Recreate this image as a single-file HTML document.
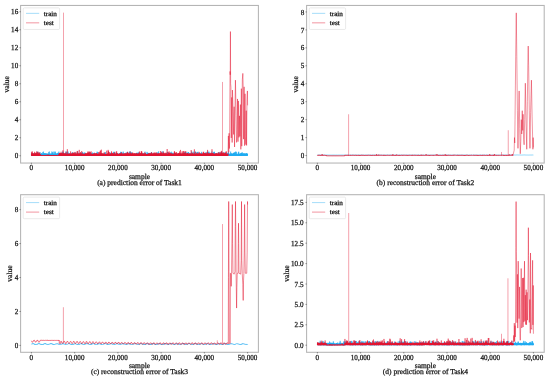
<!DOCTYPE html>
<html lang="en"><head><meta charset="utf-8"><title>Figure</title>
<style>
html,body{margin:0;padding:0;background:#fff;}
svg{display:block;}
text{font-family:"Liberation Serif","DejaVu Serif",serif;fill:#151515;stroke:#151515;stroke-width:0.25px;text-rendering:geometricPrecision;}
.t{font-size:7.7px;}
.l{font-size:7.5px;}
.c{font-size:7.5px;}
.g{font-size:6.7px;}
</style></head><body>
<svg width="550" height="379" viewBox="0 0 550 379">
<rect width="550" height="379" fill="#fff"/>
<rect x="20.6" y="5.45" width="237.8" height="157.6" fill="#fff" stroke="#b4b4b4" stroke-width="1.05"/>
<line x1="31.41" y1="162.75" x2="31.41" y2="164.25" stroke="#444" stroke-width="0.5"/>
<text transform="translate(31.41 170.45) scale(0.93 1)" text-anchor="middle" class="t">0</text>
<line x1="74.65" y1="162.75" x2="74.65" y2="164.25" stroke="#444" stroke-width="0.5"/>
<text transform="translate(74.65 170.45) scale(0.93 1)" text-anchor="middle" class="t">10,000</text>
<line x1="117.88" y1="162.75" x2="117.88" y2="164.25" stroke="#444" stroke-width="0.5"/>
<text transform="translate(117.88 170.45) scale(0.93 1)" text-anchor="middle" class="t">20,000</text>
<line x1="161.12" y1="162.75" x2="161.12" y2="164.25" stroke="#444" stroke-width="0.5"/>
<text transform="translate(161.12 170.45) scale(0.93 1)" text-anchor="middle" class="t">30,000</text>
<line x1="204.35" y1="162.75" x2="204.35" y2="164.25" stroke="#444" stroke-width="0.5"/>
<text transform="translate(204.35 170.45) scale(0.93 1)" text-anchor="middle" class="t">40,000</text>
<line x1="247.59" y1="162.75" x2="247.59" y2="164.25" stroke="#444" stroke-width="0.5"/>
<text transform="translate(247.59 170.45) scale(0.93 1)" text-anchor="middle" class="t">50,000</text>
<line x1="19.4" y1="155.75" x2="20.9" y2="155.75" stroke="#444" stroke-width="0.5"/>
<text transform="translate(18.2 158.35) scale(0.93 1)" text-anchor="end" class="t">0</text>
<line x1="19.4" y1="137.75" x2="20.9" y2="137.75" stroke="#444" stroke-width="0.5"/>
<text transform="translate(18.2 140.35) scale(0.93 1)" text-anchor="end" class="t">2</text>
<line x1="19.4" y1="119.75" x2="20.9" y2="119.75" stroke="#444" stroke-width="0.5"/>
<text transform="translate(18.2 122.35) scale(0.93 1)" text-anchor="end" class="t">4</text>
<line x1="19.4" y1="101.75" x2="20.9" y2="101.75" stroke="#444" stroke-width="0.5"/>
<text transform="translate(18.2 104.35) scale(0.93 1)" text-anchor="end" class="t">6</text>
<line x1="19.4" y1="83.75" x2="20.9" y2="83.75" stroke="#444" stroke-width="0.5"/>
<text transform="translate(18.2 86.35) scale(0.93 1)" text-anchor="end" class="t">8</text>
<line x1="19.4" y1="65.75" x2="20.9" y2="65.75" stroke="#444" stroke-width="0.5"/>
<text transform="translate(18.2 68.35) scale(0.93 1)" text-anchor="end" class="t">10</text>
<line x1="19.4" y1="47.75" x2="20.9" y2="47.75" stroke="#444" stroke-width="0.5"/>
<text transform="translate(18.2 50.35) scale(0.93 1)" text-anchor="end" class="t">12</text>
<line x1="19.4" y1="29.75" x2="20.9" y2="29.75" stroke="#444" stroke-width="0.5"/>
<text transform="translate(18.2 32.35) scale(0.93 1)" text-anchor="end" class="t">14</text>
<line x1="19.4" y1="11.75" x2="20.9" y2="11.75" stroke="#444" stroke-width="0.5"/>
<text transform="translate(18.2 14.35) scale(0.93 1)" text-anchor="end" class="t">16</text>
<text x="139.5" y="178.85" text-anchor="middle" class="l">sample</text>
<text x="139.5" y="185.05" text-anchor="middle" class="c">(a) prediction error of Task1</text>
<text transform="translate(9 84.25) rotate(-90)" text-anchor="middle" class="l">value</text>
<polyline points="31.41,155.62 31.5,153.49 31.59,155.72 31.68,154.64 31.77,155.53 31.86,153.54 31.95,155.59 32.04,153.62 32.13,155.69 32.22,154.23 32.31,155.47 32.4,154.55 32.49,155.6 32.58,154.26 32.67,155.74 32.76,154.08 32.85,155.43 32.94,153.67 33.03,155.6 33.12,153.34 33.21,155.72 33.3,154.75 33.39,155.65 33.48,154.95 33.57,155.66 33.66,154.15 33.75,155.73 33.84,153.46 33.93,155.63 34.02,154.15 34.11,155.69 34.2,154.6 34.29,155.67 34.38,154.69 34.47,155.51 34.56,154.68 34.65,155.69 34.74,155.01 34.83,155.74 34.92,154.76 35.01,155.69 35.1,153.29 35.19,155.64 35.28,153.58 35.37,155.69 35.46,153.76 35.55,155.53 35.64,154.1 35.73,155.43 35.82,153.54 35.91,155.45 36,154 36.09,155.58 36.19,154.36 36.28,155.47 36.37,154.77 36.46,155.47 36.55,154.38 36.64,155.52 36.73,154.02 36.82,155.46 36.91,153.94 37,155.61 37.09,154.76 37.18,155.48 37.27,154.61 37.36,155.56 37.45,151.63 37.54,155.48 37.63,154.66 37.72,155.48 37.81,151.87 37.9,155.73 37.99,153.89 38.08,155.45 38.17,153.58 38.26,155.74 38.35,153.48 38.44,155.6 38.53,154.77 38.62,155.54 38.71,153.44 38.8,155.45 38.89,154.71 38.98,155.73 39.07,153.93 39.16,155.51 39.25,154.38 39.34,155.63 39.43,154.61 39.52,155.74 39.61,153.53 39.7,155.63 39.79,154.09 39.88,155.52 39.97,152.03 40.06,155.72 40.15,154.39 40.24,155.44 40.33,154.81 40.42,155.73 40.51,153.9 40.6,155.66 40.69,154.13 40.78,155.63 40.87,154.44 40.96,155.73 41.05,153.86 41.14,155.42 41.23,154.14 41.32,155.4 41.41,153.47 41.5,155.42 41.59,153.43 41.68,155.68 41.77,153.74 41.86,155.45 41.95,154.79 42.04,155.63 42.13,153.63 42.22,155.65 42.31,153.95 42.4,155.5 42.49,154.15 42.58,155.72 42.67,154.64 42.76,155.75 42.85,152.12 42.94,155.41 43.03,154.43 43.12,155.62 43.21,154.05 43.3,155.46 43.39,151.59 43.48,155.6 43.57,154.26 43.66,155.72 43.75,154.14 43.84,155.58 43.93,153.5 44.02,155.69 44.12,154.03 44.21,155.72 44.3,153.53 44.39,155.74 44.48,153.45 44.57,155.61 44.66,154.29 44.75,155.66 44.84,153.4 44.93,155.63 45.02,153.65 45.11,155.4 45.2,153.8 45.29,155.45 45.38,153.37 45.47,155.5 45.56,154.34 45.65,155.66 45.74,154.93 45.83,155.48 45.92,153.46 46.01,155.5 46.1,154.83 46.19,155.56 46.28,154.21 46.37,155.66 46.46,153.9 46.55,155.68 46.64,153.39 46.73,155.6 46.82,153.95 46.91,155.65 47,154.71 47.09,155.43 47.18,154.32 47.27,155.58 47.36,153.63 47.45,155.51 47.54,154.83 47.63,155.43 47.72,153.66 47.81,155.53 47.9,154.13 47.99,155.69 48.08,154.94 48.17,155.64 48.26,154.99 48.35,155.42 48.44,154.6 48.53,155.73 48.62,152.23 48.71,155.67 48.8,154.02 48.89,155.53 48.98,153.87 49.07,155.44 49.16,154.49 49.25,155.45 49.34,151.49 49.43,155.49 49.52,153.9 49.61,155.5 49.7,154.7 49.79,155.62 49.88,154.95 49.97,155.73 50.06,153.39 50.15,155.52 50.24,154.93 50.33,155.72 50.42,154.48 50.51,155.46 50.6,153.96 50.69,155.7 50.78,154.49 50.87,155.74 50.96,153.67 51.05,155.39 51.14,153.72 51.23,155.69 51.32,154.69 51.41,155.54 51.5,153.93 51.59,155.73 51.68,154.86 51.77,155.4 51.86,151.47 51.95,155.74 52.05,153.65 52.14,155.5 52.23,153.79 52.32,155.45 52.41,153.5 52.5,155.64 52.59,152.17 52.68,155.75 52.77,154.66 52.86,155.74 52.95,153.41 53.04,155.73 53.13,154.59 53.22,155.48 53.31,153.9 53.4,155.56 53.49,154.37 53.58,155.43 53.67,153.89 53.76,155.52 53.85,151.57 53.94,155.54 54.03,154.1 54.12,155.68 54.21,154.6 54.3,155.67 54.39,154.24 54.48,155.4 54.57,153.74 54.66,155.41 54.75,154.51 54.84,155.59 54.93,151.76 55.02,155.46 55.11,154.79 55.2,155.49 55.29,151.7 55.38,155.65 55.47,154.56 55.56,155.68 55.65,153.6 55.74,155.48 55.83,154.7 55.92,155.4 56.01,153.52 56.1,155.4 56.19,153.81 56.28,155.62 56.37,153.78 56.46,155.73 56.55,153.62 56.64,155.64 56.73,154.39 56.82,155.72 56.91,154.14 57,155.39 57.09,154.7 57.18,155.64 57.27,154.11 57.36,155.44 57.45,153.5 57.54,155.66 57.63,153.18 57.72,155.4 57.81,153.92 57.9,155.57 57.99,153.33 58.08,155.45 58.17,152.65 58.26,155.53 58.35,154.35 58.44,155.47 58.53,154.71 58.62,155.72 58.71,153.73 58.8,155.72 58.89,151.6 58.98,155.62 59.07,154.31 59.16,155.43 59.25,153.58 59.34,155.42 59.43,154.36 59.52,155.49 59.61,153.79 59.7,155.53 59.79,153.61 59.88,155.73 59.98,154.36 60.07,155.42 60.16,153.73 60.25,155.51 60.34,154.77 60.43,155.53 60.52,153.62 60.61,155.45 60.7,154.81 60.79,155.66 60.88,153.17 60.97,155.53 61.06,154.72 61.15,155.5 61.24,154.26 61.33,155.48 61.42,154.7 61.51,155.72 61.6,154.65 61.69,155.49 61.78,154.91 61.87,155.43 61.96,154.97 62.05,155.52 62.14,154.49 62.23,155.69 62.32,154.25 62.41,155.42 62.5,153.33 62.59,155.71 62.68,151.74 62.77,155.67 62.86,152.9 62.95,155.44 63.04,151.84 63.13,155.54 63.22,154.16 63.31,155.63 63.4,154.72 63.49,155.46 63.58,152.88 63.67,155.52 63.76,153.88 63.85,155.71 63.94,154.12 64.03,155.67 64.12,154.14 64.21,155.46 64.3,154.11 64.39,155.46 64.48,153.68 64.57,155.72 64.66,154.72 64.75,155.56 64.84,154.83 64.93,155.49 65.02,153.42 65.11,155.63 65.2,153.37 65.29,155.73 65.38,154.16 65.47,155.6 65.56,153.46 65.65,155.41 65.74,154.48 65.83,155.49 65.92,151.48 66.01,155.67 66.1,154.23 66.19,155.45 66.28,153.73 66.37,155.51 66.46,152.8 66.55,155.65 66.64,153.58 66.73,155.65 66.82,153.77 66.91,155.69 67,151.55 67.09,155.6 67.18,154.74 67.27,155.62 67.36,154.01 67.45,155.65 67.54,153.43 67.63,155.44 67.72,152.76 67.81,155.48 67.9,153.38 68,155.57 68.09,151.57 68.18,155.4 68.27,153.66 68.36,155.51 68.45,153.93 68.54,155.41 68.63,154.28 68.72,155.45 68.81,153.84 68.9,155.52 68.99,154.45 69.08,155.5 69.17,154.67 69.26,155.47 69.35,153.71 69.44,155.48 69.53,153.78 69.62,155.44 69.71,153.39 69.8,155.63 69.89,154.33 69.98,155.62 70.07,154.13 70.16,155.66 70.25,154.88 70.34,155.42 70.43,154.07 70.52,155.42 70.61,154.95 70.7,155.59 70.79,153.95 70.88,155.61 70.97,154.89 71.06,155.7 71.15,154.64 71.24,155.4 71.33,153.53 71.42,155.51 71.51,154.25 71.6,155.4 71.69,153.82 71.78,155.52 71.87,153.65 71.96,155.56 72.05,153.97 72.14,155.48 72.23,153.87 72.32,155.43 72.41,152.05 72.5,155.45 72.59,154.35 72.68,155.63 72.77,154.37 72.86,155.57 72.95,153.74 73.04,155.41 73.13,154.45 73.22,155.57 73.31,154.37 73.4,155.46 73.49,153.69 73.58,155.56 73.67,153.81 73.76,155.45 73.85,154.36 73.94,155.73 74.03,154.04 74.12,155.75 74.21,153.89 74.3,155.72 74.39,154.03 74.48,155.59 74.57,154.71 74.66,155.62 74.75,154.52 74.84,155.4 74.93,153.32 75.02,155.39 75.11,152.19 75.2,155.7 75.29,154.03 75.38,155.45 75.47,153.51 75.56,155.57 75.65,154.57 75.74,155.45 75.83,154.18 75.93,155.62 76.02,154.9 76.11,155.47 76.2,154.49 76.29,155.75 76.38,154.68 76.47,155.58 76.56,153.61 76.65,155.63 76.74,154.22 76.83,155.66 76.92,154.24 77.01,155.64 77.1,154.09 77.19,155.6 77.28,154.48 77.37,155.57 77.46,153.71 77.55,155.56 77.64,153.77 77.73,155.49 77.82,151.6 77.91,155.45 78,153.86 78.09,155.4 78.18,153.93 78.27,155.51 78.36,153.94 78.45,155.66 78.54,154.21 78.63,155.54 78.72,153.95 78.81,155.59 78.9,153.38 78.99,155.67 79.08,154.5 79.17,155.63 79.26,154.91 79.35,155.67 79.44,153.71 79.53,155.56 79.62,154.69 79.71,155.73 79.8,154.47 79.89,155.55 79.98,154.19 80.07,155.6 80.16,153.9 80.25,155.75 80.34,153.03 80.43,155.65 80.52,154.44 80.61,155.4 80.7,154.28 80.79,155.54 80.88,154.78 80.97,155.73 81.06,152.8 81.15,155.54 81.24,154.79 81.33,155.5 81.42,154.54 81.51,155.7 81.6,153.21 81.69,155.61 81.78,154.74 81.87,155.67 81.96,155 82.05,155.55 82.14,154.74 82.23,155.45 82.32,152.51 82.41,155.66 82.5,153.97 82.59,155.7 82.68,152 82.77,155.7 82.86,154.75 82.95,155.53 83.04,153.5 83.13,155.73 83.22,154.94 83.31,155.56 83.4,154 83.49,155.46 83.58,154.66 83.67,155.47 83.76,153.51 83.86,155.51 83.95,154.48 84.04,155.75 84.13,153.61 84.22,155.59 84.31,153.34 84.4,155.66 84.49,152.67 84.58,155.56 84.67,154.05 84.76,155.7 84.85,153.99 84.94,155.7 85.03,152.62 85.12,155.41 85.21,153.79 85.3,155.43 85.39,154.3 85.48,155.71 85.57,153.74 85.66,155.45 85.75,154.89 85.84,155.73 85.93,154.71 86.02,155.63 86.11,154.26 86.2,155.39 86.29,154.55 86.38,155.41 86.47,153.86 86.56,155.58 86.65,154.34 86.74,155.5 86.83,153.68 86.92,155.61 87.01,154.78 87.1,155.44 87.19,153.85 87.28,155.64 87.37,154.57 87.46,155.68 87.55,153.28 87.64,155.7 87.73,154.8 87.82,155.52 87.91,154.82 88,155.55 88.09,154.96 88.18,155.43 88.27,153.58 88.36,155.7 88.45,154.55 88.54,155.46 88.63,152.92 88.72,155.41 88.81,153.95 88.9,155.48 88.99,152.83 89.08,155.71 89.17,153.73 89.26,155.69 89.35,153.76 89.44,155.72 89.53,152.05 89.62,155.63 89.71,154.36 89.8,155.48 89.89,153.38 89.98,155.7 90.07,154.67 90.16,155.59 90.25,154.55 90.34,155.73 90.43,152.61 90.52,155.51 90.61,154.53 90.7,155.71 90.79,154.89 90.88,155.46 90.97,154.56 91.06,155.53 91.15,154.91 91.24,155.68 91.33,154.66 91.42,155.5 91.51,153.45 91.6,155.62 91.69,154.05 91.79,155.56 91.88,154.89 91.97,155.55 92.06,153.52 92.15,155.65 92.24,153.65 92.33,155.6 92.42,152.48 92.51,155.47 92.6,153.55 92.69,155.44 92.78,154.13 92.87,155.44 92.96,153.73 93.05,155.55 93.14,154.57 93.23,155.44 93.32,154.22 93.41,155.7 93.5,153.37 93.59,155.4 93.68,154.95 93.77,155.73 93.86,154.76 93.95,155.43 94.04,154.06 94.13,155.46 94.22,152.68 94.31,155.61 94.4,154.47 94.49,155.47 94.58,152.89 94.67,155.41 94.76,153.66 94.85,155.69 94.94,154.68 95.03,155.52 95.12,154.19 95.21,155.75 95.3,153.97 95.39,155.51 95.48,154.79 95.57,155.73 95.66,153.77 95.75,155.51 95.84,154.56 95.93,155.74 96.02,154.1 96.11,155.6 96.2,154.07 96.29,155.44 96.38,152.91 96.47,155.64 96.56,154.85 96.65,155.4 96.74,154.73 96.83,155.58 96.92,153.47 97.01,155.68 97.1,151.66 97.19,155.41 97.28,154.22 97.37,155.69 97.46,154.9 97.55,155.54 97.64,154.19 97.73,155.41 97.82,151.99 97.91,155.41 98,154.78 98.09,155.55 98.18,152.86 98.27,155.67 98.36,154.82 98.45,155.57 98.54,154.49 98.63,155.64 98.72,155 98.81,155.64 98.9,154.74 98.99,155.64 99.08,153.9 99.17,155.68 99.26,154.74 99.35,155.74 99.44,154.54 99.53,155.48 99.62,154.65 99.71,155.75 99.81,154.23 99.9,155.54 99.99,154.02 100.08,155.62 100.17,154.96 100.26,155.52 100.35,153.74 100.44,155.54 100.53,154.33 100.62,155.58 100.71,154.33 100.8,155.47 100.89,153.46 100.98,155.54 101.07,153.77 101.16,155.43 101.25,154.78 101.34,155.54 101.43,154 101.52,155.43 101.61,154.77 101.7,155.44 101.79,154.21 101.88,155.5 101.97,153.37 102.06,155.63 102.15,154.8 102.24,155.57 102.33,154.85 102.42,155.72 102.51,154.46 102.6,155.49 102.69,154.96 102.78,155.52 102.87,153.98 102.96,155.46 103.05,154.05 103.14,155.72 103.23,154.06 103.32,155.7 103.41,153.87 103.5,155.52 103.59,154.75 103.68,155.49 103.77,154.32 103.86,155.72 103.95,153.5 104.04,155.74 104.13,154.57 104.22,155.63 104.31,153.42 104.4,155.63 104.49,154.39 104.58,155.73 104.67,154.33 104.76,155.71 104.85,152.71 104.94,155.68 105.03,154.26 105.12,155.74 105.21,154.28 105.3,155.7 105.39,152.07 105.48,155.74 105.57,154.06 105.66,155.62 105.75,153.66 105.84,155.48 105.93,154.62 106.02,155.51 106.11,154.5 106.2,155.53 106.29,154.38 106.38,155.58 106.47,153.94 106.56,155.68 106.65,154.84 106.74,155.73 106.83,153.73 106.92,155.68 107.01,153.94 107.1,155.41 107.19,154.33 107.28,155.46 107.37,154.59 107.46,155.54 107.55,153.98 107.64,155.53 107.74,154.76 107.83,155.48 107.92,154.88 108.01,155.45 108.1,154.68 108.19,155.66 108.28,154.68 108.37,155.46 108.46,151.54 108.55,155.52 108.64,153.34 108.73,155.65 108.82,154.95 108.91,155.65 109,154 109.09,155.69 109.18,154.45 109.27,155.55 109.36,155.01 109.45,155.4 109.54,154.09 109.63,155.47 109.72,154.68 109.81,155.69 109.9,154.9 109.99,155.71 110.08,153.44 110.17,155.65 110.26,152.68 110.35,155.69 110.44,155 110.53,155.7 110.62,153.39 110.71,155.49 110.8,153.94 110.89,155.64 110.98,154.48 111.07,155.55 111.16,154.65 111.25,155.64 111.34,154.81 111.43,155.4 111.52,154.85 111.61,155.54 111.7,153.49 111.79,155.7 111.88,154.45 111.97,155.47 112.06,153.67 112.15,155.65 112.24,154.09 112.33,155.59 112.42,154.85 112.51,155.65 112.6,154.03 112.69,155.57 112.78,153.63 112.87,155.64 112.96,154.14 113.05,155.63 113.14,153.51 113.23,155.69 113.32,154.8 113.41,155.4 113.5,152.05 113.59,155.68 113.68,154.25 113.77,155.65 113.86,154.96 113.95,155.6 114.04,151.63 114.13,155.71 114.22,153.29 114.31,155.67 114.4,154.49 114.49,155.6 114.58,155.01 114.67,155.54 114.76,154.68 114.85,155.56 114.94,152.67 115.03,155.62 115.12,153.5 115.21,155.51 115.3,154.54 115.39,155.48 115.48,154.16 115.57,155.65 115.67,154.94 115.76,155.66 115.85,154.04 115.94,155.52 116.03,154.15 116.12,155.6 116.21,154.28 116.3,155.45 116.39,153.41 116.48,155.75 116.57,154.76 116.66,155.56 116.75,153.6 116.84,155.62 116.93,153.78 117.02,155.67 117.11,154.66 117.2,155.44 117.29,155 117.38,155.67 117.47,154.69 117.56,155.47 117.65,153.36 117.74,155.44 117.83,154.92 117.92,155.4 118.01,153.9 118.1,155.71 118.19,154.59 118.28,155.69 118.37,154.1 118.46,155.72 118.55,154.16 118.64,155.63 118.73,153.9 118.82,155.42 118.91,153.48 119,155.52 119.09,154.18 119.18,155.69 119.27,153.56 119.36,155.71 119.45,153.65 119.54,155.48 119.63,153.8 119.72,155.53 119.81,154 119.9,155.75 119.99,154.93 120.08,155.54 120.17,154.1 120.26,155.68 120.35,154.43 120.44,155.64 120.53,151.87 120.62,155.71 120.71,154.85 120.8,155.39 120.89,153.38 120.98,155.59 121.07,153.51 121.16,155.53 121.25,151.86 121.34,155.68 121.43,154.68 121.52,155.61 121.61,153.53 121.7,155.52 121.79,154.13 121.88,155.48 121.97,154.14 122.06,155.42 122.15,154.81 122.24,155.66 122.33,153.66 122.42,155.66 122.51,154.78 122.6,155.6 122.69,154.57 122.78,155.64 122.87,152.55 122.96,155.45 123.05,154.3 123.14,155.62 123.23,151.62 123.32,155.62 123.41,154.53 123.5,155.57 123.6,154.23 123.69,155.55 123.78,154.6 123.87,155.62 123.96,154.49 124.05,155.75 124.14,154.35 124.23,155.49 124.32,153.53 124.41,155.71 124.5,154.86 124.59,155.44 124.68,153.34 124.77,155.66 124.86,154.51 124.95,155.66 125.04,155 125.13,155.56 125.22,154.66 125.31,155.42 125.4,154.22 125.49,155.61 125.58,154.48 125.67,155.58 125.76,153.64 125.85,155.6 125.94,154.06 126.03,155.71 126.12,152.46 126.21,155.65 126.3,154.29 126.39,155.42 126.48,154.36 126.57,155.41 126.66,154.83 126.75,155.66 126.84,153.72 126.93,155.42 127.02,154.58 127.11,155.74 127.2,153.8 127.29,155.49 127.38,151.85 127.47,155.74 127.56,154.72 127.65,155.6 127.74,153.8 127.83,155.6 127.92,153.54 128.01,155.59 128.1,154.23 128.19,155.41 128.28,153.46 128.37,155.62 128.46,153.84 128.55,155.74 128.64,153.43 128.73,155.71 128.82,154.97 128.91,155.48 129,153.99 129.09,155.7 129.18,152.06 129.27,155.73 129.36,154.09 129.45,155.68 129.54,154.4 129.63,155.4 129.72,154 129.81,155.59 129.9,151.47 129.99,155.7 130.08,154.05 130.17,155.51 130.26,151.74 130.35,155.61 130.44,154.82 130.53,155.55 130.62,153.91 130.71,155.39 130.8,153.7 130.89,155.5 130.98,153.5 131.07,155.56 131.16,154.82 131.25,155.39 131.34,152.24 131.43,155.57 131.52,154.15 131.62,155.59 131.71,154.09 131.8,155.44 131.89,152.74 131.98,155.41 132.07,154.01 132.16,155.49 132.25,154.24 132.34,155.62 132.43,153.02 132.52,155.61 132.61,154.03 132.7,155.75 132.79,153.68 132.88,155.66 132.97,154.92 133.06,155.47 133.15,154.69 133.24,155.57 133.33,154.47 133.42,155.44 133.51,153.95 133.6,155.51 133.69,155 133.78,155.55 133.87,154.41 133.96,155.46 134.05,154.09 134.14,155.57 134.23,153.73 134.32,155.51 134.41,154.53 134.5,155.57 134.59,154.23 134.68,155.62 134.77,154 134.86,155.47 134.95,154.27 135.04,155.72 135.13,154.03 135.22,155.4 135.31,153.4 135.4,155.4 135.49,154.33 135.58,155.45 135.67,153.51 135.76,155.58 135.85,154.22 135.94,155.59 136.03,154.2 136.12,155.61 136.21,154.54 136.3,155.58 136.39,153.61 136.48,155.67 136.57,152.78 136.66,155.46 136.75,154.16 136.84,155.43 136.93,153.68 137.02,155.57 137.11,153.38 137.2,155.44 137.29,154.51 137.38,155.65 137.47,153.51 137.56,155.44 137.65,152.69 137.74,155.4 137.83,152.95 137.92,155.51 138.01,153.93 138.1,155.4 138.19,153.66 138.28,155.49 138.37,154.21 138.46,155.5 138.55,153.34 138.64,155.58 138.73,154.15 138.82,155.73 138.91,151.89 139,155.7 139.09,154.08 139.18,155.45 139.27,153.44 139.36,155.68 139.45,154.67 139.55,155.5 139.64,153.81 139.73,155.69 139.82,153.49 139.91,155.48 140,153.43 140.09,155.41 140.18,155.02 140.27,155.53 140.36,153.38 140.45,155.74 140.54,154.92 140.63,155.48 140.72,153.46 140.81,155.58 140.9,153.8 140.99,155.44 141.08,153.59 141.17,155.7 141.26,154.85 141.35,155.65 141.44,154.79 141.53,155.42 141.62,153.33 141.71,155.45 141.8,154.13 141.89,155.42 141.98,154.54 142.07,155.56 142.16,153.47 142.25,155.51 142.34,154.46 142.43,155.41 142.52,153.46 142.61,155.51 142.7,155.01 142.79,155.72 142.88,154 142.97,155.69 143.06,153.77 143.15,155.75 143.24,154.86 143.33,155.71 143.42,153.02 143.51,155.74 143.6,153.77 143.69,155.61 143.78,153.97 143.87,155.53 143.96,154.62 144.05,155.44 144.14,154.81 144.23,155.6 144.32,154.94 144.41,155.69 144.5,154.73 144.59,155.42 144.68,154.09 144.77,155.42 144.86,153.43 144.95,155.4 145.04,151.63 145.13,155.74 145.22,153.82 145.31,155.54 145.4,154.99 145.49,155.52 145.58,154.72 145.67,155.56 145.76,154.13 145.85,155.68 145.94,153.34 146.03,155.42 146.12,154.35 146.21,155.56 146.3,154.23 146.39,155.74 146.48,154.4 146.57,155.63 146.66,154.54 146.75,155.49 146.84,154.77 146.93,155.68 147.02,151.87 147.11,155.47 147.2,153.58 147.29,155.67 147.38,153.97 147.48,155.59 147.57,154.41 147.66,155.64 147.75,152.77 147.84,155.7 147.93,153.39 148.02,155.43 148.11,153.38 148.2,155.63 148.29,153.67 148.38,155.48 148.47,153.54 148.56,155.43 148.65,153.82 148.74,155.65 148.83,154.16 148.92,155.75 149.01,154.68 149.1,155.56 149.19,152.86 149.28,155.67 149.37,153.89 149.46,155.44 149.55,153.9 149.64,155.69 149.73,153.89 149.82,155.49 149.91,153.21 150,155.74 150.09,153.31 150.18,155.65 150.27,154.23 150.36,155.68 150.45,154.4 150.54,155.44 150.63,154.1 150.72,155.53 150.81,153.45 150.9,155.51 150.99,154.92 151.08,155.72 151.17,154.58 151.26,155.64 151.35,152.04 151.44,155.43 151.53,154.19 151.62,155.53 151.71,153.84 151.8,155.48 151.89,152.55 151.98,155.57 152.07,153.87 152.16,155.68 152.25,153.99 152.34,155.42 152.43,154.06 152.52,155.66 152.61,154.17 152.7,155.69 152.79,154.36 152.88,155.52 152.97,153.9 153.06,155.72 153.15,154.42 153.24,155.47 153.33,153.97 153.42,155.49 153.51,153.5 153.6,155.61 153.69,154.41 153.78,155.56 153.87,154.82 153.96,155.57 154.05,154.55 154.14,155.72 154.23,153.34 154.32,155.72 154.41,153.68 154.5,155.62 154.59,154.03 154.68,155.75 154.77,154.53 154.86,155.68 154.95,153.75 155.04,155.62 155.13,154.52 155.22,155.52 155.31,153.33 155.4,155.56 155.5,153.54 155.59,155.69 155.68,153.76 155.77,155.48 155.86,154.64 155.95,155.46 156.04,153.96 156.13,155.51 156.22,154.51 156.31,155.5 156.4,154.98 156.49,155.66 156.58,154.27 156.67,155.45 156.76,153.19 156.85,155.54 156.94,153.88 157.03,155.69 157.12,152.13 157.21,155.5 157.3,153.75 157.39,155.52 157.48,154.87 157.57,155.55 157.66,154.62 157.75,155.58 157.84,153.63 157.93,155.47 158.02,153.59 158.11,155.49 158.2,154.7 158.29,155.54 158.38,153.78 158.47,155.73 158.56,151.44 158.65,155.67 158.74,154.51 158.83,155.4 158.92,154.14 159.01,155.61 159.1,154.47 159.19,155.52 159.28,154.18 159.37,155.7 159.46,154.3 159.55,155.54 159.64,153.86 159.73,155.53 159.82,153.35 159.91,155.48 160,154.16 160.09,155.4 160.18,154.35 160.27,155.59 160.36,154.87 160.45,155.64 160.54,153.55 160.63,155.69 160.72,153.66 160.81,155.63 160.9,154.42 160.99,155.59 161.08,154.69 161.17,155.4 161.26,154.5 161.35,155.57 161.44,154.45 161.53,155.51 161.62,153.42 161.71,155.49 161.8,153.38 161.89,155.75 161.98,153.92 162.07,155.67 162.16,151.44 162.25,155.56 162.34,154.84 162.43,155.73 162.52,154.33 162.61,155.7 162.7,154.11 162.79,155.48 162.88,153.79 162.97,155.51 163.06,154.08 163.15,155.7 163.24,151.48 163.33,155.71 163.43,154.45 163.52,155.45 163.61,154.85 163.7,155.58 163.79,154.24 163.88,155.64 163.97,153.8 164.06,155.49 164.15,153.69 164.24,155.51 164.33,154.11 164.42,155.39 164.51,153.87 164.6,155.71 164.69,153.66 164.78,155.47 164.87,154.18 164.96,155.58 165.05,154.85 165.14,155.66 165.23,154.6 165.32,155.57 165.41,153.75 165.5,155.74 165.59,153.83 165.68,155.71 165.77,154.36 165.86,155.71 165.95,154.52 166.04,155.5 166.13,153.71 166.22,155.49 166.31,154.55 166.4,155.66 166.49,153.87 166.58,155.64 166.67,153.79 166.76,155.47 166.85,154.71 166.94,155.61 167.03,154.54 167.12,155.62 167.21,153.33 167.3,155.41 167.39,154.96 167.48,155.55 167.57,151.98 167.66,155.56 167.75,154.01 167.84,155.53 167.93,152.29 168.02,155.74 168.11,153.55 168.2,155.61 168.29,154.7 168.38,155.47 168.47,153.07 168.56,155.52 168.65,153.96 168.74,155.43 168.83,154.9 168.92,155.64 169.01,153.67 169.1,155.58 169.19,154.91 169.28,155.67 169.37,153.94 169.46,155.68 169.55,154.25 169.64,155.72 169.73,153.38 169.82,155.68 169.91,153.8 170,155.69 170.09,153.26 170.18,155.59 170.27,154.91 170.36,155.6 170.45,152.5 170.54,155.47 170.63,154.47 170.72,155.47 170.81,153.63 170.9,155.56 170.99,154.85 171.08,155.51 171.17,154.11 171.26,155.58 171.36,151.74 171.45,155.64 171.54,154.64 171.63,155.57 171.72,153.62 171.81,155.52 171.9,154.98 171.99,155.41 172.08,154.51 172.17,155.46 172.26,153.56 172.35,155.73 172.44,153.55 172.53,155.52 172.62,153.59 172.71,155.72 172.8,154.57 172.89,155.53 172.98,152.6 173.07,155.44 173.16,153.61 173.25,155.5 173.34,154.74 173.43,155.71 173.52,154.23 173.61,155.6 173.7,153.42 173.79,155.68 173.88,153.78 173.97,155.51 174.06,154.56 174.15,155.49 174.24,155.02 174.33,155.48 174.42,154.55 174.51,155.62 174.6,154.48 174.69,155.53 174.78,153.79 174.87,155.68 174.96,154.63 175.05,155.42 175.14,153.57 175.23,155.41 175.32,154.07 175.41,155.74 175.5,153.53 175.59,155.55 175.68,154.15 175.77,155.49 175.86,154.65 175.95,155.67 176.04,154.46 176.13,155.74 176.22,154.33 176.31,155.75 176.4,154.53 176.49,155.5 176.58,154.46 176.67,155.75 176.76,153.97 176.85,155.61 176.94,154.68 177.03,155.46 177.12,154.15 177.21,155.73 177.3,153.81 177.39,155.5 177.48,153.58 177.57,155.59 177.66,153.88 177.75,155.61 177.84,154.75 177.93,155.58 178.02,154.59 178.11,155.62 178.2,154.82 178.29,155.44 178.38,154.99 178.47,155.51 178.56,153.75 178.65,155.61 178.74,154.8 178.83,155.71 178.92,153.6 179.01,155.57 179.1,154.69 179.19,155.39 179.29,154.24 179.38,155.43 179.47,154.1 179.56,155.73 179.65,153.91 179.74,155.62 179.83,153.85 179.92,155.58 180.01,153.82 180.1,155.6 180.19,153.79 180.28,155.71 180.37,153.41 180.46,155.68 180.55,154.56 180.64,155.56 180.73,154.14 180.82,155.49 180.91,154.6 181,155.49 181.09,154.4 181.18,155.51 181.27,154.28 181.36,155.51 181.45,154.25 181.54,155.75 181.63,155 181.72,155.67 181.81,154.52 181.9,155.63 181.99,154.41 182.08,155.66 182.17,153.49 182.26,155.61 182.35,154.7 182.44,155.61 182.53,154.39 182.62,155.63 182.71,153.9 182.8,155.75 182.89,153.73 182.98,155.44 183.07,154.99 183.16,155.41 183.25,154.15 183.34,155.53 183.43,154.36 183.52,155.65 183.61,153.59 183.7,155.59 183.79,154.56 183.88,155.42 183.97,152.25 184.06,155.53 184.15,152.42 184.24,155.5 184.33,153.92 184.42,155.5 184.51,153.59 184.6,155.4 184.69,153.82 184.78,155.51 184.87,153.52 184.96,155.71 185.05,153.78 185.14,155.57 185.23,152.24 185.32,155.42 185.41,151.93 185.5,155.7 185.59,154.21 185.68,155.73 185.77,154.23 185.86,155.73 185.95,154.19 186.04,155.72 186.13,153.07 186.22,155.69 186.31,154.52 186.4,155.47 186.49,154.6 186.58,155.53 186.67,154.83 186.76,155.49 186.85,154.13 186.94,155.55 187.03,151.9 187.12,155.62 187.21,154.17 187.31,155.47 187.4,153.37 187.49,155.69 187.58,154.29 187.67,155.62 187.76,154.31 187.85,155.6 187.94,153.4 188.03,155.51 188.12,154.67 188.21,155.48 188.3,154.02 188.39,155.55 188.48,152.02 188.57,155.53 188.66,152.56 188.75,155.65 188.84,153.51 188.93,155.54 189.02,154.35 189.11,155.45 189.2,153.41 189.29,155.59 189.38,153.16 189.47,155.48 189.56,154.97 189.65,155.57 189.74,154.91 189.83,155.57 189.92,155.01 190.01,155.53 190.1,154.68 190.19,155.7 190.28,154.17 190.37,155.67 190.46,153.49 190.55,155.69 190.64,154.39 190.73,155.56 190.82,153.67 190.91,155.51 191,153.58 191.09,155.5 191.18,153.97 191.27,155.67 191.36,153.49 191.45,155.63 191.54,151.48 191.63,155.7 191.72,153.54 191.81,155.51 191.9,154.63 191.99,155.6 192.08,154.5 192.17,155.65 192.26,154.44 192.35,155.67 192.44,154.95 192.53,155.41 192.62,153.34 192.71,155.58 192.8,154.24 192.89,155.39 192.98,155.01 193.07,155.63 193.16,151.67 193.25,155.67 193.34,153.44 193.43,155.49 193.52,154.78 193.61,155.42 193.7,154.08 193.79,155.69 193.88,154.5 193.97,155.44 194.06,152.28 194.15,155.54 194.24,154.72 194.33,155.42 194.42,153.51 194.51,155.41 194.6,153.84 194.69,155.6 194.78,154.54 194.87,155.41 194.96,153.38 195.05,155.69 195.14,154.04 195.24,155.59 195.33,151.62 195.42,155.59 195.51,151.78 195.6,155.66 195.69,153.65 195.78,155.58 195.87,153.36 195.96,155.48 196.05,153.36 196.14,155.71 196.23,153.07 196.32,155.58 196.41,154.88 196.5,155.56 196.59,153.8 196.68,155.68 196.77,154.99 196.86,155.52 196.95,154.6 197.04,155.66 197.13,152.09 197.22,155.54 197.31,153.77 197.4,155.54 197.49,152.25 197.58,155.48 197.67,154.41 197.76,155.41 197.85,153.69 197.94,155.42 198.03,151.81 198.12,155.57 198.21,153.75 198.3,155.66 198.39,154.46 198.48,155.66 198.57,153.99 198.66,155.47 198.75,154.83 198.84,155.48 198.93,153.38 199.02,155.46 199.11,152.68 199.2,155.45 199.29,154.81 199.38,155.55 199.47,154.28 199.56,155.43 199.65,153.61 199.74,155.51 199.83,154.94 199.92,155.52 200.01,153.84 200.1,155.45 200.19,154.56 200.28,155.52 200.37,153.54 200.46,155.47 200.55,154.32 200.64,155.42 200.73,155.01 200.82,155.61 200.91,154.46 201,155.48 201.09,153.72 201.18,155.64 201.27,154.05 201.36,155.57 201.45,151.89 201.54,155.44 201.63,154.22 201.72,155.4 201.81,153.29 201.9,155.41 201.99,153.49 202.08,155.48 202.17,154.14 202.26,155.44 202.35,154.87 202.44,155.43 202.53,154.17 202.62,155.53 202.71,153.73 202.8,155.66 202.89,153.95 202.98,155.74 203.07,154.87 203.17,155.48 203.26,153.76 203.35,155.48 203.44,153.93 203.53,155.49 203.62,154.36 203.71,155.54 203.8,154.08 203.89,155.51 203.98,153.61 204.07,155.49 204.16,153.45 204.25,155.56 204.34,153.71 204.43,155.51 204.52,153.74 204.61,155.67 204.7,154.23 204.79,155.56 204.88,154.96 204.97,155.52 205.06,154.19 205.15,155.55 205.24,153.08 205.33,155.66 205.42,152.37 205.51,155.7 205.6,154.08 205.69,155.51 205.78,153.52 205.87,155.71 205.96,154.6 206.05,155.46 206.14,153.94 206.23,155.68 206.32,153.7 206.41,155.47 206.5,154.21 206.59,155.62 206.68,153.18 206.77,155.43 206.86,153.72 206.95,155.67 207.04,154.03 207.13,155.69 207.22,151.76 207.31,155.51 207.4,153.76 207.49,155.47 207.58,154.58 207.67,155.62 207.76,153.47 207.85,155.58 207.94,151.7 208.03,155.51 208.12,154.26 208.21,155.64 208.3,152.1 208.39,155.61 208.48,154.75 208.57,155.55 208.66,154.91 208.75,155.64 208.84,153.84 208.93,155.7 209.02,151.69 209.11,155.42 209.2,153.94 209.29,155.71 209.38,152.79 209.47,155.39 209.56,154.54 209.65,155.45 209.74,153.35 209.83,155.59 209.92,154.16 210.01,155.44 210.1,154.49 210.19,155.73 210.28,154.99 210.37,155.55 210.46,154.72 210.55,155.62 210.64,153.41 210.73,155.64 210.82,154.51 210.91,155.43 211,153.83 211.1,155.74 211.19,154.37 211.28,155.44 211.37,153.57 211.46,155.72 211.55,154.91 211.64,155.51 211.73,154.18 211.82,155.65 211.91,151.5 212,155.56 212.09,154.13 212.18,155.42 212.27,153.96 212.36,155.46 212.45,154.86 212.54,155.71 212.63,153.69 212.72,155.64 212.81,153.67 212.9,155.57 212.99,153.49 213.08,155.49 213.17,153.45 213.26,155.75 213.35,154.09 213.44,155.44 213.53,153.96 213.62,155.45 213.71,154.75 213.8,155.41 213.89,152.01 213.98,155.68 214.07,152.16 214.16,155.67 214.25,151.69 214.34,155.45 214.43,154.81 214.52,155.56 214.61,153.33 214.7,155.66 214.79,153.07 214.88,155.74 214.97,154.67 215.06,155.67 215.15,153.68 215.24,155.51 215.33,153.6 215.42,155.49 215.51,154.07 215.6,155.62 215.69,154.62 215.78,155.42 215.87,154.47 215.96,155.57 216.05,155.02 216.14,155.56 216.23,153.89 216.32,155.61 216.41,154.9 216.5,155.6 216.59,152.99 216.68,155.62 216.77,153.56 216.86,155.45 216.95,154.29 217.04,155.59 217.13,153.92 217.22,155.67 217.31,154.72 217.4,155.59 217.49,154.17 217.58,155.42 217.67,153.77 217.76,155.52 217.85,154.68 217.94,155.71 218.03,154.82 218.12,155.6 218.21,152.19 218.3,155.58 218.39,154.84 218.48,155.74 218.57,153.76 218.66,155.4 218.75,154.36 218.84,155.42 218.93,154.13 219.02,155.71 219.12,153.43 219.21,155.55 219.3,153.48 219.39,155.64 219.48,152.33 219.57,155.67 219.66,153.62 219.75,155.65 219.84,154.53 219.93,155.73 220.02,153.53 220.11,155.5 220.2,152.4 220.29,155.62 220.38,153.58 220.47,155.5 220.56,154.94 220.65,155.46 220.74,153.84 220.83,155.54 220.92,154.13 221.01,155.63 221.1,154.45 221.19,155.7 221.28,153.36 221.37,155.52 221.46,154.17 221.55,155.51 221.64,152.35 221.73,155.47 221.82,153.76 221.91,155.7 222,151.69 222.09,155.73 222.18,154.12 222.27,155.43 222.36,154.46 222.45,155.53 222.54,154.22 222.63,155.72 222.72,154.65 222.81,155.49 222.9,154.87 222.99,155.73 223.08,153.56 223.17,155.52 223.26,153.75 223.35,155.55 223.44,154.85 223.53,155.49 223.62,153.55 223.71,155.72 223.8,153.95 223.89,155.42 223.98,154.77 224.07,155.41 224.16,154.2 224.25,155.4 224.34,154.58 224.43,155.47 224.52,154.48 224.61,155.64 224.7,154.58 224.79,155.4 224.88,152.04 224.97,155.53 225.06,153.44 225.15,155.49 225.24,153.77 225.33,155.51 225.42,153.59 225.51,155.68 225.6,153.34 225.69,155.44 225.78,153.9 225.87,155.52 225.96,154.1 226.05,155.67 226.14,154.81 226.23,155.61 226.32,153.66 226.41,155.7 226.5,154.61 226.59,155.59 226.68,153.72 226.77,155.39 226.86,153.39 226.95,155.61 227.05,153.33 227.14,155.61 227.23,154.2 227.32,155.46 227.41,154.86 227.5,155.72 227.59,153.95 227.68,155.71 227.77,153.48 227.86,155.48 227.95,153.43 228.04,155.7 228.13,153.42 228.22,155.53 228.31,154.76 228.4,155.46 228.49,151.76 228.58,155.55 228.67,153.59 228.76,155.72 228.85,154.16 228.94,155.68 229.03,153.55 229.12,155.56 229.21,154.75 229.3,155.41 229.39,154.55 229.48,155.51 229.57,154.69 229.66,155.5 229.75,154.55 229.84,155.54 229.93,154.85 230.02,155.63 230.11,153.7 230.2,155.53 230.29,154.2 230.38,155.75 230.47,154.94 230.56,155.6 230.65,151.58 230.74,155.46 230.83,153.57 230.92,155.68 231.01,153.72 231.1,155.52 231.19,154.73 231.28,155.49 231.37,153.45 231.46,155.69 231.55,154.35 231.64,155.44 231.73,153.49 231.82,155.66 231.91,154.15 232,155.4 232.09,154.1 232.18,155.63 232.27,154.2 232.36,155.53 232.45,154.6 232.54,155.41 232.63,154.94 232.72,155.45 232.81,153.4 232.9,155.58 232.99,153.78 233.08,155.68 233.17,154.33 233.26,155.53 233.35,153.3 233.44,155.54 233.53,153.82 233.62,155.73 233.71,152.75 233.8,155.61 233.89,153.55 233.98,155.42 234.07,153.86 234.16,155.56 234.25,153.42 234.34,155.68 234.43,152.26 234.52,155.52 234.61,153.35 234.7,155.59 234.79,154.12 234.88,155.42 234.98,152.59 235.07,155.57 235.16,154.91 235.25,155.74 235.34,154.69 235.43,155.69 235.52,154.88 235.61,155.69 235.7,151.83 235.79,155.41 235.88,151.55 235.97,155.62 236.06,154.98 236.15,155.62 236.24,152.11 236.33,155.4 236.42,153.81 236.51,155.68 236.6,154.88 236.69,155.53 236.78,153.98 236.87,155.41 236.96,155.01 237.05,155.42 237.14,154.87 237.23,155.69 237.32,154.44 237.41,155.58 237.5,154.86 237.59,155.66 237.68,154.85 237.77,155.5 237.86,154.07 237.95,155.66 238.04,153.38 238.13,155.69 238.22,154.45 238.31,155.65 238.4,152.09 238.49,155.7 238.58,154.52 238.67,155.49 238.76,151.69 238.85,155.65 238.94,154.53 239.03,155.61 239.12,153.94 239.21,155.65 239.3,154.64 239.39,155.61 239.48,153.76 239.57,155.64 239.66,154.17 239.75,155.62 239.84,154.62 239.93,155.49 240.02,154.16 240.11,155.69 240.2,153.82 240.29,155.5 240.38,152.99 240.47,155.62 240.56,154.23 240.65,155.72 240.74,154.99 240.83,155.71 240.92,153.96 241.01,155.43 241.1,154.79 241.19,155.73 241.28,153.23 241.37,155.65 241.46,152.99 241.55,155.44 241.64,153.44 241.73,155.72 241.82,154.12 241.91,155.67 242,152.69 242.09,155.65 242.18,152.35 242.27,155.45 242.36,155 242.45,155.71 242.54,154.44 242.63,155.41 242.72,153.69 242.81,155.71 242.91,153.97 243,155.55 243.09,153.9 243.18,155.47 243.27,153.5 243.36,155.55 243.45,154.57 243.54,155.57 243.63,154.59 243.72,155.59 243.81,153.11 243.9,155.66 243.99,154.71 244.08,155.39 244.17,154.64 244.26,155.6 244.35,153.38 244.44,155.52 244.53,154.26 244.62,155.54 244.71,154.56 244.8,155.4 244.89,153.68 244.98,155.66 245.07,153.82 245.16,155.69 245.25,153.8 245.34,155.43 245.43,154.8 245.52,155.57 245.61,154.52 245.7,155.52 245.79,153.51 245.88,155.52 245.97,153.75 246.06,155.47 246.15,154.42 246.24,155.45 246.33,153.34 246.42,155.5 246.51,153.7 246.6,155.75 246.69,153.33 246.78,155.45 246.87,153.91 246.96,155.73 247.05,154.23 247.14,155.44 247.23,154.55 247.32,155.75 247.41,153.72 247.5,155.47 247.59,153.59" fill="none" stroke="#1eaaf0" stroke-width="0.55" stroke-opacity="1" stroke-linejoin="round"/>
<polyline points="31.41,155.47 31.49,151.74 31.58,155.58 31.66,153.97 31.74,155.46 31.82,153.45 31.91,155.72 31.99,154.18 32.07,155.48 32.16,154.64 32.24,155.7 32.32,153.42 32.41,155.63 32.49,151.49 32.57,155.41 32.66,153.56 32.74,155.49 32.82,153.9 32.91,155.49 32.99,154.3 33.07,155.52 33.16,153.85 33.24,155.62 33.32,153.38 33.41,155.52 33.49,154.63 33.57,155.6 33.65,154.3 33.74,155.47 33.82,154.08 33.9,155.51 33.99,153.64 34.07,155.43 34.15,153.74 34.24,155.45 34.32,154.81 34.4,155.45 34.49,151.84 34.57,155.72 34.65,154.47 34.74,155.74 34.82,153.34 34.9,155.61 34.99,153.41 35.07,155.41 35.15,154.39 35.24,155.53 35.32,154.31 35.4,155.54 35.48,154.63 35.57,155.45 35.65,153.87 35.73,155.52 35.82,152.62 35.9,155.71 35.98,153.52 36.07,155.58 36.15,153.91 36.23,155.44 36.32,154.57 36.4,155.46 36.48,152.85 36.57,155.73 36.65,151.4 36.73,155.39 36.82,153.72 36.9,155.56 36.98,153.47 37.07,155.65 37.15,154.97 37.23,155.59 37.31,153.99 37.4,155.41 37.48,153.94 37.56,155.43 37.65,152.15 37.73,155.62 37.81,153.85 37.9,155.52 37.98,153.83 38.06,155.72 38.15,151.74 38.23,155.46 38.31,154.27 38.4,155.72 38.48,154.46 38.56,155.49 38.65,154.68 38.73,155.64 38.81,153.94 38.9,155.7 38.98,153.26 39.06,155.7 39.14,153.34 39.23,155.4 39.31,154 39.39,155.67 39.48,154.09 39.56,155.58 39.64,152.47 39.73,155.69 39.81,153.77 39.89,155.57 39.98,153.79 40.06,155.45 40.14,154.56 40.23,155.66 40.31,155.33 40.39,155.69 40.48,155.5 40.56,155.72 40.64,154.86 40.73,155.74 40.81,155.49 40.89,155.69 40.97,155.57 41.06,155.72 41.14,154.96 41.22,155.7 41.31,155.36 41.39,155.67 41.47,155.21 41.56,155.69 41.64,155.51 41.72,155.72 41.81,155.37 41.89,155.7 41.97,155.57 42.06,155.69 42.14,155.2 42.22,155.73 42.31,155.44 42.39,155.67 42.47,155.26 42.56,155.73 42.64,155.45 42.72,155.75 42.8,155.31 42.89,155.71 42.97,155.41 43.05,155.71 43.14,155.43 43.22,155.74 43.3,155.27 43.39,155.71 43.47,155.33 43.55,155.73 43.64,155.38 43.72,155.69 43.8,155.41 43.89,155.71 43.97,155.4 44.05,155.71 44.14,155.54 44.22,155.74 44.3,155.29 44.38,155.68 44.47,155.3 44.55,155.73 44.63,155.39 44.72,155.7 44.8,155.3 44.88,155.69 44.97,155.34 45.05,155.71 45.13,155.56 45.22,155.72 45.3,155.2 45.38,155.7 45.47,155.23 45.55,155.69 45.63,155.33 45.72,155.74 45.8,155.32 45.88,155.73 45.97,155.28 46.05,155.74 46.13,155.45 46.21,155.75 46.3,155.54 46.38,155.7 46.46,155.35 46.55,155.67 46.63,155.51 46.71,155.73 46.8,154.84 46.88,155.68 46.96,155.41 47.05,155.72 47.13,155.37 47.21,155.68 47.3,155.51 47.38,155.74 47.46,155.48 47.55,155.72 47.63,155.28 47.71,155.68 47.8,154.7 47.88,155.68 47.96,155.25 48.04,155.69 48.13,154.88 48.21,155.7 48.29,155.37 48.38,155.73 48.46,155.43 48.54,155.67 48.63,155.57 48.71,155.7 48.79,154.83 48.88,155.69 48.96,154.95 49.04,155.72 49.13,155.55 49.21,155.68 49.29,155.45 49.38,155.7 49.46,155.31 49.54,155.69 49.63,155.3 49.71,155.74 49.79,155.27 49.87,155.72 49.96,155.23 50.04,155.74 50.12,155.43 50.21,155.72 50.29,155.37 50.37,155.71 50.46,155.37 50.54,155.73 50.62,155.32 50.71,155.75 50.79,155.57 50.87,155.72 50.96,155.23 51.04,155.69 51.12,155.23 51.21,155.72 51.29,155.44 51.37,155.69 51.46,155.32 51.54,155.72 51.62,155.22 51.7,155.71 51.79,155.29 51.87,155.73 51.95,155.5 52.04,155.74 52.12,155.38 52.2,155.69 52.29,155.44 52.37,155.71 52.45,155.25 52.54,155.69 52.62,155.35 52.7,155.69 52.79,155.23 52.87,155.69 52.95,155.21 53.04,155.72 53.12,155.29 53.2,155.73 53.29,155.39 53.37,155.73 53.45,155.5 53.53,155.71 53.62,154.98 53.7,155.7 53.78,155.33 53.87,155.68 53.95,155.36 54.03,155.67 54.12,155.22 54.2,155.69 54.28,155.48 54.37,155.71 54.45,155.21 54.53,155.73 54.62,155.31 54.7,155.7 54.78,155.32 54.87,155.73 54.95,155.3 55.03,155.68 55.12,155.22 55.2,155.73 55.28,155.45 55.36,155.72 55.45,155.32 55.53,155.73 55.61,155.34 55.7,155.73 55.78,155.45 55.86,155.69 55.95,155.47 56.03,155.73 56.11,155.25 56.2,155.72 56.28,155.5 56.36,155.75 56.45,155.24 56.53,155.68 56.61,155.32 56.7,155.68 56.78,155.22 56.86,155.72 56.94,155.23 57.03,155.68 57.11,155.22 57.19,155.73 57.28,155.55 57.36,155.73 57.44,155.52 57.53,155.71 57.61,155.56 57.69,155.73 57.78,155.52 57.86,155.68 57.94,155.44 58.03,155.67 58.11,155.15 58.19,155.74 58.28,155.22 58.36,155.71 58.44,155.31 58.53,155.72 58.61,155.28 58.69,155.67 58.77,155.53 58.86,155.4 58.94,154.22 59.02,155.73 59.11,153.29 59.19,155.41 59.27,154.62 59.36,155.52 59.44,153.4 59.52,155.58 59.61,154.19 59.69,155.59 59.77,153.94 59.86,155.44 59.94,152.86 60.02,155.7 60.11,153.28 60.19,155.61 60.27,154.22 60.36,155.71 60.44,154.28 60.52,155.61 60.6,153.48 60.69,155.46 60.77,153.85 60.85,155.45 60.94,153.79 61.02,155.7 61.1,151.74 61.19,155.66 61.27,153.37 61.35,155.5 61.44,153.48 61.52,155.69 61.6,153.81 61.69,155.73 61.77,152.95 61.85,155.44 61.94,154.66 62.02,155.74 62.1,153.37 62.19,155.43 62.27,154.13 62.35,155.53 62.43,154.24 62.52,155.61 62.6,154.07 62.68,155.64 62.77,153.36 62.85,155.61 62.93,150.3 63.02,155.43 63.1,153.41 63.18,155.54 63.27,154.83 63.35,155.7 63.43,153.4 63.52,155.55 63.6,153.28 63.68,155.64 63.77,153.96 63.85,155.43 63.93,154.47 64.02,155.69 64.1,154.23 64.18,155.57 64.26,153.61 64.35,155.74 64.43,154.82 64.51,155.66 64.6,153.55 64.68,155.49 64.76,154.73 64.85,155.53 64.93,154.12 65.01,155.42 65.1,153.35 65.18,155.69 65.26,153.33 65.35,155.58 65.43,154.01 65.51,155.71 65.6,153.77 65.68,155.5 65.76,154.13 65.85,155.71 65.93,154.91 66.01,155.42 66.09,151.83 66.18,155.57 66.26,154.81 66.34,155.56 66.43,153.73 66.51,155.62 66.59,154.33 66.68,155.61 66.76,154.98 66.84,155.44 66.93,154.54 67.01,155.48 67.09,154.02 67.18,155.61 67.26,153.45 67.34,149.28 67.43,153.65 67.51,155.61 67.59,154.11 67.68,155.72 67.76,153.56 67.84,155.67 67.92,153.95 68.01,155.6 68.09,154.8 68.17,155.59 68.26,153.81 68.34,155.69 68.42,154.3 68.51,155.5 68.59,153.74 68.67,155.66 68.76,154.18 68.84,155.52 68.92,153.74 69.01,155.56 69.09,154 69.17,155.52 69.26,154.65 69.34,155.43 69.42,153.57 69.51,155.49 69.59,154.22 69.67,155.53 69.75,154.74 69.84,155.5 69.92,154.56 70,155.56 70.09,153.55 70.17,155.39 70.25,153.62 70.34,155.46 70.42,154.04 70.5,155.69 70.59,151.44 70.67,155.69 70.75,154.9 70.84,155.59 70.92,154.67 71,155.42 71.09,154.2 71.17,155.7 71.25,153.66 71.33,155.66 71.42,153.54 71.5,155.39 71.58,153.97 71.67,155.48 71.75,154.32 71.83,155.55 71.92,154.31 72,155.69 72.08,154.01 72.17,155.74 72.25,152.67 72.33,155.63 72.42,154.3 72.5,155.68 72.58,154.01 72.67,155.43 72.75,153.52 72.83,155.56 72.92,153.28 73,155.57 73.08,153.27 73.16,155.53 73.25,154.61 73.33,155.57 73.41,153.64 73.5,155.66 73.58,154.7 73.66,155.49 73.75,153.62 73.83,155.48 73.91,152.21 74,155.42 74.08,153.28 74.16,155.57 74.25,153.58 74.33,155.7 74.41,154.02 74.5,155.4 74.58,153.68 74.66,155.74 74.75,154.63 74.83,155.69 74.91,153.93 74.99,155.5 75.08,151.9 75.16,155.44 75.24,154.78 75.33,155.41 75.41,154.75 75.49,155.54 75.58,153.29 75.66,155.65 75.74,154.71 75.83,155.74 75.91,154.46 75.99,155.49 76.08,153.43 76.16,155.52 76.24,154.22 76.33,155.71 76.41,153.62 76.49,155.48 76.58,153.95 76.66,155.41 76.74,154.85 76.82,155.68 76.91,151.47 76.99,155.53 77.07,154.7 77.16,155.6 77.24,154.49 77.32,155.53 77.41,154.37 77.49,155.71 77.57,150.96 77.66,155.43 77.74,154.11 77.82,155.64 77.91,153.36 77.99,155.52 78.07,153.51 78.16,155.67 78.24,153.28 78.32,155.69 78.41,154.33 78.49,155.4 78.57,154.82 78.65,155.66 78.74,154.65 78.82,155.41 78.9,154.06 78.99,155.44 79.07,154.91 79.15,155.55 79.24,149.86 79.32,155.55 79.4,154.47 79.49,155.74 79.57,154.72 79.65,155.47 79.74,153.25 79.82,155.5 79.9,154.91 79.99,155.54 80.07,154.09 80.15,155.46 80.24,153.26 80.32,155.58 80.4,153.42 80.48,155.61 80.57,152.03 80.65,155.48 80.73,154.61 80.82,155.57 80.9,154 80.98,155.53 81.07,154.88 81.15,155.7 81.23,154.69 81.32,155.68 81.4,154.43 81.48,155.68 81.57,153.31 81.65,155.46 81.73,151.02 81.82,155.39 81.9,154.6 81.98,155.4 82.07,153.99 82.15,155.55 82.23,154.5 82.31,155.47 82.4,154.97 82.48,155.71 82.56,154.9 82.65,155.63 82.73,153.25 82.81,155.41 82.9,154.91 82.98,155.64 83.06,153.88 83.15,155.69 83.23,154.61 83.31,155.59 83.4,153.95 83.48,155.47 83.56,153.91 83.65,155.39 83.73,154.09 83.81,155.74 83.89,153.91 83.98,155.52 84.06,154.82 84.14,155.45 84.23,154.77 84.31,155.46 84.39,154.23 84.48,155.42 84.56,154.07 84.64,155.52 84.73,154.17 84.81,155.44 84.89,153.64 84.98,155.61 85.06,154.11 85.14,155.54 85.23,153.75 85.31,155.55 85.39,154.65 85.48,155.59 85.56,153.64 85.64,155.59 85.72,154.38 85.81,155.5 85.89,153.42 85.97,155.7 86.06,153 86.14,155.45 86.22,153.32 86.31,155.49 86.39,154.9 86.47,155.68 86.56,154.01 86.64,155.62 86.72,154.17 86.81,155.45 86.89,154.85 86.97,155.6 87.06,153.44 87.14,155.44 87.22,154.8 87.31,155.61 87.39,153.8 87.47,155.39 87.55,153.48 87.64,155.61 87.72,154.98 87.8,155.4 87.89,152.33 87.97,155.61 88.05,151.24 88.14,155.6 88.22,152.4 88.3,155.69 88.39,153.5 88.47,155.47 88.55,154.89 88.64,155.72 88.72,154.45 88.8,155.47 88.89,153.75 88.97,155.57 89.05,152.57 89.14,155.44 89.22,153.81 89.3,155.53 89.38,153.82 89.47,155.41 89.55,151.54 89.63,155.56 89.72,153.86 89.8,155.67 89.88,154.63 89.97,155.42 90.05,154.28 90.13,155.43 90.22,154.62 90.3,155.45 90.38,154.95 90.47,155.53 90.55,152.26 90.63,155.66 90.72,153.82 90.8,155.74 90.88,154.43 90.97,155.46 91.05,151.32 91.13,155.51 91.21,154.03 91.3,155.59 91.38,153.7 91.46,155.57 91.55,154.77 91.63,155.47 91.71,154.25 91.8,155.67 91.88,154 91.96,155.74 92.05,154.94 92.13,155.72 92.21,154.5 92.3,155.39 92.38,153.79 92.46,155.67 92.55,154.83 92.63,155.4 92.71,154.88 92.8,155.74 92.88,154.41 92.96,155.51 93.04,153.94 93.13,155.56 93.21,154.49 93.29,155.57 93.38,154.34 93.46,155.75 93.54,153.35 93.63,155.55 93.71,154.94 93.79,155.53 93.88,154.43 93.96,155.45 94.04,153.79 94.13,155.45 94.21,154.3 94.29,155.46 94.38,153.33 94.46,155.73 94.54,154.96 94.63,155.43 94.71,153.55 94.79,155.56 94.87,153.77 94.96,155.44 95.04,153.56 95.12,155.42 95.21,154.41 95.29,155.72 95.37,154.27 95.46,155.6 95.54,153.36 95.62,155.57 95.71,154.49 95.79,155.53 95.87,154.17 95.96,155.41 96.04,153.32 96.12,155.74 96.21,153.91 96.29,155.53 96.37,153.31 96.45,155.57 96.54,153.85 96.62,155.7 96.7,154.03 96.79,155.5 96.87,153.72 96.95,155.49 97.04,153.26 97.12,155.71 97.2,153.97 97.29,155.71 97.37,153.96 97.45,155.57 97.54,154.24 97.62,155.41 97.7,154.29 97.79,155.45 97.87,154.31 97.95,155.51 98.04,154.82 98.12,155.61 98.2,154.1 98.28,155.41 98.37,154.68 98.45,155.58 98.53,153.92 98.62,155.7 98.7,152.18 98.78,155.53 98.87,154.53 98.95,155.72 99.03,154.21 99.12,155.44 99.2,153.99 99.28,155.57 99.37,153.89 99.45,155.48 99.53,152.19 99.62,155.44 99.7,153.63 99.78,155.47 99.87,154.54 99.95,155.47 100.03,154.79 100.11,155.47 100.2,150.81 100.28,155.61 100.36,153.88 100.45,155.74 100.53,153.97 100.61,150.58 100.7,153.23 100.78,155.52 100.86,154.46 100.95,155.64 101.03,153.57 101.11,155.39 101.2,153.32 101.28,155.64 101.36,149.68 101.45,155.49 101.53,153.61 101.61,155.71 101.7,154 101.78,155.59 101.86,153.82 101.94,155.46 102.03,153.99 102.11,155.42 102.19,154.82 102.28,155.72 102.36,154.52 102.44,155.46 102.53,153.29 102.61,155.4 102.69,154.31 102.78,155.74 102.86,154.81 102.94,155.46 103.03,153.43 103.11,155.73 103.19,153.6 103.28,155.51 103.36,153.99 103.44,155.39 103.53,154.88 103.61,155.72 103.69,154.99 103.77,155.48 103.86,154.81 103.94,155.71 104.02,153.89 104.11,155.54 104.19,152.26 104.27,155.63 104.36,154.62 104.44,155.55 104.52,153.85 104.61,155.48 104.69,154.01 104.77,155.68 104.86,154.94 104.94,155.64 105.02,153.67 105.11,155.71 105.19,154.71 105.27,155.6 105.36,154.56 105.44,155.72 105.52,154.35 105.6,155.74 105.69,154.56 105.77,155.49 105.85,154.85 105.94,155.5 106.02,154.05 106.1,155.74 106.19,154.73 106.27,155.51 106.35,154.01 106.44,155.51 106.52,154.48 106.6,155.63 106.69,153.69 106.77,150.66 106.85,153.36 106.94,155.67 107.02,154.41 107.1,155.53 107.19,154.22 107.27,155.7 107.35,153.57 107.43,155.55 107.52,153.43 107.6,155.6 107.68,154.21 107.77,155.57 107.85,154.6 107.93,155.48 108.02,154.63 108.1,155.67 108.18,149.89 108.27,155.64 108.35,154.52 108.43,155.58 108.52,151.25 108.6,155.63 108.68,152.38 108.77,155.5 108.85,154.48 108.93,155.7 109.01,154.36 109.1,155.42 109.18,154.19 109.26,155.41 109.35,152.16 109.43,155.7 109.51,153.98 109.6,155.57 109.68,154.69 109.76,155.63 109.85,154.88 109.93,155.63 110.01,153.86 110.1,155.68 110.18,153.5 110.26,155.56 110.35,154.07 110.43,155.46 110.51,154.76 110.6,155.66 110.68,154.1 110.76,155.47 110.84,154.86 110.93,155.48 111.01,153.37 111.09,155.52 111.18,153.75 111.26,155.43 111.34,154.36 111.43,155.53 111.51,151.34 111.59,155.46 111.68,154.19 111.76,155.41 111.84,152.37 111.93,155.44 112.01,154.9 112.09,155.54 112.18,153.28 112.26,155.65 112.34,153.41 112.43,155.53 112.51,154.45 112.59,155.49 112.67,153.8 112.76,155.49 112.84,153.63 112.92,155.61 113.01,154.09 113.09,155.48 113.17,154.5 113.26,155.63 113.34,153.64 113.42,155.7 113.51,153.63 113.59,155.41 113.67,153.75 113.76,155.42 113.84,154.53 113.92,155.6 114.01,154.33 114.09,155.55 114.17,153.75 114.26,155.74 114.34,153.44 114.42,155.41 114.5,152.13 114.59,155.62 114.67,154.97 114.75,155.53 114.84,154.84 114.92,155.7 115,153.7 115.09,155.7 115.17,154.49 115.25,155.54 115.34,154.91 115.42,155.51 115.5,154.75 115.59,155.4 115.67,154.95 115.75,155.5 115.84,154.67 115.92,155.53 116,153.67 116.09,155.53 116.17,151.71 116.25,155.65 116.33,153.69 116.42,155.62 116.5,153.88 116.58,155.52 116.67,151.27 116.75,155.7 116.83,154.8 116.92,155.64 117,153.62 117.08,155.69 117.17,154.58 117.25,155.74 117.33,153.26 117.42,155.59 117.5,153.67 117.58,155.62 117.67,154.19 117.75,155.55 117.83,153.78 117.92,155.61 118,153.79 118.08,155.72 118.16,154.3 118.25,155.44 118.33,154.15 118.41,155.74 118.5,154 118.58,155.74 118.66,154.64 118.75,155.74 118.83,154.2 118.91,155.47 119,154.91 119.08,155.62 119.16,154.67 119.25,155.41 119.33,154.24 119.41,155.64 119.5,153.43 119.58,155.6 119.66,154 119.75,155.5 119.83,154.73 119.91,155.41 119.99,153.46 120.08,155.42 120.16,153.8 120.24,155.61 120.33,154.08 120.41,155.5 120.49,153.09 120.58,155.73 120.66,154.33 120.74,155.54 120.83,154.63 120.91,155.52 120.99,153.33 121.08,155.65 121.16,154.52 121.24,155.51 121.33,154.9 121.41,155.64 121.49,152.18 121.57,155.47 121.66,154.4 121.74,155.72 121.82,154.98 121.91,155.56 121.99,153.26 122.07,155.41 122.16,154.89 122.24,155.52 122.32,154.17 122.41,155.41 122.49,154.43 122.57,155.41 122.66,153.8 122.74,155.48 122.82,154.51 122.91,155.46 122.99,153.87 123.07,155.49 123.16,153.54 123.24,155.57 123.32,153.67 123.4,155.47 123.49,154.59 123.57,155.47 123.65,154.69 123.74,155.44 123.82,154.11 123.9,155.75 123.99,154.77 124.07,155.74 124.15,153.27 124.24,155.58 124.32,154.21 124.4,155.49 124.49,154.04 124.57,155.6 124.65,154.13 124.74,155.61 124.82,153.76 124.9,155.74 124.99,153.98 125.07,155.53 125.15,153.4 125.23,155.41 125.32,153.38 125.4,155.53 125.48,154.19 125.57,155.66 125.65,154.34 125.73,155.52 125.82,153.27 125.9,155.62 125.98,154.51 126.07,155.62 126.15,153.4 126.23,155.73 126.32,154.64 126.4,155.49 126.48,154.09 126.57,155.75 126.65,153.4 126.73,155.45 126.82,154.97 126.9,155.75 126.98,154.19 127.06,155.47 127.15,152.41 127.23,155.62 127.31,153.79 127.4,155.62 127.48,152.67 127.56,155.57 127.65,151.85 127.73,155.68 127.81,154.05 127.9,155.68 127.98,153.27 128.06,155.49 128.15,154.32 128.23,155.42 128.31,153.59 128.4,155.7 128.48,154.58 128.56,155.65 128.65,153.48 128.73,155.4 128.81,154.38 128.89,155.5 128.98,154.28 129.06,155.42 129.14,153.34 129.23,155.61 129.31,153.74 129.39,155.47 129.48,154.84 129.56,155.49 129.64,154.73 129.73,155.48 129.81,153.89 129.89,155.58 129.98,153.41 130.06,155.64 130.14,151.49 130.23,155.62 130.31,153.76 130.39,155.7 130.48,153.64 130.56,155.72 130.64,154.78 130.72,155.61 130.81,154.83 130.89,155.44 130.97,153.27 131.06,155.63 131.14,153.48 131.22,155.55 131.31,154.53 131.39,155.45 131.47,154.34 131.56,155.71 131.64,154.81 131.72,155.62 131.81,153.88 131.89,155.62 131.97,153.5 132.06,155.49 132.14,153.65 132.22,155.42 132.31,152.65 132.39,155.75 132.47,154.3 132.55,155.55 132.64,154.44 132.72,155.75 132.8,152.67 132.89,155.64 132.97,154.71 133.05,155.61 133.14,154.09 133.22,155.65 133.3,154.34 133.39,155.6 133.47,153.64 133.55,155.62 133.64,154.46 133.72,155.57 133.8,153.79 133.89,155.66 133.97,153.25 134.05,155.61 134.13,154.06 134.22,155.67 134.3,153.32 134.38,155.6 134.47,153.48 134.55,155.5 134.63,154.6 134.72,155.74 134.8,153.92 134.88,155.39 134.97,153.61 135.05,155.7 135.13,154.32 135.22,155.46 135.3,154.08 135.38,155.65 135.47,154.42 135.55,155.72 135.63,153.74 135.72,155.47 135.8,153.68 135.88,155.55 135.96,154.34 136.05,155.66 136.13,153.59 136.21,155.61 136.3,153.71 136.38,155.44 136.46,153.75 136.55,155.5 136.63,153.36 136.71,155.65 136.8,153.63 136.88,155.66 136.96,153.48 137.05,155.55 137.13,154.98 137.21,155.71 137.3,154.05 137.38,155.67 137.46,154.78 137.55,155.46 137.63,154 137.71,155.49 137.79,154.96 137.88,155.74 137.96,153.79 138.04,155.59 138.13,153.68 138.21,155.61 138.29,154.54 138.38,155.48 138.46,152.91 138.54,155.6 138.63,154.34 138.71,155.67 138.79,154.63 138.88,155.45 138.96,154.59 139.04,155.68 139.13,153.83 139.21,155.52 139.29,154.5 139.38,155.65 139.46,151.56 139.54,155.53 139.62,154.75 139.71,155.69 139.79,154.79 139.87,155.43 139.96,152.78 140.04,155.62 140.12,153.32 140.21,155.51 140.29,154.71 140.37,155.48 140.46,153.62 140.54,155.58 140.62,153.82 140.71,155.56 140.79,153.38 140.87,155.71 140.96,154.43 141.04,155.56 141.12,154.04 141.21,155.56 141.29,151.18 141.37,155.43 141.45,154.08 141.54,155.62 141.62,151.48 141.7,155.69 141.79,151.67 141.87,155.6 141.95,154.52 142.04,155.47 142.12,154.94 142.2,155.75 142.29,154.49 142.37,155.74 142.45,153.39 142.54,155.39 142.62,154.08 142.7,155.55 142.79,154.21 142.87,155.49 142.95,153.78 143.04,155.58 143.12,153.84 143.2,155.68 143.28,153.62 143.37,155.51 143.45,154.91 143.53,155.66 143.62,153.96 143.7,155.59 143.78,153.91 143.87,155.67 143.95,154.46 144.03,155.42 144.12,153.94 144.2,155.61 144.28,154.63 144.37,155.5 144.45,153.94 144.53,155.68 144.62,153.89 144.7,155.53 144.78,152.38 144.87,155.64 144.95,153.95 145.03,155.71 145.11,153.42 145.2,155.64 145.28,153.26 145.36,155.73 145.45,153.76 145.53,155.53 145.61,154.04 145.7,155.55 145.78,154 145.86,155.44 145.95,154.05 146.03,155.74 146.11,154.89 146.2,155.6 146.28,154.93 146.36,155.4 146.45,154.61 146.53,155.63 146.61,154.15 146.69,155.73 146.78,154.85 146.86,155.46 146.94,154.56 147.03,155.72 147.11,153.92 147.19,155.49 147.28,154.89 147.36,155.56 147.44,154.8 147.53,155.43 147.61,154.06 147.69,155.57 147.78,154.85 147.86,155.51 147.94,154.96 148.03,155.66 148.11,153.75 148.19,155.4 148.28,154.1 148.36,155.67 148.44,153.74 148.52,155.45 148.61,154.69 148.69,155.5 148.77,153.28 148.86,155.58 148.94,154.28 149.02,155.62 149.11,154.36 149.19,155.72 149.27,153.41 149.36,155.46 149.44,153.59 149.52,155.67 149.61,154.85 149.69,155.44 149.77,153.62 149.86,155.43 149.94,154.21 150.02,155.67 150.11,153.17 150.19,155.65 150.27,154.3 150.35,155.49 150.44,154.52 150.52,155.47 150.6,153.85 150.69,155.73 150.77,153.67 150.85,155.45 150.94,153.42 151.02,155.46 151.1,154.44 151.19,155.53 151.27,153.71 151.35,155.43 151.44,152 151.52,155.4 151.6,153.33 151.69,155.68 151.77,154.45 151.85,155.41 151.94,154.3 152.02,155.44 152.1,154.85 152.18,155.54 152.27,154.83 152.35,155.71 152.43,154.94 152.52,155.4 152.6,154.5 152.68,155.48 152.77,153.06 152.85,155.62 152.93,153.65 153.02,155.63 153.1,154.76 153.18,155.41 153.27,153.46 153.35,155.67 153.43,154.36 153.52,155.45 153.6,154.87 153.68,155.59 153.77,154.79 153.85,155.5 153.93,152.54 154.01,155.45 154.1,153.96 154.18,155.71 154.26,153.38 154.35,155.66 154.43,153.76 154.51,155.71 154.6,154.16 154.68,155.61 154.76,152.73 154.85,155.7 154.93,154.17 155.01,155.42 155.1,154.18 155.18,155.47 155.26,152.52 155.35,155.54 155.43,154.94 155.51,155.68 155.6,154.09 155.68,155.67 155.76,153.4 155.84,155.54 155.93,154.14 156.01,155.42 156.09,153.3 156.18,155.41 156.26,154.64 156.34,155.42 156.43,154.95 156.51,155.63 156.59,152.57 156.68,155.5 156.76,153.58 156.84,155.56 156.93,154.14 157.01,155.55 157.09,153.56 157.18,155.51 157.26,154.67 157.34,155.64 157.43,154.74 157.51,155.65 157.59,154.92 157.67,155.6 157.76,154.62 157.84,155.67 157.92,154.25 158.01,155.44 158.09,153.27 158.17,155.62 158.26,153.41 158.34,155.74 158.42,153.26 158.51,155.52 158.59,154.16 158.67,155.4 158.76,154.32 158.84,155.55 158.92,154.77 159.01,155.65 159.09,154.5 159.17,155.43 159.25,154.79 159.34,155.52 159.42,153.66 159.5,155.53 159.59,154.07 159.67,155.58 159.75,153.29 159.84,155.47 159.92,154.16 160,155.51 160.09,153.36 160.17,155.55 160.25,153.44 160.34,155.63 160.42,151.01 160.5,155.47 160.59,154.41 160.67,155.42 160.75,153.31 160.84,155.72 160.92,153.69 161,155.74 161.08,153.44 161.17,155.71 161.25,154.86 161.33,155.44 161.42,151.85 161.5,155.53 161.58,154.88 161.67,155.61 161.75,153.36 161.83,155.4 161.92,154.93 162,155.41 162.08,152.66 162.17,155.6 162.25,154.94 162.33,155.62 162.42,154.42 162.5,155.56 162.58,153.83 162.67,155.54 162.75,153.72 162.83,155.45 162.91,154.16 163,155.43 163.08,153.24 163.16,155.65 163.25,151.55 163.33,155.44 163.41,154.98 163.5,155.72 163.58,153.72 163.66,155.68 163.75,153.48 163.83,155.6 163.91,153.65 164,155.72 164.08,152.76 164.16,155.63 164.25,154.17 164.33,155.74 164.41,153.75 164.5,155.46 164.58,154.45 164.66,155.51 164.74,154.22 164.83,155.66 164.91,153.66 164.99,155.56 165.08,153.59 165.16,155.61 165.24,154.35 165.33,155.45 165.41,153.52 165.49,155.64 165.58,153.76 165.66,155.66 165.74,153.82 165.83,155.47 165.91,153.81 165.99,155.48 166.08,152.43 166.16,155.5 166.24,153.41 166.33,155.73 166.41,153.83 166.49,155.74 166.57,154.19 166.66,155.42 166.74,153.76 166.82,155.4 166.91,154.83 166.99,155.68 167.07,153.5 167.16,149.06 167.24,153.54 167.32,155.58 167.41,154.67 167.49,155.65 167.57,154.32 167.66,155.72 167.74,154.71 167.82,155.66 167.91,153.91 167.99,155.4 168.07,154.82 168.16,155.59 168.24,152.23 168.32,155.68 168.4,153.86 168.49,155.72 168.57,153.39 168.65,155.52 168.74,153.6 168.82,155.45 168.9,154.24 168.99,155.66 169.07,151.33 169.15,155.48 169.24,153.61 169.32,155.74 169.4,153.52 169.49,155.7 169.57,154.48 169.65,155.52 169.74,153.38 169.82,155.72 169.9,152.53 169.99,155.58 170.07,154.63 170.15,155.58 170.23,153.26 170.32,155.74 170.4,154.75 170.48,155.45 170.57,154.09 170.65,155.48 170.73,153.9 170.82,155.47 170.9,153.64 170.98,155.52 171.07,153.68 171.15,155.65 171.23,153.27 171.32,155.5 171.4,154.97 171.48,155.54 171.57,154.51 171.65,155.53 171.73,153.92 171.81,155.48 171.9,153.69 171.98,155.65 172.06,153.52 172.15,155.42 172.23,154.42 172.31,155.58 172.4,154.5 172.48,155.64 172.56,154.18 172.65,155.56 172.73,154.48 172.81,155.4 172.9,154.44 172.98,155.5 173.06,153.97 173.15,155.72 173.23,154.56 173.31,155.65 173.4,153.75 173.48,155.51 173.56,154.82 173.64,155.41 173.73,154.22 173.81,155.56 173.89,154.43 173.98,155.56 174.06,154.01 174.14,155.75 174.23,153.27 174.31,155.69 174.39,151.57 174.48,155.46 174.56,151.34 174.64,155.66 174.73,153.42 174.81,155.56 174.89,154.26 174.98,155.5 175.06,154.69 175.14,155.54 175.23,153.28 175.31,155.47 175.39,152.49 175.47,155.52 175.56,154.12 175.64,155.64 175.72,154.02 175.81,155.54 175.89,153.68 175.97,155.5 176.06,154.1 176.14,155.73 176.22,153.27 176.31,155.4 176.39,153.73 176.47,155.53 176.56,152 176.64,155.4 176.72,154.93 176.81,155.44 176.89,154.4 176.97,155.74 177.06,153.95 177.14,155.72 177.22,153.48 177.3,155.44 177.39,154.01 177.47,155.66 177.55,153.78 177.64,155.42 177.72,154.38 177.8,155.4 177.89,154.45 177.97,155.47 178.05,154.4 178.14,155.53 178.22,153.85 178.3,155.59 178.39,153.49 178.47,155.42 178.55,154.23 178.64,155.52 178.72,153.18 178.8,155.72 178.89,153.29 178.97,155.49 179.05,153.31 179.13,155.63 179.22,153.41 179.3,155.7 179.38,153.48 179.47,155.62 179.55,151.43 179.63,155.44 179.72,154.31 179.8,155.48 179.88,154.75 179.97,155.61 180.05,154.39 180.13,155.45 180.22,154.7 180.3,155.55 180.38,151.42 180.47,149.91 180.55,153.39 180.63,155.71 180.72,153.69 180.8,155.5 180.88,153.77 180.96,155.66 181.05,153.24 181.13,155.57 181.21,153.92 181.3,155.66 181.38,154.77 181.46,155.52 181.55,153.72 181.63,155.73 181.71,154.37 181.8,155.65 181.88,154.74 181.96,155.52 182.05,151.46 182.13,155.45 182.21,154.78 182.3,155.49 182.38,154.15 182.46,155.65 182.55,152.81 182.63,155.61 182.71,154.34 182.79,155.57 182.88,154.61 182.96,155.41 183.04,154.25 183.13,155.69 183.21,150.97 183.29,155.47 183.38,153.34 183.46,155.71 183.54,154.66 183.63,155.45 183.71,154.53 183.79,155.71 183.88,153.89 183.96,155.61 184.04,151.03 184.13,155.62 184.21,153.71 184.29,155.51 184.37,153.33 184.46,155.64 184.54,154.68 184.62,155.46 184.71,153.31 184.79,155.4 184.87,154.11 184.96,155.49 185.04,152.63 185.12,155.74 185.21,153.57 185.29,155.72 185.37,153.86 185.46,155.46 185.54,153.65 185.62,155.6 185.71,151 185.79,155.57 185.87,154.77 185.96,155.45 186.04,154.73 186.12,155.49 186.2,154.01 186.29,155.56 186.37,154.14 186.45,155.64 186.54,154.61 186.62,155.72 186.7,153.77 186.79,155.71 186.87,153.26 186.95,155.73 187.04,153.52 187.12,155.61 187.2,153.66 187.29,155.41 187.37,153.47 187.45,155.71 187.54,153.25 187.62,155.56 187.7,153.59 187.79,155.53 187.87,153.55 187.95,155.41 188.03,153.52 188.12,155.39 188.2,153.87 188.28,155.51 188.37,154.79 188.45,155.54 188.53,154.07 188.62,155.5 188.7,153.82 188.78,155.59 188.87,154.06 188.95,155.47 189.03,154.13 189.12,155.45 189.2,154.98 189.28,155.67 189.37,153.78 189.45,155.56 189.53,154.85 189.62,155.64 189.7,153.67 189.78,155.7 189.86,154.82 189.95,155.6 190.03,153.63 190.11,155.53 190.2,153.55 190.28,155.56 190.36,153.89 190.45,155.61 190.53,154.31 190.61,155.55 190.7,153.81 190.78,155.57 190.86,154.16 190.95,155.74 191.03,153.89 191.11,155.5 191.2,150.03 191.28,155.47 191.36,153.84 191.45,155.58 191.53,154.7 191.61,155.52 191.69,154.26 191.78,155.66 191.86,153.9 191.94,155.49 192.03,153.56 192.11,155.59 192.19,154.86 192.28,155.52 192.36,152.63 192.44,155.51 192.53,153.78 192.61,155.59 192.69,153.81 192.78,155.68 192.86,153.87 192.94,155.41 193.03,154.99 193.11,155.45 193.19,154.45 193.28,155.61 193.36,153.34 193.44,155.61 193.52,154.32 193.61,155.44 193.69,154.94 193.77,155.48 193.86,154.1 193.94,155.65 194.02,154.96 194.11,155.45 194.19,154.15 194.27,155.63 194.36,149.38 194.44,155.45 194.52,153.4 194.61,155.71 194.69,154.1 194.77,155.41 194.86,154.87 194.94,155.62 195.02,154.49 195.11,155.42 195.19,153.92 195.27,155.66 195.35,154.9 195.44,155.62 195.52,154.25 195.6,155.66 195.69,154.27 195.77,155.54 195.85,151.94 195.94,155.66 196.02,154.5 196.1,155.51 196.19,154.21 196.27,155.51 196.35,153.45 196.44,155.47 196.52,154.11 196.6,155.59 196.69,153.99 196.77,155.6 196.85,153.29 196.93,155.66 197.02,154.98 197.1,155.57 197.18,153.32 197.27,155.56 197.35,154.31 197.43,155.65 197.52,153.61 197.6,155.55 197.68,154.7 197.77,155.69 197.85,154.34 197.93,155.6 198.02,154.04 198.1,155.63 198.18,153.25 198.27,155.56 198.35,154.28 198.43,155.47 198.52,154.03 198.6,155.74 198.68,153.5 198.76,155.59 198.85,154.44 198.93,155.71 199.01,154.33 199.1,155.62 199.18,151.9 199.26,155.49 199.35,153.76 199.43,155.52 199.51,154.55 199.6,155.49 199.68,154.09 199.76,155.46 199.85,153.28 199.93,155.63 200.01,154.8 200.1,155.62 200.18,153.3 200.26,155.68 200.35,153.82 200.43,155.63 200.51,153.83 200.59,155.53 200.68,154.98 200.76,155.51 200.84,154.4 200.93,155.49 201.01,154.83 201.09,155.56 201.18,154.68 201.26,155.73 201.34,154.16 201.43,155.52 201.51,154.14 201.59,155.45 201.68,153.6 201.76,155.44 201.84,153.63 201.93,155.74 202.01,154.71 202.09,155.61 202.18,154.32 202.26,155.57 202.34,153.8 202.42,155.53 202.51,154.7 202.59,155.46 202.67,154.83 202.76,155.74 202.84,154.34 202.92,155.43 203.01,153.64 203.09,155.59 203.17,151.92 203.26,155.4 203.34,153.43 203.42,155.47 203.51,154.86 203.59,155.61 203.67,151.82 203.76,155.41 203.84,154.27 203.92,155.58 204.01,153.61 204.09,155.71 204.17,153.35 204.25,155.68 204.34,153.45 204.42,155.56 204.5,154.95 204.59,155.48 204.67,152.99 204.75,155.64 204.84,154.8 204.92,155.41 205,154.59 205.09,155.66 205.17,154.4 205.25,155.4 205.34,153.33 205.42,155.52 205.5,153.37 205.59,155.49 205.67,154.65 205.75,155.61 205.84,154.96 205.92,155.56 206,154.63 206.08,155.62 206.17,153.07 206.25,155.57 206.33,154.23 206.42,155.45 206.5,154.64 206.58,155.47 206.67,154.75 206.75,155.45 206.83,152.26 206.92,155.6 207,154.97 207.08,155.64 207.17,153.7 207.25,155.54 207.33,154.71 207.42,155.41 207.5,154.65 207.58,149.9 207.67,154.04 207.75,155.67 207.83,154.1 207.91,155.46 208,153.92 208.08,155.43 208.16,153.07 208.25,155.48 208.33,153.41 208.41,155.49 208.5,153.86 208.58,155.51 208.66,154.65 208.75,155.55 208.83,153.7 208.91,155.61 209,153.77 209.08,155.49 209.16,154.39 209.25,155.6 209.33,153.25 209.41,155.69 209.49,154.51 209.58,155.43 209.66,154.92 209.74,155.42 209.83,153.46 209.91,155.7 209.99,153.96 210.08,155.46 210.16,154.24 210.24,155.53 210.33,154.31 210.41,155.63 210.49,154.24 210.58,155.63 210.66,153.62 210.74,155.7 210.83,153.39 210.91,155.59 210.99,152.69 211.08,155.67 211.16,153.46 211.24,155.51 211.32,153.55 211.41,155.41 211.49,154.54 211.57,155.64 211.66,154.8 211.74,155.66 211.82,153.77 211.91,155.56 211.99,149.31 212.07,155.71 212.16,153.61 212.24,155.7 212.32,153.23 212.41,155.69 212.49,153.37 212.57,155.45 212.66,154.49 212.74,155.57 212.82,154.61 212.91,155.47 212.99,153.34 213.07,155.45 213.15,154.85 213.24,155.64 213.32,154.94 213.4,155.69 213.49,153.91 213.57,155.73 213.65,153.41 213.74,155.49 213.82,154.71 213.9,155.56 213.99,153.57 214.07,155.44 214.15,153.99 214.24,155.51 214.32,153.99 214.4,155.69 214.49,154 214.57,155.58 214.65,154.38 214.74,155.6 214.82,154.22 214.9,155.71 214.98,154.56 215.07,155.7 215.15,153.67 215.23,155.5 215.32,153.48 215.4,155.51 215.48,154.82 215.57,155.6 215.65,154.74 215.73,155.71 215.82,154.35 215.9,155.66 215.98,153.53 216.07,155.59 216.15,153.66 216.23,155.48 216.32,153.42 216.4,155.6 216.48,154.69 216.57,155.48 216.65,154.71 216.73,155.62 216.81,153.6 216.9,155.53 216.98,153.29 217.06,155.48 217.15,154.99 217.23,155.6 217.31,153.36 217.4,155.58 217.48,154.05 217.56,155.73 217.65,154.02 217.73,155.71 217.81,153.79 217.9,155.5 217.98,154.85 218.06,155.72 218.15,154.98 218.23,155.68 218.31,154.64 218.4,155.58 218.48,152.6 218.56,155.42 218.64,154.44 218.73,155.39 218.81,152.25 218.89,155.47 218.98,154.34 219.06,155.62 219.14,154.86 219.23,155.69 219.31,154.64 219.39,155.6 219.48,153.43 219.56,155.73 219.64,154.97 219.73,155.65 219.81,154.15 219.89,155.5 219.98,154.36 220.06,155.53 220.14,153.87 220.23,155.42 220.31,151.81 220.39,155.64 220.47,154.6 220.56,155.6 220.64,154.54 220.72,155.49 220.81,154.07 220.89,155.66 220.97,153.28 221.06,155.66 221.14,153.34 221.22,155.4 221.31,154.14 221.39,155.62 221.47,150.87 221.56,155.43 221.64,151.67 221.72,155.6 221.81,153.8 221.89,155.43 221.97,154.92 222.06,155.45 222.14,153.32 222.22,155.64 222.3,153.54 222.39,155.73 222.47,153.28 222.55,155.51 222.64,154.75 222.72,155.63 222.8,154.37 222.89,155.63 222.97,153.5 223.05,155.49 223.14,154.65 223.22,155.6 223.3,153.46 223.39,155.65 223.47,152.19 223.55,155.44 223.64,154.17 223.72,155.46 223.8,153.54 223.88,155.46 223.97,154.94 224.05,155.63 224.13,154.69 224.22,155.4 224.3,153.74 224.38,155.57 224.47,153.36 224.55,155.64 224.63,154.65 224.72,155.7 224.8,153.41 224.88,155.46 224.97,153.41 225.05,155.5 225.13,153.35 225.22,155.41 225.3,153.49 225.38,155.72 225.47,153.74 225.55,155.73 225.63,153.23 225.71,155.43 225.8,151.65 225.88,155.66 225.96,154.84 226.05,155.63 226.13,154.97 226.21,155.7 226.3,154.28 226.38,155.57 226.46,151.47 226.55,155.68 226.63,154.83 226.71,155.73 226.8,154.7 226.88,155.41 226.96,154.39 227.05,155.7 227.13,154.97 227.21,155.62 227.3,154.21 227.38,155.68 227.46,154.67 227.54,155.45 227.63,154.96 227.71,155.47 227.79,153.86 227.88,155.42 227.96,154.53 228.04,155.58 228.05,153.05 228.39,135.95 228.74,152.15 229.09,133.25 229.39,148.55 229.65,141.62 230.04,71.45 230.25,74.75 230.43,31.55 230.62,83.75 230.92,87.15 231.29,137.92 231.72,97.45 232.15,142.51 232.43,90.05 233.14,111.62 233.61,134.44 234.14,106.71 234.56,146.99 235.04,108.12 235.43,80.15 236.12,115.61 236.6,142.42 237.11,136.4 237.53,98.95 238.01,141.63 238.4,100.94 238.92,137.41 239.47,115.85 239.84,136.37 240.41,104.59 240.83,149.34 241.36,88.66 241.78,146.16 242.33,79.81 242.83,73.4 243.18,87.49 243.54,139.15 244.1,86.81 244.61,145.69 245.02,93.78 245.39,136.82 245.83,144.6 246.23,110.67 246.59,145.43 246.97,99.98 247.41,90.95 247.59,105.35" fill="none" stroke="#e3142f" stroke-width="0.48" stroke-opacity="1" stroke-linejoin="round"/>
<line x1="63.5" y1="155.75" x2="63.5" y2="12.65" stroke="#e3142f" stroke-width="0.4" stroke-opacity="1"/>
<line x1="222.5" y1="155.75" x2="222.5" y2="81.95" stroke="#e3142f" stroke-width="0.4" stroke-opacity="1"/>
<rect x="23.2" y="7.85" width="36.4" height="21.6" rx="1.2" fill="#fff" fill-opacity="0.8" stroke="#d4d4d4" stroke-width="0.5"/>
<line x1="26" y1="13.35" x2="39.2" y2="13.35" stroke="#1eaaf0" stroke-width="0.5" stroke-opacity="0.8"/>
<line x1="26" y1="22.85" x2="39.2" y2="22.85" stroke="#e3142f" stroke-width="0.9" stroke-opacity="0.5"/>
<text transform="translate(43.8 15.95) scale(1.07 1)" class="g">train</text>
<text transform="translate(43.8 25.05) scale(1.07 1)" class="g">test</text>
<rect x="306.6" y="5.45" width="237.6" height="157.6" fill="#fff" stroke="#b4b4b4" stroke-width="1.05"/>
<line x1="317.4" y1="162.75" x2="317.4" y2="164.25" stroke="#444" stroke-width="0.5"/>
<text transform="translate(317.4 170.45) scale(0.93 1)" text-anchor="middle" class="t">0</text>
<line x1="360.6" y1="162.75" x2="360.6" y2="164.25" stroke="#444" stroke-width="0.5"/>
<text transform="translate(360.6 170.45) scale(0.93 1)" text-anchor="middle" class="t">10,000</text>
<line x1="403.8" y1="162.75" x2="403.8" y2="164.25" stroke="#444" stroke-width="0.5"/>
<text transform="translate(403.8 170.45) scale(0.93 1)" text-anchor="middle" class="t">20,000</text>
<line x1="447" y1="162.75" x2="447" y2="164.25" stroke="#444" stroke-width="0.5"/>
<text transform="translate(447 170.45) scale(0.93 1)" text-anchor="middle" class="t">30,000</text>
<line x1="490.2" y1="162.75" x2="490.2" y2="164.25" stroke="#444" stroke-width="0.5"/>
<text transform="translate(490.2 170.45) scale(0.93 1)" text-anchor="middle" class="t">40,000</text>
<line x1="533.4" y1="162.75" x2="533.4" y2="164.25" stroke="#444" stroke-width="0.5"/>
<text transform="translate(533.4 170.45) scale(0.93 1)" text-anchor="middle" class="t">50,000</text>
<line x1="305.4" y1="155.55" x2="306.9" y2="155.55" stroke="#444" stroke-width="0.5"/>
<text transform="translate(304.2 158.15) scale(0.93 1)" text-anchor="end" class="t">0</text>
<line x1="305.4" y1="137.6" x2="306.9" y2="137.6" stroke="#444" stroke-width="0.5"/>
<text transform="translate(304.2 140.2) scale(0.93 1)" text-anchor="end" class="t">1</text>
<line x1="305.4" y1="119.65" x2="306.9" y2="119.65" stroke="#444" stroke-width="0.5"/>
<text transform="translate(304.2 122.25) scale(0.93 1)" text-anchor="end" class="t">2</text>
<line x1="305.4" y1="101.7" x2="306.9" y2="101.7" stroke="#444" stroke-width="0.5"/>
<text transform="translate(304.2 104.3) scale(0.93 1)" text-anchor="end" class="t">3</text>
<line x1="305.4" y1="83.75" x2="306.9" y2="83.75" stroke="#444" stroke-width="0.5"/>
<text transform="translate(304.2 86.35) scale(0.93 1)" text-anchor="end" class="t">4</text>
<line x1="305.4" y1="65.8" x2="306.9" y2="65.8" stroke="#444" stroke-width="0.5"/>
<text transform="translate(304.2 68.4) scale(0.93 1)" text-anchor="end" class="t">5</text>
<line x1="305.4" y1="47.85" x2="306.9" y2="47.85" stroke="#444" stroke-width="0.5"/>
<text transform="translate(304.2 50.45) scale(0.93 1)" text-anchor="end" class="t">6</text>
<line x1="305.4" y1="29.9" x2="306.9" y2="29.9" stroke="#444" stroke-width="0.5"/>
<text transform="translate(304.2 32.5) scale(0.93 1)" text-anchor="end" class="t">7</text>
<line x1="305.4" y1="11.95" x2="306.9" y2="11.95" stroke="#444" stroke-width="0.5"/>
<text transform="translate(304.2 14.55) scale(0.93 1)" text-anchor="end" class="t">8</text>
<text x="425.4" y="178.85" text-anchor="middle" class="l">sample</text>
<text x="425.4" y="185.05" text-anchor="middle" class="c">(b) reconstruction error of Task2</text>
<text transform="translate(298.1 84.25) rotate(-90)" text-anchor="middle" class="l">value</text>
<polyline points="317.4,155 317.76,154.99 318.12,155.06 318.48,154.97 318.84,155.01 319.2,154.98 319.56,155.03 319.92,155.03 320.28,155.01 320.65,154.99 321.01,154.97 321.37,155.04 321.73,154.99 322.09,155.05 322.45,154.98 322.81,155.03 323.17,154.95 323.53,154.98 323.89,155.07 324.25,154.99 324.61,155.03 324.97,155.04 325.33,155.05 325.69,154.98 326.05,154.96 326.42,155.02 326.78,155.01 327.14,155.04 327.5,154.97 327.86,154.94 328.22,155.02 328.58,155.02 328.94,155.06 329.3,155.04 329.66,155.03 330.02,155.02 330.38,155.06 330.74,155.03 331.1,155.07 331.46,155.04 331.82,154.99 332.18,154.95 332.55,155.05 332.91,154.98 333.27,155.05 333.63,154.95 333.99,155.05 334.35,155.08 334.71,154.95 335.07,155.03 335.43,155.05 335.79,155.02 336.15,154.96 336.51,155.03 336.87,155.02 337.23,154.99 337.59,155.08 337.95,154.95 338.31,154.98 338.68,155 339.04,155.03 339.4,154.94 339.76,155.07 340.12,155.08 340.48,155 340.84,154.99 341.2,155.06 341.56,154.96 341.92,155.02 342.28,155.04 342.64,154.98 343,155.02 343.36,155.06 343.72,155.02 344.08,155.08 344.45,155.04 344.81,155 345.17,155.07 345.53,155.02 345.89,155.01 346.25,155.08 346.61,155.05 346.97,155.08 347.33,155.01 347.69,154.99 348.05,155.08 348.41,155 348.77,154.96 349.13,155.08 349.49,155 349.85,155.04 350.21,155.06 350.58,154.96 350.94,155.04 351.3,154.96 351.66,154.95 352.02,155.05 352.38,154.96 352.74,154.95 353.1,155.08 353.46,154.96 353.82,154.99 354.18,155.08 354.54,155.01 354.9,154.96 355.26,154.96 355.62,154.96 355.98,155.01 356.34,155.07 356.71,155.03 357.07,155.04 357.43,154.99 357.79,155.04 358.15,155 358.51,155.04 358.87,155.02 359.23,154.99 359.59,154.97 359.95,155.08 360.31,155.02 360.67,155.04 361.03,154.99 361.39,154.98 361.75,154.98 362.11,155.06 362.48,155.06 362.84,154.96 363.2,155.04 363.56,154.98 363.92,155.08 364.28,155 364.64,155.05 365,154.99 365.36,155.07 365.72,154.96 366.08,154.98 366.44,154.99 366.8,155.02 367.16,154.97 367.52,155.02 367.88,154.99 368.24,155.03 368.61,155.08 368.97,155.02 369.33,154.97 369.69,154.99 370.05,155.07 370.41,155.08 370.77,155.06 371.13,154.99 371.49,155.04 371.85,155.05 372.21,154.96 372.57,155.08 372.93,154.97 373.29,155.03 373.65,154.97 374.01,155.04 374.37,155.01 374.74,155.06 375.1,155.04 375.46,154.99 375.82,154.99 376.18,155.06 376.54,154.99 376.9,154.94 377.26,155 377.62,155.04 377.98,154.99 378.34,155 378.7,154.99 379.06,154.96 379.42,154.95 379.78,155.06 380.14,155.05 380.51,155.06 380.87,154.94 381.23,154.94 381.59,154.98 381.95,154.99 382.31,155.06 382.67,155.04 383.03,155.06 383.39,155.03 383.75,155.07 384.11,155.08 384.47,155.07 384.83,155.02 385.19,155.06 385.55,155.07 385.91,154.98 386.27,154.97 386.64,154.95 387,154.97 387.36,154.95 387.72,154.99 388.08,155.01 388.44,155.02 388.8,155.04 389.16,155.08 389.52,154.98 389.88,155.04 390.24,154.98 390.6,154.95 390.96,154.97 391.32,155.01 391.68,155 392.04,154.96 392.41,155.05 392.77,155 393.13,155 393.49,155 393.85,155.04 394.21,155.02 394.57,155.01 394.93,154.97 395.29,154.94 395.65,155.08 396.01,154.97 396.37,155.01 396.73,154.99 397.09,155.01 397.45,154.97 397.81,155.02 398.17,155.03 398.54,155 398.9,154.94 399.26,155.02 399.62,155.02 399.98,155.01 400.34,154.94 400.7,155.06 401.06,155 401.42,155 401.78,154.96 402.14,155.03 402.5,154.99 402.86,155.05 403.22,155.03 403.58,155.07 403.94,155.04 404.3,155.03 404.67,155.04 405.03,155.02 405.39,155.04 405.75,155.05 406.11,155.03 406.47,154.99 406.83,154.99 407.19,154.94 407.55,155.06 407.91,154.97 408.27,155.07 408.63,155.05 408.99,155.08 409.35,155.01 409.71,155.08 410.07,155.07 410.44,154.99 410.8,154.99 411.16,155.07 411.52,154.99 411.88,155.02 412.24,154.96 412.6,155 412.96,155.01 413.32,154.94 413.68,155.04 414.04,155.02 414.4,154.97 414.76,154.98 415.12,155.08 415.48,155.08 415.84,155.04 416.2,154.94 416.57,155.07 416.93,155.08 417.29,154.95 417.65,155.06 418.01,155.04 418.37,154.96 418.73,155.03 419.09,155.08 419.45,155.02 419.81,154.98 420.17,155.06 420.53,155.05 420.89,155.04 421.25,155.08 421.61,154.98 421.97,155.07 422.33,155.05 422.7,155.02 423.06,154.97 423.42,155.07 423.78,154.94 424.14,155.01 424.5,155.06 424.86,155.06 425.22,155.01 425.58,155.07 425.94,155.06 426.3,154.95 426.66,154.96 427.02,154.99 427.38,154.98 427.74,155.07 428.1,155.04 428.47,155.08 428.83,155 429.19,155.08 429.55,155.07 429.91,154.94 430.27,155.07 430.63,154.94 430.99,155.01 431.35,155.01 431.71,155.06 432.07,155.03 432.43,155.03 432.79,154.98 433.15,154.94 433.51,155.04 433.87,155.08 434.23,154.94 434.6,155.01 434.96,155.02 435.32,154.97 435.68,154.99 436.04,155.01 436.4,155.06 436.76,154.97 437.12,155.05 437.48,155 437.84,155.06 438.2,155.05 438.56,154.99 438.92,154.98 439.28,154.94 439.64,154.99 440,154.99 440.36,155 440.73,155.04 441.09,154.95 441.45,155 441.81,155.08 442.17,155.01 442.53,155.03 442.89,155.06 443.25,154.98 443.61,154.97 443.97,154.95 444.33,154.96 444.69,154.94 445.05,155.06 445.41,155 445.77,155.02 446.13,154.98 446.5,154.98 446.86,155.07 447.22,155.04 447.58,155.05 447.94,155.07 448.3,155.04 448.66,155.01 449.02,155.04 449.38,155.06 449.74,154.97 450.1,155.07 450.46,155.05 450.82,154.99 451.18,155.03 451.54,154.99 451.9,155.07 452.26,154.95 452.63,155.03 452.99,154.96 453.35,155.02 453.71,154.96 454.07,155.08 454.43,155.04 454.79,154.94 455.15,155.07 455.51,154.96 455.87,155.03 456.23,155.01 456.59,155.04 456.95,155.03 457.31,154.94 457.67,155.02 458.03,155.06 458.39,154.97 458.76,155.05 459.12,155.01 459.48,154.97 459.84,155.02 460.2,155.07 460.56,154.98 460.92,154.95 461.28,154.99 461.64,154.95 462,155.02 462.36,155.05 462.72,155.04 463.08,154.97 463.44,154.95 463.8,155.04 464.16,154.97 464.53,154.97 464.89,155.05 465.25,154.97 465.61,155.02 465.97,155.06 466.33,155 466.69,155.05 467.05,155.01 467.41,154.95 467.77,155.05 468.13,155 468.49,155.01 468.85,155.06 469.21,155 469.57,155.05 469.93,154.95 470.29,154.96 470.66,155.01 471.02,155.05 471.38,155.06 471.74,155.05 472.1,155.01 472.46,155 472.82,155.06 473.18,154.98 473.54,155.01 473.9,154.94 474.26,155.03 474.62,155.02 474.98,154.97 475.34,155.02 475.7,154.97 476.06,155.01 476.43,155.07 476.79,154.95 477.15,154.95 477.51,155.07 477.87,155.04 478.23,155 478.59,155.07 478.95,155.03 479.31,155.07 479.67,155.01 480.03,155.01 480.39,154.95 480.75,154.97 481.11,155.04 481.47,154.99 481.83,154.95 482.19,155.06 482.56,155.01 482.92,155.06 483.28,155.05 483.64,155.01 484,155.08 484.36,155.01 484.72,155.04 485.08,155.07 485.44,155.01 485.8,155.05 486.16,155.05 486.52,154.95 486.88,155.02 487.24,155 487.6,155.07 487.96,154.95 488.32,155 488.69,155.04 489.05,154.99 489.41,154.99 489.77,155.01 490.13,155.02 490.49,155.07 490.85,154.97 491.21,155.08 491.57,155.07 491.93,154.99 492.29,154.96 492.65,154.95 493.01,155.05 493.37,154.97 493.73,155.06 494.09,155.06 494.46,155.02 494.82,155 495.18,155.01 495.54,154.95 495.9,155.01 496.26,155.03 496.62,155.02 496.98,155.06 497.34,154.98 497.7,155.06 498.06,155.01 498.42,155.07 498.78,154.98 499.14,155.03 499.5,154.97 499.86,155.06 500.22,155.01 500.59,154.96 500.95,154.98 501.31,155.05 501.67,155.07 502.03,155 502.39,154.94 502.75,155.03 503.11,154.98 503.47,154.99 503.83,154.94 504.19,155.02 504.55,155.07 504.91,155.07 505.27,154.95 505.63,155.05 505.99,155 506.35,154.99 506.72,154.95 507.08,155.02 507.44,155.05 507.8,154.95 508.16,155 508.52,154.94 508.88,154.97 509.24,154.99 509.6,155.02 509.96,155.08 510.32,154.97 510.68,155.03 511.04,155.08 511.4,154.98 511.76,154.94 512.12,154.98 512.49,155.06 512.85,155.03 513.21,155.03 513.57,155.04 513.93,154.99 514.29,154.98 514.65,155.04 515.01,155.03 515.37,155.04 515.73,155.05 516.09,154.99 516.45,154.97 516.81,154.98 517.17,154.95 517.53,154.95 517.89,154.94 518.25,154.97 518.62,155.03 518.98,154.98 519.34,154.94 519.7,155.04 520.06,155.03 520.42,155.08 520.78,154.95 521.14,154.97 521.5,155.07 521.86,155.02 522.22,155.04 522.58,155.03 522.94,155.02 523.3,154.95 523.66,155.04 524.02,155 524.38,154.98 524.75,154.98 525.11,155.08 525.47,155.03 525.83,154.96 526.19,155.06 526.55,155.02 526.91,154.97 527.27,155.05 527.63,155.01 527.99,154.95 528.35,155.07 528.71,155.04 529.07,155.08 529.43,155.07 529.79,154.97 530.15,155.01 530.52,154.99 530.88,155.05 531.24,154.98 531.6,155.06 531.96,155.05 532.32,155.07 532.68,154.95 533.04,155.04 533.4,155.04" fill="none" stroke="#1eaaf0" stroke-width="0.5" stroke-opacity="1" stroke-linejoin="round"/>
<polyline points="317.4,155.18 317.49,155.23 317.58,155.04 317.67,155.22 317.76,155.29 317.85,155.06 317.94,155.09 318.03,155.25 318.12,155.19 318.21,155.25 318.3,155.04 318.39,155.04 318.48,155.28 318.57,155.24 318.66,155.18 318.75,155.12 318.84,155.06 318.93,155.04 319.02,155.03 319.11,155.13 319.2,155.09 319.29,155.04 319.38,155.09 319.47,155.17 319.56,155.06 319.65,155.12 319.74,155.22 319.83,155.29 319.92,155.08 320.01,155.29 320.1,155.07 320.19,155.07 320.28,155.24 320.37,155.05 320.46,155.14 320.55,155.03 320.64,155.03 320.73,155.29 320.82,155.23 320.91,155.06 321,155.15 321.09,155.26 321.18,155.15 321.27,155.2 321.36,155.19 321.45,155.27 321.54,155.12 321.63,155.06 321.72,155.19 321.81,155.21 321.9,155.04 321.99,155.12 322.08,155.02 322.17,154.34 322.26,155.24 322.35,155.1 322.44,155.25 322.53,155.25 322.62,155.12 322.71,155.29 322.8,155.23 322.89,155.02 322.98,155.21 323.07,155.09 323.16,155.1 323.25,155.14 323.34,155.06 323.43,155.24 323.52,155.26 323.61,155.07 323.7,155.2 323.79,155.24 323.88,155.15 323.97,155.1 324.06,155.15 324.15,155.07 324.24,155.2 324.33,155.07 324.42,155.03 324.51,155.13 324.6,155.11 324.69,155.13 324.78,155.21 324.87,155.23 324.96,155.09 325.05,155.26 325.14,155.18 325.23,155.19 325.32,155.04 325.41,155.14 325.5,155.22 325.59,155.17 325.68,155.28 325.77,155.22 325.86,155.1 325.95,155.23 326.04,155.21 326.13,155.04 326.22,155.22 326.31,155.77 326.4,155.77 326.49,155.77 326.58,155.77 326.67,155.77 326.76,155.77 326.85,155.77 326.94,155.77 327.03,155.77 327.12,155.77 327.21,155.77 327.3,155.77 327.39,155.77 327.48,155.77 327.57,155.77 327.66,155.77 327.75,155.77 327.84,155.77 327.93,155.77 328.02,155.77 328.11,155.77 328.2,155.77 328.29,155.77 328.38,155.77 328.47,155.77 328.56,155.77 328.65,155.77 328.74,155.77 328.83,155.77 328.92,155.77 329.01,155.77 329.1,155.77 329.19,155.77 329.28,155.77 329.37,155.77 329.47,155.77 329.56,155.77 329.65,155.77 329.74,155.77 329.83,155.77 329.92,155.77 330.01,155.77 330.1,155.77 330.19,155.77 330.28,155.77 330.37,155.77 330.46,155.77 330.55,155.77 330.64,155.77 330.73,155.77 330.82,155.77 330.91,155.77 331,155.77 331.09,155.77 331.18,155.77 331.27,155.77 331.36,155.77 331.45,155.77 331.54,155.77 331.63,155.77 331.72,155.77 331.81,155.77 331.9,155.77 331.99,155.77 332.08,155.77 332.17,155.77 332.26,155.77 332.35,155.77 332.44,155.77 332.53,155.77 332.62,155.77 332.71,155.77 332.8,155.77 332.89,155.77 332.98,155.77 333.07,155.77 333.16,155.77 333.25,155.77 333.34,155.77 333.43,155.77 333.52,155.77 333.61,155.77 333.7,155.77 333.79,155.77 333.88,155.77 333.97,155.77 334.06,155.77 334.15,155.77 334.24,155.77 334.33,155.77 334.42,155.77 334.51,155.77 334.6,155.77 334.69,155.77 334.78,155.77 334.87,155.77 334.96,155.77 335.05,155.77 335.14,155.77 335.23,155.77 335.32,155.77 335.41,155.77 335.5,155.77 335.59,155.77 335.68,155.77 335.77,155.77 335.86,155.77 335.95,155.77 336.04,155.77 336.13,155.77 336.22,155.77 336.31,155.77 336.4,155.77 336.49,155.77 336.58,155.77 336.67,155.77 336.76,155.77 336.85,155.77 336.94,155.77 337.03,155.77 337.12,155.77 337.21,155.77 337.3,155.77 337.39,155.77 337.48,155.77 337.57,155.77 337.66,155.77 337.75,155.77 337.84,155.77 337.93,155.77 338.02,155.77 338.11,155.77 338.2,155.77 338.29,155.77 338.38,155.77 338.47,155.77 338.56,155.77 338.65,155.77 338.74,155.77 338.83,155.77 338.92,155.77 339.01,155.77 339.1,155.77 339.19,155.77 339.28,155.77 339.37,155.77 339.46,155.77 339.55,155.77 339.64,155.77 339.73,155.77 339.82,155.77 339.91,155.77 340,155.77 340.09,155.77 340.18,155.77 340.27,155.77 340.36,155.77 340.45,155.77 340.54,155.77 340.63,155.77 340.72,155.77 340.81,155.77 340.9,155.77 340.99,155.77 341.08,155.77 341.17,155.77 341.26,155.77 341.35,155.77 341.44,155.77 341.53,155.77 341.62,155.77 341.71,155.77 341.8,155.77 341.89,155.77 341.98,155.77 342.07,155.77 342.16,155.77 342.25,155.77 342.34,155.77 342.43,155.77 342.52,155.77 342.61,155.77 342.7,155.77 342.79,155.77 342.88,155.77 342.97,155.77 343.06,155.77 343.15,155.77 343.24,155.77 343.33,155.77 343.42,155.77 343.51,155.77 343.6,155.77 343.69,155.77 343.78,155.77 343.87,155.77 343.96,155.77 344.05,155.77 344.14,155.77 344.23,155.77 344.32,155.77 344.41,155.77 344.5,155.77 344.59,155.77 344.68,155.77 344.77,155.77 344.86,155.1 344.95,155.09 345.04,155.15 345.13,155.06 345.22,155.27 345.31,155.13 345.4,155.06 345.49,155.09 345.58,155.02 345.67,155.26 345.76,155.11 345.85,155.07 345.94,155.18 346.03,155.23 346.12,155.17 346.21,155.06 346.3,155.23 346.39,155.07 346.48,155.08 346.57,155.14 346.66,155.15 346.75,155.03 346.84,155.26 346.93,155.28 347.02,155.15 347.11,155.27 347.2,155.23 347.29,155.26 347.38,155.03 347.47,155.15 347.56,155.22 347.65,155.21 347.74,155.25 347.83,155.19 347.92,155.25 348.01,155.06 348.1,155.14 348.19,155.27 348.28,155.05 348.37,155.17 348.46,155.29 348.55,155.08 348.64,155.11 348.73,155.15 348.82,155.18 348.91,155.09 349,155.02 349.09,155.15 349.18,155.04 349.27,155.14 349.36,155.23 349.45,155.09 349.54,155.07 349.63,155.26 349.72,155.24 349.81,155.27 349.9,155.29 349.99,155.2 350.08,155.16 350.17,155.13 350.26,155.16 350.35,155.06 350.44,155.25 350.53,155.02 350.62,155.08 350.71,155.28 350.8,155.28 350.89,155.27 350.98,155.12 351.07,155.14 351.16,155.23 351.25,155.1 351.34,155.2 351.43,155.07 351.52,155.09 351.61,155.23 351.7,155.28 351.79,155.12 351.88,155.27 351.97,155.14 352.06,155.11 352.15,155.26 352.24,155.08 352.33,155.18 352.42,155.12 352.51,155.15 352.6,155.09 352.69,155.16 352.78,155.15 352.87,155.16 352.96,155.25 353.05,155.12 353.14,155.29 353.23,155.18 353.32,155.08 353.42,155.05 353.51,155.06 353.6,155.09 353.69,155.02 353.78,155.01 353.87,155.18 353.96,155.1 354.05,155.25 354.14,155.12 354.23,155.2 354.32,155.05 354.41,155.26 354.5,155.25 354.59,155.11 354.68,155.14 354.77,155.12 354.86,155.13 354.95,155.29 355.04,155.13 355.13,155.17 355.22,155.24 355.31,155.06 355.4,155.09 355.49,155.11 355.58,155.18 355.67,155.25 355.76,155.3 355.85,155.05 355.94,155.16 356.03,155.16 356.12,155.21 356.21,155.18 356.3,155.12 356.39,155.17 356.48,155.06 356.57,155.24 356.66,155.26 356.75,155.05 356.84,155.24 356.93,155.21 357.02,155.09 357.11,155.29 357.2,155.15 357.29,155.21 357.38,155.03 357.47,155.15 357.56,155.15 357.65,155.11 357.74,155.07 357.83,155.21 357.92,155.29 358.01,155.13 358.1,155.17 358.19,155.24 358.28,155.09 358.37,155.09 358.46,155.02 358.55,155.03 358.64,155.23 358.73,155.19 358.82,155.08 358.91,155.29 359,155.06 359.09,155.11 359.18,155.21 359.27,155.05 359.36,155.16 359.45,155.23 359.54,155.07 359.63,155.04 359.72,155.26 359.81,155.03 359.9,155.25 359.99,155.1 360.08,155.16 360.17,155.05 360.26,155.01 360.35,155.27 360.44,155.17 360.53,155.05 360.62,155.18 360.71,155.25 360.8,155.16 360.89,155.29 360.98,155.25 361.07,155.05 361.16,155.06 361.25,155.07 361.34,155.28 361.43,155.11 361.52,155.17 361.61,155.11 361.7,155.2 361.79,155.21 361.88,155.03 361.97,155.1 362.06,155.12 362.15,155.15 362.24,155.21 362.33,155.17 362.42,155.04 362.51,155.05 362.6,155.27 362.69,155.07 362.78,155.11 362.87,155.11 362.96,155.21 363.05,155.03 363.14,155.14 363.23,155.06 363.32,155.27 363.41,155.15 363.5,155.23 363.59,155.18 363.68,155.2 363.77,155.14 363.86,155.26 363.95,155.17 364.04,155.21 364.13,155.1 364.22,155.23 364.31,155.2 364.4,155.22 364.49,155.03 364.58,155.27 364.67,155.24 364.76,155.05 364.85,155.19 364.94,155.08 365.03,155.28 365.12,155.26 365.21,155.13 365.3,155.25 365.39,155.23 365.48,155.19 365.57,155.12 365.66,155.25 365.75,155.28 365.84,155.19 365.93,155.11 366.02,155.07 366.11,155.14 366.2,155.21 366.29,155.03 366.38,155.21 366.47,155.08 366.56,155.08 366.65,155.11 366.74,155.15 366.83,155.24 366.92,155.14 367.01,155.3 367.1,155.03 367.19,155.15 367.28,155.16 367.37,155.03 367.46,155.05 367.55,155.21 367.64,155.03 367.73,155.04 367.82,155.25 367.91,155.18 368,155.19 368.09,155.14 368.18,155.11 368.27,155.18 368.36,155.11 368.45,155.12 368.54,155.16 368.63,155.29 368.72,155.22 368.81,155.19 368.9,155.09 368.99,155.19 369.08,155.23 369.17,155.29 369.26,155.1 369.35,155.19 369.44,155.15 369.53,155.05 369.62,155.11 369.71,155.23 369.8,155.22 369.89,155.12 369.98,155.06 370.07,155.25 370.16,155.18 370.25,155.24 370.34,155.26 370.43,155.1 370.52,155.18 370.61,155.18 370.7,155.06 370.79,155.29 370.88,155.23 370.97,155.28 371.06,155.29 371.15,155.15 371.24,155.21 371.33,155.1 371.42,155.24 371.51,155.26 371.6,155.09 371.69,155.28 371.78,155.14 371.87,155.28 371.96,155.03 372.05,155.04 372.14,155.28 372.23,155.03 372.32,155.14 372.41,155.09 372.5,155.06 372.59,155.17 372.68,155.17 372.77,155.2 372.86,155.12 372.95,155.29 373.04,155.1 373.13,155.09 373.22,155.1 373.31,155.12 373.4,155.21 373.49,155.1 373.58,155.19 373.67,155.11 373.76,155.23 373.85,155.22 373.94,155.11 374.03,155.25 374.12,155.06 374.21,155.06 374.3,155.14 374.39,155.22 374.48,155.2 374.57,155.26 374.66,155.08 374.75,155.02 374.84,155.26 374.93,155.28 375.02,155.17 375.11,155.02 375.2,155.24 375.29,155.24 375.38,155.18 375.47,155.2 375.56,155.22 375.65,155.13 375.74,155.27 375.83,155.27 375.92,155.16 376.01,155.03 376.1,155.24 376.19,155.23 376.28,155.23 376.37,155.27 376.46,155.27 376.55,154.48 376.64,155.22 376.73,155.13 376.82,155.25 376.91,155.04 377,155.14 377.09,155.07 377.18,155.26 377.27,155.06 377.36,155.18 377.46,155.2 377.55,155.05 377.64,155.17 377.73,155.21 377.82,155.18 377.91,155.13 378,155.23 378.09,155.15 378.18,155.2 378.27,155.26 378.36,155.29 378.45,155.06 378.54,155.04 378.63,155.22 378.72,154.78 378.81,155.18 378.9,155.2 378.99,155.22 379.08,155.2 379.17,155.2 379.26,155.26 379.35,155.06 379.44,155.18 379.53,155.24 379.62,155.18 379.71,155.16 379.8,155.08 379.89,155.25 379.98,155.16 380.07,155.08 380.16,155.06 380.25,155.26 380.34,155.19 380.43,155.1 380.52,155.2 380.61,155.11 380.7,155.22 380.79,155.21 380.88,155.28 380.97,155.11 381.06,155.21 381.15,155.27 381.24,155.22 381.33,155.25 381.42,155.19 381.51,155.02 381.6,155.03 381.69,155.06 381.78,155.07 381.87,155.04 381.96,155.25 382.05,155.16 382.14,155.07 382.23,155.03 382.32,155.12 382.41,155.26 382.5,155.2 382.59,155.24 382.68,155.08 382.77,155.07 382.86,155.18 382.95,155.3 383.04,155.03 383.13,155.05 383.22,155.03 383.31,155.08 383.4,155.01 383.49,155.22 383.58,155.26 383.67,155.06 383.76,155.06 383.85,155.22 383.94,155.13 384.03,155.27 384.12,155.26 384.21,155.02 384.3,155.05 384.39,155.25 384.48,155.11 384.57,155.09 384.66,155.15 384.75,155.15 384.84,155.1 384.93,155.29 385.02,155.02 385.11,155.12 385.2,155.16 385.29,155.22 385.38,155.22 385.47,155.12 385.56,155.24 385.65,155.1 385.74,155.27 385.83,155.19 385.92,155.22 386.01,155.3 386.1,155.1 386.19,155.04 386.28,155.19 386.37,155.23 386.46,155.11 386.55,155.27 386.64,155.05 386.73,155.15 386.82,155.1 386.91,155.21 387,155.15 387.09,155.14 387.18,155.12 387.27,155.07 387.36,155.17 387.45,155.17 387.54,155.18 387.63,155.29 387.72,155.19 387.81,155.03 387.9,155.1 387.99,155.19 388.08,155.06 388.17,155.22 388.26,155.18 388.35,155.22 388.44,155.18 388.53,155.26 388.62,155.13 388.71,155.26 388.8,155.17 388.89,155.08 388.98,155.04 389.07,155.11 389.16,155.19 389.25,155.24 389.34,155.22 389.43,155.22 389.52,155.11 389.61,155.08 389.7,155.26 389.79,155.17 389.88,155.08 389.97,155.1 390.06,155.27 390.15,155.13 390.24,155.03 390.33,155.05 390.42,155.23 390.51,155.06 390.6,155.02 390.69,155.03 390.78,155.05 390.87,155.26 390.96,155.17 391.05,155.11 391.14,155.05 391.23,155.06 391.32,155.18 391.41,155.2 391.5,155.1 391.59,155.22 391.68,155.18 391.77,155.05 391.86,155.22 391.95,155.06 392.04,155.28 392.13,155.27 392.22,155.19 392.31,155.1 392.4,155.23 392.49,155.02 392.58,155.13 392.67,155.28 392.76,155.23 392.85,154.48 392.94,155.27 393.03,155.29 393.12,155.23 393.21,155.29 393.3,155.24 393.39,155.16 393.48,155.06 393.57,155.17 393.66,155.14 393.75,155.27 393.84,155.2 393.93,155.11 394.02,155.16 394.11,155.03 394.2,155.18 394.29,155.03 394.38,155.24 394.47,155.1 394.56,155.08 394.65,155.02 394.74,155.25 394.83,155.12 394.92,155.03 395.01,155.16 395.1,155.02 395.19,155.04 395.28,155.21 395.37,155.16 395.46,155.21 395.55,155.07 395.64,155.28 395.73,155.1 395.82,155.3 395.91,155.28 396,155.08 396.09,155.24 396.18,155.13 396.27,155.04 396.36,155.25 396.45,154.7 396.54,155.08 396.63,155.12 396.72,155.12 396.81,155.24 396.9,155.15 396.99,155.06 397.08,155.15 397.17,155.11 397.26,155.1 397.35,155.19 397.44,155.15 397.53,155.2 397.62,155.22 397.71,155.28 397.8,155.04 397.89,155.2 397.98,155.09 398.07,155.24 398.16,155.13 398.25,155.09 398.34,155.1 398.43,155.16 398.52,155.02 398.61,155.25 398.7,155.09 398.79,155.26 398.88,155.15 398.97,155.3 399.06,155.28 399.15,155.04 399.24,155.09 399.33,155.29 399.42,155.27 399.51,155.27 399.6,155.06 399.69,155.16 399.78,155.06 399.87,155.13 399.96,155.08 400.05,155.26 400.14,155.09 400.23,155.21 400.32,155.12 400.41,155.26 400.5,155.2 400.59,155.07 400.68,155.28 400.77,155.25 400.86,155.22 400.95,155.24 401.04,155.06 401.13,155.05 401.22,155.06 401.31,155.17 401.41,155.12 401.5,155.13 401.59,155.11 401.68,155.12 401.77,155.03 401.86,155.11 401.95,155.29 402.04,155.08 402.13,155.14 402.22,155.07 402.31,155.2 402.4,155.24 402.49,155.15 402.58,155.23 402.67,155.13 402.76,155.14 402.85,155.1 402.94,155.29 403.03,155.07 403.12,155.26 403.21,155.16 403.3,155.18 403.39,155.02 403.48,155.07 403.57,155.04 403.66,155.22 403.75,155.15 403.84,155.05 403.93,155.05 404.02,155.13 404.11,155.15 404.2,155.23 404.29,155.15 404.38,155.05 404.47,155.09 404.56,155.06 404.65,155.13 404.74,155.27 404.83,155.25 404.92,155.18 405.01,155.04 405.1,155.16 405.19,155.03 405.28,155.16 405.37,155.09 405.46,155.1 405.55,155.3 405.64,155.17 405.73,155.13 405.82,155.02 405.91,155.06 406,155.23 406.09,155.21 406.18,155.16 406.27,155.2 406.36,155.19 406.45,155.14 406.54,155.29 406.63,155.18 406.72,155.28 406.81,155.29 406.9,155.05 406.99,155.28 407.08,155.11 407.17,155.08 407.26,155.28 407.35,155.28 407.44,155.29 407.53,155.05 407.62,155.16 407.71,155.26 407.8,155.02 407.89,155.12 407.98,155.04 408.07,155.27 408.16,155.13 408.25,155.08 408.34,155.17 408.43,155.16 408.52,155.28 408.61,155.24 408.7,155.23 408.79,155.17 408.88,155.29 408.97,155.27 409.06,155.13 409.15,155.02 409.24,155.22 409.33,155.15 409.42,155.16 409.51,155.08 409.6,155.15 409.69,155.15 409.78,155.29 409.87,155.29 409.96,155.17 410.05,155.26 410.14,155.21 410.23,155.26 410.32,155.07 410.41,155.21 410.5,155.11 410.59,155.13 410.68,155.1 410.77,155.22 410.86,155.25 410.95,155.05 411.04,155.16 411.13,155.09 411.22,155.17 411.31,155.29 411.4,155.26 411.49,155.26 411.58,155.29 411.67,155.09 411.76,155.02 411.85,155.18 411.94,155.02 412.03,155.27 412.12,155.2 412.21,155.13 412.3,155.11 412.39,155.29 412.48,155.04 412.57,155.01 412.66,155.21 412.75,155.21 412.84,155.12 412.93,155.18 413.02,155.15 413.11,155.05 413.2,155.11 413.29,155.26 413.38,155.2 413.47,155.05 413.56,155.03 413.65,155.21 413.74,155.28 413.83,155.07 413.92,155.24 414.01,155.23 414.1,155.18 414.19,155.27 414.28,155.1 414.37,155.05 414.46,155.2 414.55,155.11 414.64,155.26 414.73,155.2 414.82,155.25 414.91,155.27 415,155.22 415.09,155.19 415.18,155.29 415.27,155.11 415.36,155.11 415.45,155.22 415.54,155.17 415.63,155.22 415.72,155.27 415.81,155.02 415.9,155.03 415.99,155.17 416.08,155.06 416.17,155.15 416.26,155.02 416.35,155.12 416.44,155.05 416.53,155.14 416.62,155.14 416.71,155.12 416.8,155.06 416.89,155.26 416.98,155.09 417.07,155.09 417.16,155.01 417.25,155.2 417.34,155.1 417.43,155.19 417.52,155.13 417.61,155.3 417.7,155.06 417.79,155.24 417.88,155.16 417.97,155.25 418.06,155.03 418.15,155.09 418.24,155.05 418.33,155.08 418.42,155.04 418.51,155.11 418.6,155.27 418.69,155.28 418.78,155.08 418.87,155.22 418.96,155.09 419.05,155.17 419.14,155.05 419.23,155.2 419.32,155.27 419.41,155.06 419.5,155.21 419.59,155.18 419.68,155.08 419.77,155.23 419.86,155.03 419.95,155.29 420.04,155.08 420.13,155.05 420.22,155.12 420.31,155.24 420.4,155.27 420.49,155.08 420.58,155.09 420.67,155.07 420.76,155.02 420.85,155.12 420.94,155.03 421.03,155.02 421.12,155.13 421.21,155.08 421.3,155.25 421.39,155.01 421.48,155.16 421.57,154.83 421.66,155.1 421.75,155.05 421.84,155.22 421.93,155.08 422.02,155.06 422.11,155.18 422.2,155.17 422.29,155.05 422.38,155.2 422.47,155.07 422.56,155.04 422.65,155.19 422.74,155.21 422.83,155.24 422.92,155.24 423.01,155.05 423.1,155.22 423.19,155.22 423.28,155.11 423.37,155.22 423.46,155.22 423.55,155.03 423.64,155.01 423.73,155.08 423.82,155.07 423.91,155.19 424,155.2 424.09,155.06 424.18,155.15 424.27,155.24 424.36,155.21 424.45,155.09 424.54,155.19 424.63,155.07 424.72,155.23 424.81,155.3 424.9,155.26 424.99,155.27 425.08,155.24 425.17,155.02 425.26,155.11 425.35,155.17 425.45,155.26 425.54,155.07 425.63,155.12 425.72,155.22 425.81,155.16 425.9,155.06 425.99,155.02 426.08,154.42 426.17,155.13 426.26,155.15 426.35,155.18 426.44,155.3 426.53,155.21 426.62,155.06 426.71,155.2 426.8,155.11 426.89,155.02 426.98,155.07 427.07,155.21 427.16,155.23 427.25,155.03 427.34,155.24 427.43,155.09 427.52,155.12 427.61,155.14 427.7,155.21 427.79,155.02 427.88,155.08 427.97,155.18 428.06,155.25 428.15,155.18 428.24,155.29 428.33,155.25 428.42,155.23 428.51,155.25 428.6,155.14 428.69,155.26 428.78,155.27 428.87,155.28 428.96,155.04 429.05,155.28 429.14,155.02 429.23,155.03 429.32,155.15 429.41,155.04 429.5,155.29 429.59,155.08 429.68,155.15 429.77,155.12 429.86,155.01 429.95,155.25 430.04,155.21 430.13,155.1 430.22,155.25 430.31,155.03 430.4,155.25 430.49,155.19 430.58,155.08 430.67,155.05 430.76,155.07 430.85,155.06 430.94,155.18 431.03,155.19 431.12,155.14 431.21,155.25 431.3,155.14 431.39,155.14 431.48,155.21 431.57,155.26 431.66,155.27 431.75,155.2 431.84,155.14 431.93,155.02 432.02,155.24 432.11,155.29 432.2,155.21 432.29,155.16 432.38,155.13 432.47,155.2 432.56,155.04 432.65,155.24 432.74,155.22 432.83,155.22 432.92,155.02 433.01,155.16 433.1,155.2 433.19,155.28 433.28,155.19 433.37,155.07 433.46,155.06 433.55,155.03 433.64,155.24 433.73,155.29 433.82,155.25 433.91,155.28 434,155.05 434.09,155.22 434.18,155.06 434.27,155.22 434.36,155.27 434.45,155.22 434.54,155.12 434.63,155.02 434.72,155.12 434.81,155.07 434.9,155.15 434.99,155.03 435.08,155.05 435.17,155.01 435.26,155.06 435.35,155.1 435.44,155.06 435.53,155.04 435.62,155.1 435.71,155.28 435.8,155.17 435.89,155.02 435.98,155.1 436.07,155.18 436.16,155.04 436.25,155.2 436.34,155.19 436.43,155.14 436.52,155.1 436.61,155.13 436.7,155.2 436.79,155.14 436.88,155.2 436.97,154.3 437.06,155.14 437.15,155.27 437.24,155.12 437.33,155.03 437.42,155.12 437.51,155.28 437.6,155.14 437.69,155.25 437.78,155.18 437.87,155.25 437.96,155.04 438.05,155.08 438.14,155.13 438.23,155.21 438.32,155.27 438.41,155.09 438.5,155.23 438.59,155.04 438.68,155.05 438.77,155.25 438.86,155.01 438.95,155.02 439.04,155.28 439.13,155.15 439.22,155.22 439.31,155.12 439.4,155.06 439.49,155.22 439.58,155.28 439.67,155.19 439.76,155.24 439.85,155.09 439.94,155.21 440.03,155.13 440.12,155.27 440.21,155.22 440.3,155.08 440.39,155.06 440.48,155.14 440.57,155.13 440.66,155.28 440.75,155.13 440.84,155.13 440.93,155.24 441.02,155.09 441.11,155.26 441.2,155.15 441.29,155.27 441.38,155.06 441.47,155.18 441.56,155.02 441.65,155.17 441.74,155.08 441.83,155.15 441.92,155.28 442.01,155.21 442.1,155.13 442.19,155.07 442.28,155.28 442.37,155.15 442.46,155.08 442.55,155.24 442.64,155.2 442.73,155.22 442.82,155.09 442.91,155.22 443,155.04 443.09,155.06 443.18,155.14 443.27,155.02 443.36,155.21 443.45,155.3 443.54,155.1 443.63,155.07 443.72,155.03 443.81,155.25 443.9,155.29 443.99,155.13 444.08,155.18 444.17,155.23 444.26,155.11 444.35,155.15 444.44,155.12 444.53,155.03 444.62,155.05 444.71,155.25 444.8,155.28 444.89,155.11 444.98,155.3 445.07,155.24 445.16,155.04 445.25,154.46 445.34,155.09 445.43,155.11 445.52,155.27 445.61,155.08 445.7,155.08 445.79,155.29 445.88,155.02 445.97,155.27 446.06,155.16 446.15,155.16 446.24,155.16 446.33,155.01 446.42,155.25 446.51,155.07 446.6,155.05 446.69,155.26 446.78,155.3 446.87,155.22 446.96,155.29 447.05,155.28 447.14,155.06 447.23,155.29 447.32,155.22 447.41,155.28 447.5,155.26 447.59,155.14 447.68,155.04 447.77,155.05 447.86,155.27 447.95,155.06 448.04,155.05 448.13,155.23 448.22,155.24 448.31,155.19 448.4,155.07 448.49,155.01 448.58,155.14 448.67,155.18 448.76,155.19 448.85,155.17 448.94,155.23 449.03,155.1 449.12,155.13 449.21,155.2 449.3,155.1 449.39,155.07 449.49,155.25 449.58,155.19 449.67,155.12 449.76,155.08 449.85,155.28 449.94,155.27 450.03,155.08 450.12,155.08 450.21,155.24 450.3,155.19 450.39,155.1 450.48,155.15 450.57,155.07 450.66,155.24 450.75,155.18 450.84,155.2 450.93,155.06 451.02,155.2 451.11,155.09 451.2,155.17 451.29,155.25 451.38,155.12 451.47,155.25 451.56,155.26 451.65,155.05 451.74,155.04 451.83,155.2 451.92,155.19 452.01,155.13 452.1,155.12 452.19,155.13 452.28,155.22 452.37,155.07 452.46,155.21 452.55,155.05 452.64,155.03 452.73,155.22 452.82,155.12 452.91,155.1 453,155.23 453.09,155.02 453.18,155.17 453.27,155.15 453.36,155.2 453.45,155.18 453.54,155.27 453.63,155.03 453.72,155.05 453.81,155.08 453.9,155.01 453.99,155.05 454.08,155.12 454.17,155.29 454.26,155.02 454.35,155.07 454.44,155.15 454.53,155.15 454.62,155.12 454.71,155.09 454.8,155.14 454.89,155.2 454.98,155.28 455.07,155.18 455.16,155.27 455.25,155.19 455.34,155.05 455.43,155.07 455.52,155.15 455.61,155.1 455.7,155.18 455.79,155.14 455.88,155.04 455.97,155.02 456.06,155.22 456.15,155.08 456.24,155.19 456.33,155.17 456.42,155.18 456.51,155.25 456.6,155.23 456.69,155.05 456.78,155.13 456.87,155.25 456.96,155.02 457.05,155.08 457.14,155.08 457.23,155.14 457.32,155.13 457.41,155.26 457.5,155.25 457.59,155.11 457.68,155.11 457.77,155.18 457.86,155.06 457.95,155.23 458.04,155.25 458.13,155.28 458.22,155.03 458.31,155.15 458.4,155.13 458.49,155.11 458.58,155.26 458.67,155.05 458.76,155.02 458.85,155.23 458.94,155.23 459.03,155.05 459.12,155.15 459.21,155.24 459.3,155.02 459.39,155.06 459.48,155.19 459.57,155.12 459.66,155.09 459.75,155.2 459.84,155.13 459.93,155.19 460.02,155.06 460.11,155.23 460.2,155.17 460.29,155.28 460.38,155.13 460.47,155.28 460.56,155.2 460.65,155.08 460.74,155.14 460.83,155.2 460.92,155.16 461.01,155.27 461.1,155.23 461.19,155.03 461.28,155.26 461.37,155.07 461.46,155.09 461.55,155.12 461.64,155.08 461.73,155.26 461.82,155.2 461.91,155.2 462,155.23 462.09,155.23 462.18,155.21 462.27,155.02 462.36,155.19 462.45,155.07 462.54,155.08 462.63,155.09 462.72,155.16 462.81,155.15 462.9,155.25 462.99,155.04 463.08,155.19 463.17,155.09 463.26,155.05 463.35,155.13 463.44,155.19 463.53,155.05 463.62,155.27 463.71,155.08 463.8,155.22 463.89,155.1 463.98,155.24 464.07,155.04 464.16,155.16 464.25,155.27 464.34,155.07 464.43,155.2 464.52,155.27 464.61,155.06 464.7,155.27 464.79,155.24 464.88,155.24 464.97,155.18 465.06,155.02 465.15,155.28 465.24,155.02 465.33,155.22 465.42,155.18 465.51,155.07 465.6,155.05 465.69,155.26 465.78,155.1 465.87,155.17 465.96,155.27 466.05,155.01 466.14,155.18 466.23,155.1 466.32,155.08 466.41,155.23 466.5,155.22 466.59,155.19 466.68,155.04 466.77,155.06 466.86,155.11 466.95,155.2 467.04,155.21 467.13,155.2 467.22,155.19 467.31,155.17 467.4,155.18 467.49,155.2 467.58,155.08 467.67,155.05 467.76,155.05 467.85,155.25 467.94,155.13 468.03,155.25 468.12,155.05 468.21,155.15 468.3,155.29 468.39,155.07 468.48,155.11 468.57,155.27 468.66,155.05 468.75,155.28 468.84,155.04 468.93,155.01 469.02,155.17 469.11,155.13 469.2,155.19 469.29,155.16 469.38,155.06 469.47,155.07 469.56,155.18 469.65,155.06 469.74,155.21 469.83,155.07 469.92,155.21 470.01,155.06 470.1,155.22 470.19,155.15 470.28,155.25 470.37,155.28 470.46,155.18 470.55,155.28 470.64,155.26 470.73,155.19 470.82,155.08 470.91,155.19 471,155.29 471.09,155.18 471.18,155.18 471.27,155.23 471.36,155.2 471.45,155.16 471.54,155.15 471.63,155.12 471.72,155.03 471.81,155.03 471.9,155.1 471.99,155.19 472.08,155.29 472.17,155.17 472.26,155.22 472.35,155.12 472.44,155.24 472.53,155.13 472.62,155.22 472.71,155.25 472.8,155.28 472.89,155.16 472.98,155.26 473.07,155.24 473.16,155.22 473.25,155.25 473.34,155.29 473.44,155.26 473.53,155.09 473.62,155.18 473.71,155.11 473.8,155.1 473.89,155.13 473.98,155.14 474.07,155.06 474.16,155.28 474.25,155.21 474.34,155.3 474.43,155.17 474.52,155.05 474.61,155.15 474.7,155.05 474.79,155.12 474.88,155.29 474.97,155.27 475.06,155.11 475.15,155.02 475.24,155.25 475.33,155.03 475.42,155.1 475.51,155.26 475.6,155.21 475.69,155.06 475.78,155.05 475.87,155.1 475.96,155.03 476.05,155.07 476.14,155.03 476.23,155.19 476.32,155.17 476.41,155.21 476.5,155.24 476.59,155.21 476.68,155.26 476.77,155.03 476.86,155.12 476.95,155.02 477.04,155.26 477.13,155.12 477.22,155.17 477.31,155.04 477.4,155.29 477.49,155.12 477.58,155.15 477.67,155.28 477.76,155.16 477.85,155.22 477.94,155.21 478.03,155.29 478.12,155.06 478.21,155.24 478.3,155.04 478.39,155.26 478.48,155.05 478.57,155.02 478.66,155.16 478.75,155.05 478.84,155.22 478.93,155.26 479.02,155.09 479.11,155.14 479.2,155.05 479.29,155.14 479.38,155.02 479.47,155.18 479.56,155.18 479.65,155.08 479.74,155.01 479.83,155.2 479.92,155.23 480.01,155.06 480.1,155.22 480.19,155.25 480.28,155.14 480.37,155.21 480.46,155.27 480.55,155.12 480.64,155.19 480.73,155.27 480.82,155.21 480.91,155.18 481,155.26 481.09,155.1 481.18,155.28 481.27,155.18 481.36,155.21 481.45,155.04 481.54,155.26 481.63,155.28 481.72,155.21 481.81,155.02 481.9,155.16 481.99,155.05 482.08,155.29 482.17,155.07 482.26,155.09 482.35,155.02 482.44,155.25 482.53,155.27 482.62,155.02 482.71,155.03 482.8,155.15 482.89,155.04 482.98,155.06 483.07,155.13 483.16,155.16 483.25,155.29 483.34,155.1 483.43,155.08 483.52,155.13 483.61,155.08 483.7,155.16 483.79,155.23 483.88,155.03 483.97,155.28 484.06,155.22 484.15,155.24 484.24,155.12 484.33,155.17 484.42,155.13 484.51,155.16 484.6,155.12 484.69,155.27 484.78,155.19 484.87,155.14 484.96,155.12 485.05,155.17 485.14,155.28 485.23,155.1 485.32,155.15 485.41,155.02 485.5,155.2 485.59,155.1 485.68,155.29 485.77,155.1 485.86,155.28 485.95,155.12 486.04,155.12 486.13,155.09 486.22,155.15 486.31,155.16 486.4,155.26 486.49,155.23 486.58,155.07 486.67,155.02 486.76,155.2 486.85,155.14 486.94,155.22 487.03,155.22 487.12,155.07 487.21,155.06 487.3,155.12 487.39,155.05 487.48,155.3 487.57,155.04 487.66,155.27 487.75,155.29 487.84,155.27 487.93,155.23 488.02,155.14 488.11,155.28 488.2,155.04 488.29,155.17 488.38,155.02 488.47,155.09 488.56,155.22 488.65,155.24 488.74,155.06 488.83,155.13 488.92,155.27 489.01,155.22 489.1,155.26 489.19,155.13 489.28,155.04 489.37,155.19 489.46,155.29 489.55,155.03 489.64,155.06 489.73,154.41 489.82,155.22 489.91,155.19 490,155.02 490.09,155.29 490.18,155.01 490.27,155.12 490.36,155.18 490.45,155.18 490.54,155.11 490.63,155.21 490.72,155.21 490.81,155.07 490.9,155.21 490.99,155.07 491.08,155.2 491.17,155.1 491.26,155.3 491.35,155.14 491.44,155.17 491.53,155.07 491.62,155.12 491.71,155.11 491.8,155.25 491.89,155.05 491.98,155.06 492.07,155.15 492.16,155.11 492.25,155.22 492.34,155.22 492.43,155.14 492.52,155.17 492.61,155.26 492.7,155.05 492.79,155.09 492.88,155.24 492.97,155.03 493.06,155.13 493.15,155.16 493.24,155.05 493.33,155.27 493.42,155.27 493.51,155.02 493.6,155.26 493.69,155.17 493.78,155.02 493.87,155.21 493.96,155.03 494.05,155.25 494.14,155.04 494.23,155.3 494.32,154.33 494.41,155.03 494.5,155.07 494.59,155.1 494.68,155.16 494.77,155.08 494.86,155.09 494.95,155.25 495.04,155.09 495.13,155.07 495.22,155.1 495.31,155.23 495.4,155.19 495.49,155.24 495.58,155.19 495.67,155.18 495.76,155.07 495.85,155.08 495.94,155.25 496.03,155.07 496.12,155.1 496.21,155.2 496.3,155.13 496.39,155.27 496.48,155.25 496.57,155.22 496.66,155.08 496.75,155.25 496.84,155.22 496.93,155.15 497.02,155.18 497.11,155.24 497.2,155.15 497.29,155.01 497.38,155.15 497.48,155.05 497.57,155.06 497.66,155.25 497.75,155.16 497.84,155.17 497.93,155.06 498.02,155.1 498.11,155.12 498.2,155.04 498.29,155.27 498.38,155.26 498.47,155.16 498.56,155.11 498.65,155.11 498.74,155.05 498.83,155.25 498.92,155.27 499.01,155.2 499.1,155.1 499.19,155.21 499.28,155.09 499.37,155.14 499.46,155.22 499.55,155.14 499.64,155.17 499.73,155.06 499.82,155.07 499.91,155.23 500,155.24 500.09,155.06 500.18,155.05 500.27,155.05 500.36,155.19 500.45,155.26 500.54,155.14 500.63,155.03 500.72,155.13 500.81,155.1 500.9,155.29 500.99,155.18 501.08,155.25 501.17,155.28 501.26,155.24 501.35,155.22 501.44,155.15 501.53,155.12 501.62,155.14 501.71,155.2 501.8,155.25 501.89,155.16 501.98,155.04 502.07,155.04 502.16,155.04 502.25,155.04 502.34,155.13 502.43,155.15 502.52,155.24 502.61,155.08 502.7,155.13 502.79,155.18 502.88,155.28 502.97,155.25 503.06,155.1 503.15,155.15 503.24,155.08 503.33,155.27 503.42,155.1 503.51,155.05 503.6,155.29 503.69,155.02 503.78,155.28 503.87,155.09 503.96,155.15 504.05,155.21 504.14,155.2 504.23,155.29 504.32,155.08 504.41,155.29 504.5,155.02 504.59,155.02 504.68,155.06 504.77,155.26 504.86,155.12 504.95,155.07 505.04,155.18 505.13,155.18 505.22,155.07 505.31,155.29 505.4,155.19 505.49,155.06 505.58,155.07 505.67,155.03 505.76,155.05 505.85,155.24 505.94,155.03 506.03,155.23 506.12,155.14 506.21,155.13 506.3,155.11 506.39,155.12 506.48,155.23 506.57,155.05 506.66,155.26 506.75,155.09 506.84,155.3 506.93,155.04 507.02,155.05 507.11,155.22 507.2,155.14 507.29,155.16 507.38,155.03 507.47,155.22 507.56,155.28 507.65,155.18 507.74,155.21 507.83,155.22 507.92,155.08 508.01,155.19 508.1,155.26 508.19,155.25 508.28,155.05 508.37,155.17 508.46,155.24 508.55,155.16 508.64,155.27 508.73,155.16 508.82,155.23 508.91,155.19 509,155.03 509.09,155.16 509.18,155.09 509.27,155.21 509.36,154.64 509.45,155.2 509.54,155.24 509.63,155.15 509.72,155.11 509.81,155.22 509.9,155.1 509.99,155.15 510.08,155.07 510.17,155.08 510.26,155.03 510.35,155.1 510.44,155.28 510.53,155.2 510.62,155.18 510.71,155.05 510.8,155.05 510.89,155.24 510.98,155.04 511.07,155.18 511.16,155.11 511.25,155.11 511.34,155.17 511.43,155.14 511.52,155.16 511.61,155.1 511.7,155.06 511.79,155.14 511.88,155.05 511.97,155.15 512.06,155.28 512.15,155.13 512.24,155.21 512.33,154.36 512.42,155.22 512.51,155.11 512.6,155.24 512.69,155.11 512.78,155.13 512.87,155.1 512.96,155.29 513.05,155.17 513.1,154.65" fill="none" stroke="#e3142f" stroke-width="0.85" stroke-opacity="1" stroke-linejoin="round"/>
<polyline points="513.1,154.65 514.22,150.17 514.48,137.6 514.74,142.99 515.04,119.65 515.69,56.83 516.27,12.85 516.81,56.83 517.42,110.68 517.98,148.37 518.54,116.06 519.14,90.93 519.71,128.62 520.27,153.76 520.79,141.19 521.3,119.65 521.74,134.01 522.25,110.68 522.69,130.42 523.12,114.27 523.68,139.4 524.11,144.78 524.67,119.65 525.34,83.21 526.06,123.24 526.75,149.27 527.35,101.7 527.87,62.21 528.22,46.06 528.65,65.8 529.3,110.68 529.94,148.37 530.59,112.47 531.43,80.16 532.1,116.06 532.92,149.27 533.18,137.6 533.4,147.47" fill="none" stroke="#e3142f" stroke-width="0.45" stroke-opacity="1" stroke-linejoin="round"/>
<line x1="348.6" y1="155.55" x2="348.6" y2="114.27" stroke="#e3142f" stroke-width="0.4" stroke-opacity="1"/>
<line x1="508.25" y1="155.55" x2="508.25" y2="130.24" stroke="#e3142f" stroke-width="0.4" stroke-opacity="1"/>
<line x1="501.5" y1="155.55" x2="501.5" y2="151.96" stroke="#e3142f" stroke-width="0.4" stroke-opacity="1"/>
<rect x="309.2" y="7.85" width="36.4" height="21.6" rx="1.2" fill="#fff" fill-opacity="0.8" stroke="#d4d4d4" stroke-width="0.5"/>
<line x1="312" y1="13.35" x2="325.2" y2="13.35" stroke="#1eaaf0" stroke-width="0.5" stroke-opacity="0.8"/>
<line x1="312" y1="22.85" x2="325.2" y2="22.85" stroke="#e3142f" stroke-width="0.9" stroke-opacity="0.5"/>
<text transform="translate(329.8 15.95) scale(1.07 1)" class="g">train</text>
<text transform="translate(329.8 25.05) scale(1.07 1)" class="g">test</text>
<rect x="20.6" y="194.7" width="237.8" height="157.6" fill="#fff" stroke="#b4b4b4" stroke-width="1.05"/>
<line x1="31.41" y1="352" x2="31.41" y2="353.5" stroke="#444" stroke-width="0.5"/>
<text transform="translate(31.41 359.7) scale(0.93 1)" text-anchor="middle" class="t">0</text>
<line x1="74.65" y1="352" x2="74.65" y2="353.5" stroke="#444" stroke-width="0.5"/>
<text transform="translate(74.65 359.7) scale(0.93 1)" text-anchor="middle" class="t">10,000</text>
<line x1="117.88" y1="352" x2="117.88" y2="353.5" stroke="#444" stroke-width="0.5"/>
<text transform="translate(117.88 359.7) scale(0.93 1)" text-anchor="middle" class="t">20,000</text>
<line x1="161.12" y1="352" x2="161.12" y2="353.5" stroke="#444" stroke-width="0.5"/>
<text transform="translate(161.12 359.7) scale(0.93 1)" text-anchor="middle" class="t">30,000</text>
<line x1="204.35" y1="352" x2="204.35" y2="353.5" stroke="#444" stroke-width="0.5"/>
<text transform="translate(204.35 359.7) scale(0.93 1)" text-anchor="middle" class="t">40,000</text>
<line x1="247.59" y1="352" x2="247.59" y2="353.5" stroke="#444" stroke-width="0.5"/>
<text transform="translate(247.59 359.7) scale(0.93 1)" text-anchor="middle" class="t">50,000</text>
<line x1="19.4" y1="345.4" x2="20.9" y2="345.4" stroke="#444" stroke-width="0.5"/>
<text transform="translate(18.2 348) scale(0.93 1)" text-anchor="end" class="t">0</text>
<line x1="19.4" y1="311.46" x2="20.9" y2="311.46" stroke="#444" stroke-width="0.5"/>
<text transform="translate(18.2 314.06) scale(0.93 1)" text-anchor="end" class="t">2</text>
<line x1="19.4" y1="277.52" x2="20.9" y2="277.52" stroke="#444" stroke-width="0.5"/>
<text transform="translate(18.2 280.12) scale(0.93 1)" text-anchor="end" class="t">4</text>
<line x1="19.4" y1="243.58" x2="20.9" y2="243.58" stroke="#444" stroke-width="0.5"/>
<text transform="translate(18.2 246.18) scale(0.93 1)" text-anchor="end" class="t">6</text>
<line x1="19.4" y1="209.64" x2="20.9" y2="209.64" stroke="#444" stroke-width="0.5"/>
<text transform="translate(18.2 212.24) scale(0.93 1)" text-anchor="end" class="t">8</text>
<text x="139.5" y="368.1" text-anchor="middle" class="l">sample</text>
<text x="139.5" y="374.3" text-anchor="middle" class="c">(c) reconstruction error of Task3</text>
<text transform="translate(12.1 273.5) rotate(-90)" text-anchor="middle" class="l">value</text>
<polyline points="31.41,344.08 31.5,344.05 31.59,344.21 31.68,344.1 31.77,344.03 31.86,343.95 31.95,344.06 32.04,343.74 32.13,343.76 32.22,344.04 32.31,344.04 32.4,344.06 32.49,343.99 32.58,343.74 32.67,343.95 32.76,343.8 32.85,343.81 32.94,343.65 33.03,343.87 33.12,343.96 33.21,343.84 33.3,343.91 33.39,344.02 33.48,343.72 33.57,343.95 33.66,344.11 33.75,343.78 33.84,343.8 33.93,344.01 34.02,343.86 34.11,344 34.2,343.98 34.29,344.06 34.38,344.22 34.47,343.91 34.56,344.31 34.65,344.33 34.74,344.18 34.83,344.3 34.92,344.06 35.01,344.06 35.1,344.31 35.19,344.42 35.28,344.24 35.37,344.33 35.46,344.09 35.55,344.35 35.64,344.26 35.73,344.12 35.82,344.15 35.91,344.46 36,344.34 36.09,344.3 36.19,344.2 36.28,344.15 36.37,344.13 36.46,344.24 36.55,344.14 36.64,344.1 36.73,344.39 36.82,344.02 36.91,344.27 37,344.37 37.09,344.25 37.18,344.08 37.27,344.16 37.36,344.05 37.45,343.95 37.54,344.12 37.63,344.14 37.72,343.9 37.81,344.15 37.9,343.79 37.99,343.81 38.08,343.99 38.17,343.91 38.26,343.8 38.35,343.72 38.44,343.67 38.53,343.86 38.62,343.88 38.71,344.02 38.8,343.64 38.89,343.93 38.98,343.95 39.07,343.68 39.16,343.74 39.25,343.86 39.34,343.8 39.43,343.69 39.52,343.9 39.61,344.08 39.7,343.71 39.79,343.74 39.88,343.78 39.97,344.09 40.06,344.07 40.15,344.19 40.24,344 40.33,343.88 40.42,344.06 40.51,344.26 40.6,344.27 40.69,344.03 40.78,344.27 40.87,344.07 40.96,344.17 41.05,344.27 41.14,344.26 41.23,344.12 41.32,344.08 41.41,344.42 41.5,344.18 41.59,344.25 41.68,344.41 41.77,344.43 41.86,344.43 41.95,344.13 42.04,344.22 42.13,344.51 42.22,344.34 42.31,344.2 42.4,344.41 42.49,344.3 42.58,344.33 42.67,344.24 42.76,344.39 42.85,344.14 42.94,344.35 43.03,344.17 43.12,344.29 43.21,344.09 43.3,344.28 43.39,344.19 43.48,343.95 43.57,344.2 43.66,344.14 43.75,343.95 43.84,343.94 43.93,344.13 44.02,343.92 44.12,343.75 44.21,344.06 44.3,343.94 44.39,344.06 44.48,343.8 44.57,344.02 44.66,343.89 44.75,343.97 44.84,343.73 44.93,343.97 45.02,343.93 45.11,343.77 45.2,344.02 45.29,343.84 45.38,344 45.47,344.01 45.56,343.69 45.65,344.07 45.74,344.02 45.83,344 45.92,343.87 46.01,344.1 46.1,344.15 46.19,344.11 46.28,344 46.37,343.87 46.46,344.05 46.55,344.3 46.64,344.18 46.73,344.13 46.82,344.05 46.91,343.99 47,344.36 47.09,344.1 47.18,344.16 47.27,344.2 47.36,344.25 47.45,344.22 47.54,344.37 47.63,344.48 47.72,344.41 47.81,344.51 47.9,344.2 47.99,344.41 48.08,344.14 48.17,344.28 48.26,344.22 48.35,344.29 48.44,344.13 48.53,344.16 48.62,344.41 48.71,344.16 48.8,344.09 48.89,344.12 48.98,344.05 49.07,344.09 49.16,344.16 49.25,344.3 49.34,344.21 49.43,343.99 49.52,344.14 49.61,343.93 49.7,343.88 49.79,343.79 49.88,343.81 49.97,343.76 50.06,344.04 50.15,344.08 50.24,343.76 50.33,343.96 50.42,343.71 50.51,343.77 50.6,343.66 50.69,343.97 50.78,343.93 50.87,343.77 50.96,344.04 51.05,343.77 51.14,343.82 51.23,343.86 51.32,344.03 51.41,343.77 51.5,344.06 51.59,343.81 51.68,343.78 51.77,344.02 51.86,343.79 51.95,344.07 52.05,344.03 52.14,343.88 52.23,343.87 52.32,343.87 52.41,343.96 52.5,344.28 52.59,343.97 52.68,343.99 52.77,343.99 52.86,344.24 52.95,344.34 53.04,344.09 53.13,344.32 53.22,344.28 53.31,344.1 53.4,344.41 53.49,344.38 53.58,344.36 53.67,344.18 53.76,344.13 53.85,344.45 53.94,344.4 54.03,344.2 54.12,344.43 54.21,344.27 54.3,344.32 54.39,344.15 54.48,344.37 54.57,344.26 54.66,344.22 54.75,344.42 54.84,344.39 54.93,344.32 55.02,344.37 55.11,344.21 55.2,344.11 55.29,344.12 55.38,344.04 55.47,344.04 55.56,343.96 55.65,343.88 55.74,344.2 55.83,344.16 55.92,344.16 56.01,343.92 56.1,344.07 56.19,343.91 56.28,343.99 56.37,343.91 56.46,343.89 56.55,343.82 56.64,344.05 56.73,343.84 56.82,343.92 56.91,343.82 57,343.88 57.09,344.04 57.18,343.87 57.27,343.83 57.36,343.71 57.45,343.88 57.54,343.97 57.63,344.09 57.72,344.05 57.81,343.75 57.9,343.93 57.99,343.8 58.08,344.15 58.17,344.15 58.26,343.87 58.35,344.24 58.44,344.08 58.53,344.03 58.62,344.11 58.71,344.07 58.8,344.35 58.89,344.16 58.98,344.19 59.07,344.11 59.16,344.24 59.25,344.32 59.34,344.29 59.43,344.41 59.52,344.18 59.61,344.28 59.7,344.4 59.79,344.23 59.88,344.39 59.98,344.31 60.07,344.11 60.16,344.13 60.25,344.32 60.34,344.39 60.43,344.19 60.52,344.08 60.61,344.11 60.7,344.21 60.79,344.13 60.88,344.01 60.97,344.28 61.06,344.34 61.15,344.05 61.24,343.96 61.33,344.08 61.42,344.17 61.51,344.11 61.6,344.24 61.69,343.92 61.78,343.8 61.87,344.12 61.96,343.92 62.05,343.97 62.14,343.87 62.23,343.71 62.32,343.76 62.41,343.83 62.5,344.05 62.59,343.92 62.68,343.92 62.77,343.75 62.86,343.99 62.95,343.95 63.04,344 63.13,343.77 63.22,344.05 63.31,343.9 63.4,343.92 63.49,343.71 63.58,344.07 63.67,343.8 63.76,343.94 63.85,344.01 63.94,344.14 64.03,344.02 64.12,343.8 64.21,343.91 64.3,344.18 64.39,344.21 64.48,344.06 64.57,344.04 64.66,343.95 64.75,343.96 64.84,344.02 64.93,344.34 65.02,344.23 65.11,344.34 65.2,344.2 65.29,344.36 65.38,344.3 65.47,344.12 65.56,344.39 65.65,344.15 65.74,344.26 65.83,344.41 65.92,344.24 66.01,344.25 66.1,344.36 66.19,344.17 66.28,344.2 66.37,344.25 66.46,344.21 66.55,344.14 66.64,344.23 66.73,344.15 66.82,344.23 66.91,344.23 67,344.24 67.09,344.22 67.18,344.01 67.27,344.18 67.36,344.08 67.45,344.13 67.54,344.02 67.63,344.19 67.72,344.2 67.81,344.05 67.9,344.07 68,343.81 68.09,343.82 68.18,343.77 68.27,343.91 68.36,343.82 68.45,343.77 68.54,343.94 68.63,344.01 68.72,343.66 68.81,343.67 68.9,344.02 68.99,343.97 69.08,343.7 69.17,343.78 69.26,343.73 69.35,343.86 69.44,343.98 69.53,344.01 69.62,343.72 69.71,343.89 69.8,343.91 69.89,343.89 69.98,343.88 70.07,344.07 70.16,344.17 70.25,343.85 70.34,344.17 70.43,343.97 70.52,344.11 70.61,344.18 70.7,343.96 70.79,344.06 70.88,344.06 70.97,344.28 71.06,344.12 71.15,344.29 71.24,344.14 71.33,344.11 71.42,344.44 71.51,344.16 71.6,344.36 71.69,344.49 71.78,344.23 71.87,344.19 71.96,344.42 72.05,344.24 72.14,344.25 72.23,344.28 72.32,344.14 72.41,344.19 72.5,344.26 72.59,344.07 72.68,344.44 72.77,344.18 72.86,344.15 72.95,344.13 73.04,344.07 73.13,344.16 73.22,344.29 73.31,344.06 73.4,344.27 73.49,343.93 73.58,343.96 73.67,344.19 73.76,343.92 73.85,344.1 73.94,343.85 74.03,344.13 74.12,344.12 74.21,343.96 74.3,343.93 74.39,343.92 74.48,344.07 74.57,344.06 74.66,343.87 74.75,343.77 74.84,343.65 74.93,343.72 75.02,343.91 75.11,343.85 75.2,343.75 75.29,343.92 75.38,343.82 75.47,343.91 75.56,343.79 75.65,343.95 75.74,344.07 75.83,343.95 75.93,343.97 76.02,343.94 76.11,344.07 76.2,344.08 76.29,343.91 76.38,343.94 76.47,344.26 76.56,344.1 76.65,344.01 76.74,344.32 76.83,344.18 76.92,344.31 77.01,344.18 77.1,344.26 77.19,344.18 77.28,344.2 77.37,344.44 77.46,344.33 77.55,344.47 77.64,344.11 77.73,344.49 77.82,344.44 77.91,344.47 78,344.46 78.09,344.29 78.18,344.41 78.27,344.21 78.36,344.1 78.45,344.15 78.54,344.35 78.63,344.36 78.72,344.39 78.81,344.14 78.9,344.38 78.99,344 79.08,344.05 79.17,344.06 79.26,343.95 79.35,344.31 79.44,344.23 79.53,344.07 79.62,343.98 79.71,344.18 79.8,343.99 79.89,344.16 79.98,344.01 80.07,344.09 80.16,343.81 80.25,343.8 80.34,343.76 80.43,343.92 80.52,344.01 80.61,343.75 80.7,343.88 80.79,344 80.88,344.04 80.97,343.92 81.06,343.79 81.15,343.85 81.24,343.89 81.33,344.05 81.42,343.85 81.51,343.67 81.6,344.02 81.69,343.79 81.78,344.09 81.87,343.83 81.96,343.98 82.05,343.88 82.14,343.93 82.23,344.08 82.32,343.9 82.41,344.07 82.5,343.88 82.59,343.99 82.68,344.32 82.77,344.04 82.86,344.13 82.95,344.02 83.04,344.17 83.13,344.18 83.22,344.2 83.31,344.37 83.4,344.28 83.49,344.13 83.58,344.43 83.67,344.35 83.76,344.19 83.86,344.16 83.95,344.45 84.04,344.41 84.13,344.21 84.22,344.2 84.31,344.39 84.4,344.44 84.49,344.45 84.58,344.1 84.67,344.07 84.76,344.44 84.85,344.27 84.94,344.3 85.03,344.22 85.12,344.15 85.21,344.16 85.3,344.1 85.39,344.09 85.48,344.07 85.57,343.9 85.66,344.13 85.75,344.14 85.84,343.85 85.93,343.98 86.02,344.12 86.11,343.84 86.2,343.89 86.29,343.81 86.38,343.98 86.47,343.72 86.56,343.99 86.65,343.73 86.74,343.93 86.83,343.69 86.92,343.71 87.01,343.72 87.1,343.76 87.19,343.73 87.28,343.73 87.37,343.76 87.46,344.03 87.55,343.93 87.64,343.74 87.73,344.1 87.82,344.05 87.91,343.8 88,343.8 88.09,343.86 88.18,343.93 88.27,343.99 88.36,344.14 88.45,344.12 88.54,344.18 88.63,344.13 88.72,344.09 88.81,344.16 88.9,343.97 88.99,344.05 89.08,344.18 89.17,344.38 89.26,344.34 89.35,344.42 89.44,344.4 89.53,344.34 89.62,344.44 89.71,344.43 89.8,344.11 89.89,344.32 89.98,344.46 90.07,344.17 90.16,344.32 90.25,344.13 90.34,344.23 90.43,344.23 90.52,344.15 90.61,344.44 90.7,344.24 90.79,344.11 90.88,344.41 90.97,344.12 91.06,344.18 91.15,344.28 91.24,344.26 91.33,343.92 91.42,343.93 91.51,343.91 91.6,344.22 91.69,343.95 91.79,344 91.88,344.16 91.97,343.85 92.06,344.1 92.15,343.81 92.24,344.05 92.33,343.72 92.42,343.8 92.51,343.88 92.6,343.9 92.69,343.83 92.78,344.02 92.87,343.69 92.96,343.72 93.05,343.7 93.14,343.67 93.23,343.78 93.32,343.81 93.41,343.75 93.5,343.92 93.59,343.72 93.68,344 93.77,343.86 93.86,343.91 93.95,343.82 94.04,343.8 94.13,344.05 94.22,344.01 94.31,344.07 94.4,344.12 94.49,343.89 94.58,344.03 94.67,344.01 94.76,344.27 94.85,344.01 94.94,344.05 95.03,344.31 95.12,344.32 95.21,344.21 95.3,344.2 95.39,344.33 95.48,344.11 95.57,344.16 95.66,344.33 95.75,344.47 95.84,344.42 95.93,344.41 96.02,344.26 96.11,344.28 96.2,344.11 96.29,344.28 96.38,344.34 96.47,344.28 96.56,344.16 96.65,344.17 96.74,344.1 96.83,344.28 96.92,344.18 97.01,344.08 97.1,344.34 97.19,344.17 97.28,344.07 97.37,343.98 97.46,343.9 97.55,344.24 97.64,343.86 97.73,344.21 97.82,343.9 97.91,344.16 98,344.13 98.09,344 98.18,343.79 98.27,343.98 98.36,344.09 98.45,343.88 98.54,343.91 98.63,344.02 98.72,344.05 98.81,343.75 98.9,343.91 98.99,343.92 99.08,343.86 99.17,344 99.26,343.75 99.35,343.82 99.44,343.98 99.53,343.82 99.62,343.91 99.71,343.95 99.81,343.92 99.9,343.79 99.99,344.14 100.08,344.16 100.17,344.06 100.26,344.11 100.35,344.05 100.44,343.96 100.53,344.08 100.62,344.16 100.71,344.07 100.8,344.05 100.89,343.98 100.98,344.12 101.07,344.03 101.16,344.41 101.25,344.13 101.34,344.4 101.43,344.37 101.52,344.08 101.61,344.11 101.7,344.36 101.79,344.18 101.88,344.32 101.97,344.45 102.06,344.48 102.15,344.36 102.24,344.39 102.33,344.27 102.42,344.24 102.51,344.09 102.6,344.29 102.69,344.16 102.78,344.14 102.87,344.29 102.96,344.39 103.05,344.14 103.14,344.02 103.23,344.19 103.32,344.26 103.41,344.26 103.5,344.17 103.59,343.86 103.68,343.89 103.77,343.84 103.86,344.11 103.95,344.03 104.04,343.88 104.13,344.07 104.22,344.08 104.31,344.07 104.4,343.9 104.49,343.84 104.58,343.95 104.67,343.74 104.76,343.84 104.85,343.9 104.94,343.95 105.03,343.75 105.12,343.88 105.21,343.7 105.3,343.66 105.39,343.79 105.48,343.76 105.57,343.9 105.66,343.76 105.75,343.98 105.84,344.06 105.93,343.86 106.02,343.88 106.11,344.04 106.2,343.92 106.29,343.85 106.38,344.12 106.47,343.97 106.56,344.09 106.65,344.17 106.74,343.94 106.83,344.09 106.92,344.36 107.01,344.09 107.1,344.08 107.19,344.23 107.28,344.42 107.37,344.15 107.46,344.31 107.55,344.16 107.64,344.33 107.74,344.33 107.83,344.21 107.92,344.41 108.01,344.16 108.1,344.41 108.19,344.16 108.28,344.19 108.37,344.39 108.46,344.2 108.55,344.24 108.64,344.32 108.73,344.24 108.82,344.38 108.91,344.42 109,344.01 109.09,344.1 109.18,344.05 109.27,344.2 109.36,344.32 109.45,344.29 109.54,344.16 109.63,344.16 109.72,344.03 109.81,344.1 109.9,343.82 109.99,344.02 110.08,344.02 110.17,343.99 110.26,344.02 110.35,344.05 110.44,343.82 110.53,343.94 110.62,343.9 110.71,343.69 110.8,343.74 110.89,343.67 110.98,343.78 111.07,343.73 111.16,343.74 111.25,343.86 111.34,343.7 111.43,343.92 111.52,343.95 111.61,343.86 111.7,343.85 111.79,343.86 111.88,343.88 111.97,344.12 112.06,343.83 112.15,343.87 112.24,343.82 112.33,344.11 112.42,344.15 112.51,343.96 112.6,344.24 112.69,344.17 112.78,343.94 112.87,344.21 112.96,344.17 113.05,344.22 113.14,344.11 113.23,344.16 113.32,344.3 113.41,344.17 113.5,344.25 113.59,344.34 113.68,344.35 113.77,344.32 113.86,344.33 113.95,344.51 114.04,344.51 114.13,344.44 114.22,344.23 114.31,344.11 114.4,344.5 114.49,344.49 114.58,344.26 114.67,344.13 114.76,344.1 114.85,344.38 114.94,344.29 115.03,344.13 115.12,344.04 115.21,344.01 115.3,344.2 115.39,344.04 115.48,344.05 115.57,344.18 115.67,343.95 115.76,344.17 115.85,343.92 115.94,344.03 116.03,343.85 116.12,343.82 116.21,344.07 116.3,343.89 116.39,343.73 116.48,343.82 116.57,343.89 116.66,343.99 116.75,343.98 116.84,343.83 116.93,343.72 117.02,343.71 117.11,343.71 117.2,343.79 117.29,343.66 117.38,343.83 117.47,343.85 117.56,343.69 117.65,343.76 117.74,343.77 117.83,343.96 117.92,343.91 118.01,344.11 118.1,343.84 118.19,344.08 118.28,343.95 118.37,344.22 118.46,344.11 118.55,344.22 118.64,344.15 118.73,344.07 118.82,344.13 118.91,344.35 119,344.18 119.09,344.4 119.18,344.25 119.27,344.12 119.36,344.22 119.45,344.32 119.54,344.22 119.63,344.26 119.72,344.34 119.81,344.35 119.9,344.24 119.99,344.26 120.08,344.25 120.17,344.46 120.26,344.13 120.35,344.15 120.44,344.43 120.53,344.18 120.62,344.33 120.71,344.13 120.8,344.24 120.89,344.17 120.98,344.17 121.07,344.13 121.16,344.12 121.25,344.09 121.34,344.14 121.43,344.1 121.52,344.23 121.61,344.01 121.7,344.09 121.79,344.2 121.88,343.88 121.97,343.91 122.06,344.01 122.15,343.87 122.24,343.72 122.33,344.05 122.42,343.79 122.51,343.67 122.6,344.02 122.69,343.97 122.78,343.92 122.87,343.65 122.96,344.04 123.05,343.82 123.14,343.94 123.23,343.99 123.32,344.05 123.41,343.9 123.5,343.94 123.6,343.93 123.69,343.77 123.78,343.93 123.87,343.97 123.96,343.92 124.05,343.96 124.14,343.89 124.23,343.95 124.32,344.05 124.41,343.84 124.5,343.87 124.59,344.02 124.68,343.97 124.77,344.26 124.86,343.97 124.95,344.02 125.04,344.18 125.13,344.31 125.22,344.21 125.31,344.14 125.4,344.25 125.49,344.25 125.58,344.33 125.67,344.24 125.76,344.18 125.85,344.18 125.94,344.43 126.03,344.17 126.12,344.25 126.21,344.38 126.3,344.16 126.39,344.42 126.48,344.44 126.57,344.18 126.66,344.07 126.75,344.33 126.84,344.24 126.93,344.29 127.02,344.16 127.11,344.04 127.2,344.01 127.29,344.07 127.38,344.04 127.47,344.17 127.56,344.11 127.65,344.24 127.74,344.17 127.83,344.13 127.92,343.94 128.01,343.92 128.1,344.14 128.19,344.03 128.28,343.83 128.37,343.76 128.46,343.81 128.55,343.86 128.64,344.05 128.73,343.86 128.82,343.64 128.91,343.98 129,343.95 129.09,343.71 129.18,343.72 129.27,343.72 129.36,343.88 129.45,344.05 129.54,343.75 129.63,343.71 129.72,343.87 129.81,343.95 129.9,344.07 129.99,344.03 130.08,343.95 130.17,343.87 130.26,344.16 130.35,344.03 130.44,344.24 130.53,344.05 130.62,344.09 130.71,344.12 130.8,344.23 130.89,344.3 130.98,344.02 131.07,344.01 131.16,344.19 131.25,344.05 131.34,344.29 131.43,344.31 131.52,344.33 131.62,344.46 131.71,344.36 131.8,344.34 131.89,344.23 131.98,344.39 132.07,344.36 132.16,344.21 132.25,344.31 132.34,344.26 132.43,344.33 132.52,344.41 132.61,344.32 132.7,344.24 132.79,344.1 132.88,344.29 132.97,344.37 133.06,344.39 133.15,343.98 133.24,344.11 133.33,344 133.42,343.99 133.51,344.07 133.6,344.19 133.69,344.06 133.78,344.19 133.87,343.98 133.96,343.81 134.05,344 134.14,343.95 134.23,344.02 134.32,343.78 134.41,343.73 134.5,343.85 134.59,343.9 134.68,344 134.77,343.8 134.86,343.98 134.95,343.93 135.04,343.9 135.13,343.94 135.22,343.76 135.31,343.8 135.4,343.71 135.49,343.75 135.58,343.75 135.67,343.99 135.76,343.86 135.85,343.77 135.94,343.89 136.03,344.04 136.12,343.88 136.21,344.04 136.3,343.95 136.39,343.89 136.48,344.04 136.57,344.09 136.66,344.11 136.75,344.06 136.84,343.97 136.93,344.16 137.02,344.13 137.11,344.13 137.2,344.1 137.29,344.4 137.38,344.23 137.47,344.42 137.56,344.47 137.65,344.43 137.74,344.1 137.83,344.26 137.92,344.2 138.01,344.28 138.1,344.26 138.19,344.37 138.28,344.24 138.37,344.39 138.46,344.28 138.55,344.28 138.64,344.26 138.73,344.41 138.82,344.24 138.91,344.32 139,344.41 139.09,344.09 139.18,344.33 139.27,343.97 139.36,344.13 139.45,344.16 139.55,344.28 139.64,344.26 139.73,343.97 139.82,343.94 139.91,344.06 140,343.83 140.09,344.04 140.18,343.93 140.27,344.07 140.36,343.96 140.45,343.8 140.54,343.9 140.63,343.96 140.72,343.85 140.81,343.71 140.9,343.81 140.99,343.93 141.08,343.68 141.17,344 141.26,343.74 141.35,343.87 141.44,343.84 141.53,343.96 141.62,343.97 141.71,344.03 141.8,343.88 141.89,343.83 141.98,344.13 142.07,344.04 142.16,343.98 142.25,343.8 142.34,344.01 142.43,344.02 142.52,344.04 142.61,344.22 142.7,344.09 142.79,344.26 142.88,344.03 142.97,344.05 143.06,344.08 143.15,344.32 143.24,344.25 143.33,344.41 143.42,344.22 143.51,344.39 143.6,344.15 143.69,344.28 143.78,344.41 143.87,344.28 143.96,344.35 144.05,344.25 144.14,344.16 144.23,344.51 144.32,344.4 144.41,344.15 144.5,344.45 144.59,344.25 144.68,344.08 144.77,344.37 144.86,344.08 144.95,344.32 145.04,344.18 145.13,344.12 145.22,344.34 145.31,344 145.4,343.99 145.49,344.3 145.58,344.09 145.67,343.88 145.76,344.1 145.85,344.04 145.94,344.06 146.03,344.15 146.12,344.12 146.21,343.86 146.3,344.01 146.39,343.72 146.48,343.72 146.57,343.78 146.66,343.86 146.75,343.75 146.84,344.05 146.93,343.66 147.02,343.65 147.11,343.8 147.2,343.81 147.29,343.74 147.38,344.05 147.48,343.78 147.57,343.92 147.66,344.08 147.75,343.92 147.84,343.73 147.93,343.89 148.02,344.04 148.11,343.96 148.2,343.85 148.29,344.14 148.38,343.83 148.47,344.18 148.56,344.22 148.65,344.28 148.74,343.95 148.83,344.08 148.92,344.09 149.01,344.21 149.1,344.36 149.19,344.27 149.28,344.37 149.37,344.22 149.46,344.2 149.55,344.26 149.64,344.34 149.73,344.39 149.82,344.23 149.91,344.44 150,344.14 150.09,344.31 150.18,344.3 150.27,344.17 150.36,344.46 150.45,344.13 150.54,344.13 150.63,344.33 150.72,344.4 150.81,344.13 150.9,344.42 150.99,344.12 151.08,344.11 151.17,344.33 151.26,344.36 151.35,344.3 151.44,344.03 151.53,344.12 151.62,343.88 151.71,344.2 151.8,343.84 151.89,343.82 151.98,344.06 152.07,344.14 152.16,343.81 152.25,343.87 152.34,343.82 152.43,344.03 152.52,344.06 152.61,343.96 152.7,343.71 152.79,344.05 152.88,343.72 152.97,343.97 153.06,343.92 153.15,343.81 153.24,343.68 153.33,343.82 153.42,343.83 153.51,343.75 153.6,343.79 153.69,343.74 153.78,343.97 153.87,343.73 153.96,343.74 154.05,343.85 154.14,344.15 154.23,344.03 154.32,343.89 154.41,344.14 154.5,344.06 154.59,344.14 154.68,344.23 154.77,344.09 154.86,344.19 154.95,344.03 155.04,344.35 155.13,344.04 155.22,344.27 155.31,344.14 155.4,344.37 155.5,344.44 155.59,344.46 155.68,344.39 155.77,344.41 155.86,344.25 155.95,344.26 156.04,344.15 156.13,344.27 156.22,344.29 156.31,344.41 156.4,344.49 156.49,344.25 156.58,344.42 156.67,344.07 156.76,344.19 156.85,344.44 156.94,344.26 157.03,344.38 157.12,344.4 157.21,344.22 157.3,343.98 157.39,344.28 157.48,343.91 157.57,344.11 157.66,344.15 157.75,343.87 157.84,344.1 157.93,344.14 158.02,343.81 158.11,343.79 158.2,343.83 158.29,343.81 158.38,343.92 158.47,343.75 158.56,343.92 158.65,343.88 158.74,344 158.83,343.84 158.92,343.76 159.01,343.94 159.1,343.99 159.19,344.01 159.28,343.85 159.37,344.01 159.46,343.89 159.55,343.82 159.64,344.05 159.73,343.77 159.82,344.06 159.91,344.07 160,343.87 160.09,343.77 160.18,344.13 160.27,343.91 160.36,344.02 160.45,344.16 160.54,344.03 160.63,344.11 160.72,344.15 160.81,343.97 160.9,344.12 160.99,344.04 161.08,344.37 161.17,344.03 161.26,344.34 161.35,344.24 161.44,344.43 161.53,344.39 161.62,344.29 161.71,344.19 161.8,344.19 161.89,344.32 161.98,344.41 162.07,344.27 162.16,344.37 162.25,344.45 162.34,344.2 162.43,344.18 162.52,344.43 162.61,344.47 162.7,344.17 162.79,344.13 162.88,344.42 162.97,344.27 163.06,344.13 163.15,344.26 163.24,344.05 163.33,344.33 163.43,344.1 163.52,344.22 163.61,343.99 163.7,344.26 163.79,343.95 163.88,344.03 163.97,343.91 164.06,344.13 164.15,343.82 164.24,343.87 164.33,344.11 164.42,343.75 164.51,344.02 164.6,343.92 164.69,343.92 164.78,343.74 164.87,343.74 164.96,344.01 165.05,343.7 165.14,343.98 165.23,343.75 165.32,344 165.41,343.89 165.5,344.02 165.59,343.8 165.68,343.92 165.77,343.86 165.86,343.7 165.95,343.79 166.04,344.06 166.13,343.98 166.22,343.95 166.31,344.06 166.4,344.2 166.49,344.1 166.58,344.15 166.67,344.21 166.76,344.25 166.85,344.29 166.94,344.01 167.03,344.19 167.12,344.1 167.21,344.1 167.3,344.09 167.39,344.21 167.48,344.12 167.57,344.42 167.66,344.41 167.75,344.24 167.84,344.35 167.93,344.43 168.02,344.36 168.11,344.36 168.2,344.15 168.29,344.34 168.38,344.15 168.47,344.42 168.56,344.14 168.65,344.15 168.74,344.4 168.83,344.14 168.92,344.12 169.01,344.1 169.1,344.04 169.19,344.2 169.28,344.17 169.37,344.24 169.46,344.12 169.55,343.92 169.64,344.02 169.73,343.93 169.82,343.88 169.91,343.96 170,343.97 170.09,344.08 170.18,343.91 170.27,343.88 170.36,344.1 170.45,344.1 170.54,343.69 170.63,344.05 170.72,343.73 170.81,343.8 170.9,343.71 170.99,343.82 171.08,343.82 171.17,343.95 171.26,343.8 171.36,343.68 171.45,343.96 171.54,343.69 171.63,343.97 171.72,343.82 171.81,343.73 171.9,343.78 171.99,344 172.08,343.92 172.17,343.84 172.26,343.79 172.35,343.91 172.44,343.85 172.53,344.04 172.62,344.02 172.71,344.19 172.8,344.16 172.89,344.2 172.98,343.97 173.07,343.99 173.16,344.02 173.25,344.25 173.34,344.05 173.43,344.19 173.52,344.39 173.61,344.29 173.7,344.45 173.79,344.28 173.88,344.12 173.97,344.34 174.06,344.36 174.15,344.49 174.24,344.32 174.33,344.24 174.42,344.13 174.51,344.36 174.6,344.39 174.69,344.1 174.78,344.43 174.87,344.3 174.96,344.24 175.05,344.03 175.14,344.15 175.23,344.02 175.32,343.99 175.41,344.03 175.5,343.99 175.59,344.21 175.68,343.94 175.77,343.92 175.86,344.1 175.95,344.12 176.04,344.08 176.13,343.82 176.22,343.86 176.31,343.93 176.4,344.08 176.49,343.73 176.58,344.08 176.67,343.99 176.76,343.69 176.85,343.84 176.94,343.91 177.03,343.84 177.12,343.79 177.21,343.76 177.3,343.82 177.39,344.03 177.48,343.99 177.57,343.96 177.66,343.89 177.75,343.85 177.84,343.78 177.93,344.03 178.02,344.09 178.11,343.81 178.2,343.93 178.29,344.04 178.38,344.18 178.47,344.16 178.56,343.93 178.65,344.07 178.74,344.3 178.83,344.12 178.92,344.17 179.01,344.06 179.1,344.35 179.19,344.25 179.29,344.05 179.38,344.15 179.47,344.19 179.56,344.31 179.65,344.38 179.74,344.46 179.83,344.38 179.92,344.36 180.01,344.34 180.1,344.17 180.19,344.34 180.28,344.25 180.37,344.44 180.46,344.36 180.55,344.12 180.64,344.42 180.73,344.43 180.82,344.43 180.91,344.45 181,344.37 181.09,344.38 181.18,344.33 181.27,344.21 181.36,344.07 181.45,344 181.54,344.08 181.63,344.25 181.72,343.93 181.81,343.97 181.9,343.88 181.99,343.89 182.08,344.1 182.17,343.77 182.26,343.82 182.35,343.99 182.44,343.79 182.53,343.92 182.62,344.04 182.71,343.81 182.8,343.65 182.89,343.78 182.98,343.67 183.07,343.96 183.16,343.84 183.25,343.92 183.34,343.66 183.43,343.99 183.52,344.05 183.61,343.85 183.7,343.91 183.79,344.01 183.88,343.73 183.97,344 184.06,344.04 184.15,343.88 184.24,343.78 184.33,344.03 184.42,343.91 184.51,344.22 184.6,343.92 184.69,344.07 184.78,344.05 184.87,344.14 184.96,344.35 185.05,344.22 185.14,344.33 185.23,344.34 185.32,344.09 185.41,344.31 185.5,344.13 185.59,344.17 185.68,344.2 185.77,344.3 185.86,344.48 185.95,344.18 186.04,344.5 186.13,344.36 186.22,344.16 186.31,344.21 186.4,344.27 186.49,344.25 186.58,344.11 186.67,344.17 186.76,344.25 186.85,344.31 186.94,344.4 187.03,344.09 187.12,344.08 187.21,344.12 187.31,344 187.4,344.33 187.49,344.28 187.58,344.06 187.67,343.87 187.76,343.88 187.85,343.97 187.94,344.17 188.03,343.97 188.12,343.92 188.21,343.83 188.3,343.73 188.39,343.8 188.48,343.89 188.57,343.78 188.66,343.93 188.75,343.88 188.84,343.84 188.93,343.9 189.02,343.65 189.11,343.93 189.2,343.78 189.29,343.95 189.38,343.64 189.47,343.91 189.56,343.82 189.65,343.69 189.74,343.8 189.83,343.86 189.92,344.08 190.01,343.96 190.1,343.97 190.19,343.88 190.28,343.99 190.37,344.1 190.46,344.01 190.55,344.1 190.64,343.94 190.73,344.1 190.82,344.13 190.91,344.05 191,344.14 191.09,344.2 191.18,344.37 191.27,344.23 191.36,344.08 191.45,344.06 191.54,344.12 191.63,344.44 191.72,344.13 191.81,344.3 191.9,344.23 191.99,344.26 192.08,344.31 192.17,344.43 192.26,344.37 192.35,344.37 192.44,344.2 192.53,344.44 192.62,344.46 192.71,344.13 192.8,344.2 192.89,344.22 192.98,344.38 193.07,344.37 193.16,344.13 193.25,344.32 193.34,344.01 193.43,344.27 193.52,344.06 193.61,344.2 193.7,344.15 193.79,344.12 193.88,344.22 193.97,344.04 194.06,343.83 194.15,343.96 194.24,344.07 194.33,343.92 194.42,343.73 194.51,343.91 194.6,343.89 194.69,343.76 194.78,344.03 194.87,343.93 194.96,343.89 195.05,343.92 195.14,343.82 195.24,343.73 195.33,343.88 195.42,343.73 195.51,343.88 195.6,343.7 195.69,343.94 195.78,343.91 195.87,343.82 195.96,344.11 196.05,343.77 196.14,343.97 196.23,344.02 196.32,344.14 196.41,344.17 196.5,344.04 196.59,343.92 196.68,344.03 196.77,343.93 196.86,343.92 196.95,344.14 197.04,344.29 197.13,344 197.22,344.32 197.31,344.2 197.4,344.36 197.49,344.1 197.58,344.16 197.67,344.27 197.76,344.14 197.85,344.22 197.94,344.25 198.03,344.24 198.12,344.15 198.21,344.35 198.3,344.23 198.39,344.37 198.48,344.23 198.57,344.28 198.66,344.18 198.75,344.25 198.84,344.26 198.93,344.41 199.02,344.41 199.11,344.06 199.2,344.21 199.29,343.98 199.38,344.17 199.47,344.29 199.56,344.01 199.65,344.16 199.74,344.01 199.83,344.23 199.92,343.86 200.01,344.13 200.1,344.03 200.19,343.99 200.28,343.92 200.37,343.74 200.46,343.75 200.55,343.94 200.64,343.93 200.73,343.77 200.82,343.92 200.91,343.96 201,343.66 201.09,343.74 201.18,343.88 201.27,343.96 201.36,343.84 201.45,343.88 201.54,343.94 201.63,343.83 201.72,344.01 201.81,343.98 201.9,343.88 201.99,343.96 202.08,343.97 202.17,343.89 202.26,344.15 202.35,343.89 202.44,343.83 202.53,343.87 202.62,343.9 202.71,344.27 202.8,344.18 202.89,344.29 202.98,344.31 203.07,344.3 203.17,344.37 203.26,344.03 203.35,344.19 203.44,344.32 203.53,344.36 203.62,344.47 203.71,344.47 203.8,344.23 203.89,344.31 203.98,344.38 204.07,344.33 204.16,344.37 204.25,344.23 204.34,344.29 204.43,344.34 204.52,344.5 204.61,344.27 204.7,344.13 204.79,344.37 204.88,344.32 204.97,344.14 205.06,344.36 205.15,344.17 205.24,344.14 205.33,344.05 205.42,343.98 205.51,343.98 205.6,344.23 205.69,343.97 205.78,344.02 205.87,344.07 205.96,344.2 206.05,343.95 206.14,344 206.23,343.87 206.32,343.9 206.41,344.06 206.5,343.82 206.59,344.03 206.68,344.02 206.77,343.79 206.86,343.69 206.95,343.76 207.04,343.66 207.13,343.98 207.22,344.01 207.31,343.85 207.4,343.94 207.49,343.94 207.58,343.98 207.67,343.95 207.76,343.78 207.85,343.93 207.94,343.91 208.03,344.06 208.12,343.89 208.21,343.88 208.3,344.04 208.39,343.98 208.48,344.12 208.57,344.21 208.66,344.2 208.75,344.29 208.84,343.95 208.93,343.95 209.02,344.29 209.11,344.05 209.2,344.16 209.29,344.11 209.38,344.19 209.47,344.24 209.56,344.32 209.65,344.32 209.74,344.13 209.83,344.38 209.92,344.44 210.01,344.11 210.1,344.4 210.19,344.48 210.28,344.41 210.37,344.19 210.46,344.19 210.55,344.14 210.64,344.13 210.73,344.08 210.82,344.34 210.91,344.36 211,344.05 211.1,344.05 211.19,344.19 211.28,344.26 211.37,344.28 211.46,343.94 211.55,344.06 211.64,344.05 211.73,344.2 211.82,344.18 211.91,344.06 212,343.84 212.09,343.86 212.18,344.06 212.27,344.12 212.36,343.88 212.45,343.81 212.54,343.72 212.63,343.82 212.72,343.97 212.81,343.85 212.9,343.77 212.99,343.97 213.08,343.67 213.17,343.98 213.26,344.04 213.35,343.93 213.44,343.73 213.53,343.82 213.62,343.95 213.71,343.94 213.8,343.88 213.89,343.77 213.98,343.72 214.07,343.85 214.16,344.09 214.25,343.82 214.34,343.86 214.43,343.92 214.52,343.9 214.61,344.25 214.7,344 214.79,344.1 214.88,343.92 214.97,343.96 215.06,344.17 215.15,344.04 215.24,344.11 215.33,344.12 215.42,344.3 215.51,344.16 215.6,344.46 215.69,344.47 215.78,344.4 215.87,344.41 215.96,344.5 216.05,344.15 216.14,344.2 216.23,344.2 216.32,344.18 216.41,344.13 216.5,344.45 216.59,344.3 216.68,344.34 216.77,344.32 216.86,344.19 216.95,344.3 217.04,344.05 217.13,344.36 217.22,344.32 217.31,344.02 217.4,344.25 217.49,344.19 217.58,344.13 217.67,343.99 217.76,343.9 217.85,343.97 217.94,344.13 218.03,343.86 218.12,344.05 218.21,344.13 218.3,344.13 218.39,343.79 218.48,343.89 218.57,344 218.66,344.05 218.75,343.67 218.84,343.74 218.93,343.75 219.02,343.88 219.12,343.96 219.21,343.89 219.3,343.77 219.39,343.79 219.48,344.01 219.57,343.71 219.66,343.83 219.75,343.85 219.84,343.83 219.93,343.88 220.02,343.73 220.11,344.05 220.2,343.87 220.29,343.92 220.38,343.8 220.47,343.94 220.56,344.15 220.65,344.11 220.74,343.92 220.83,344.27 220.92,344.02 221.01,344.14 221.1,344.36 221.19,344.05 221.28,344.33 221.37,344.3 221.46,344.24 221.55,344.33 221.64,344.13 221.73,344.09 221.82,344.12 221.91,344.31 222,344.19 222.09,344.39 222.18,344.32 222.27,344.31 222.36,344.34 222.45,344.43 222.54,344.14 222.63,344.23 222.72,344.34 222.81,344.35 222.9,344.41 222.99,344.25 223.08,344.29 223.17,344.04 223.26,344.34 223.35,344.29 223.44,344.08 223.53,344.21 223.62,344.17 223.71,343.9 223.8,344.17 223.89,344.17 223.98,344.08 224.07,344.04 224.16,343.97 224.25,343.86 224.34,344.08 224.43,344.04 224.52,343.73 224.61,343.81 224.7,344.04 224.79,343.83 224.88,343.72 224.97,343.95 225.06,343.85 225.15,343.72 225.24,343.93 225.33,343.75 225.42,343.88 225.51,343.81 225.6,343.81 225.69,344.04 225.78,343.81 225.87,343.77 225.96,344.03 226.05,344.09 226.14,343.93 226.23,343.96 226.32,344 226.41,343.84 226.5,344.2 226.59,343.99 226.68,343.92 226.77,343.96 226.86,344.02 226.95,344.25 227.05,344.27 227.14,344.21 227.23,344.08 227.32,344.38 227.41,344.41 227.5,344.09 227.59,344.31 227.68,344.23 227.77,344.11 227.86,344.46 227.95,344.34 228.04,344.17 228.13,344.44 228.22,344.15 228.31,344.22 228.4,344.36 228.49,344.18 228.58,344.33 228.67,344.14 228.76,344.08 228.85,344.23 228.94,344.18 229.03,344.36 229.12,344.36 229.21,344.24 229.3,344.27 229.39,344.18 229.48,344.27 229.57,344.05 229.66,344.08 229.75,344.2 229.84,344.22 229.93,343.99 230.02,343.81 230.11,343.8 230.2,343.76 230.29,343.98 230.38,343.76 230.47,344.07 230.56,344.1 230.65,344.04 230.74,344.07 230.83,344.02 230.92,343.86 231.01,343.71 231.1,343.75 231.19,343.83 231.28,344.02 231.37,343.78 231.46,343.79 231.55,343.73 231.64,343.84 231.73,343.94 231.82,343.97 231.91,343.9 232,344 232.09,343.73 232.18,344.11 232.27,343.9 232.36,344.03 232.45,344.04 232.54,344.01 232.63,344.12 232.72,343.98 232.81,344.05 232.9,344.12 232.99,344.16 233.08,344.13 233.17,344.09 233.26,344.33 233.35,344.37 233.44,344.38 233.53,344.3 233.62,344.26 233.71,344.31 233.8,344.18 233.89,344.24 233.98,344.24 234.07,344.3 234.16,344.12 234.25,344.51 234.34,344.32 234.43,344.37 234.52,344.1 234.61,344.37 234.7,344.32 234.79,344.17 234.88,344.29 234.98,344.39 235.07,344.35 235.16,344.21 235.25,344.24 235.34,344.14 235.43,344.26 235.52,343.94 235.61,344.18 235.7,344.14 235.79,344.02 235.88,343.9 235.97,343.87 236.06,343.98 236.15,343.83 236.24,343.89 236.33,344 236.42,343.93 236.51,343.98 236.6,343.77 236.69,343.84 236.78,343.86 236.87,343.92 236.96,343.75 237.05,343.94 237.14,343.92 237.23,344.04 237.32,344 237.41,343.91 237.5,343.92 237.59,343.88 237.68,343.8 237.77,343.97 237.86,344.02 237.95,343.85 238.04,343.83 238.13,343.77 238.22,343.95 238.31,344.15 238.4,344.06 238.49,343.94 238.58,344.08 238.67,344.2 238.76,343.89 238.85,343.96 238.94,344.22 239.03,344.3 239.12,344.17 239.21,344.29 239.3,344.2 239.39,344.13 239.48,344.33 239.57,344.31 239.66,344.22 239.75,344.27 239.84,344.49 239.93,344.37 240.02,344.46 240.11,344.17 240.2,344.33 240.29,344.19 240.38,344.41 240.47,344.49 240.56,344.14 240.65,344.14 240.74,344.25 240.83,344.42 240.92,344.43 241.01,344.17 241.1,344.21 241.19,344.27 241.28,344.16 241.37,344.35 241.46,344.27 241.55,343.93 241.64,344.13 241.73,344.11 241.82,343.86 241.91,344.06 242,344.2 242.09,343.92 242.18,343.97 242.27,344.05 242.36,343.93 242.45,344 242.54,343.82 242.63,343.69 242.72,344.05 242.81,343.76 242.91,343.71 243,343.76 243.09,343.82 243.18,343.93 243.27,343.88 243.36,343.99 243.45,344.02 243.54,343.77 243.63,344.01 243.72,344.05 243.81,343.98 243.9,344.09 243.99,343.86 244.08,343.91 244.17,343.96 244.26,344.13 244.35,343.97 244.44,343.92 244.53,344.09 244.62,344.13 244.71,344.1 244.8,344.18 244.89,344.16 244.98,344.1 245.07,344.34 245.16,344.26 245.25,344.35 245.34,344.32 245.43,344.1 245.52,344.29 245.61,344.28 245.7,344.35 245.79,344.1 245.88,344.15 245.97,344.48 246.06,344.41 246.15,344.34 246.24,344.21 246.33,344.39 246.42,344.44 246.51,344.45 246.6,344.16 246.69,344.33 246.78,344.35 246.87,344.29 246.96,344.05 247.05,344.16 247.14,344.33 247.23,344.33 247.32,344.34 247.41,344 247.5,344.16 247.59,344.04" fill="none" stroke="#1eaaf0" stroke-width="0.6" stroke-opacity="1" stroke-linejoin="round"/>
<polyline points="31.41,340.81 31.48,341.04 31.55,341.1 31.63,341.31 31.7,341.43 31.77,341.53 31.84,341.72 31.91,341.81 31.99,341.9 32.06,342.06 32.13,341.96 32.2,342.01 32.27,342.11 32.35,342.11 32.42,342.24 32.49,342.16 32.56,342.22 32.63,342.13 32.71,342.1 32.78,341.86 32.85,341.75 32.92,341.78 32.99,341.67 33.07,341.54 33.14,341.24 33.21,341.23 33.28,341.06 33.36,340.83 33.43,340.87 33.5,340.63 33.57,340.53 33.64,340.49 33.72,340.31 33.79,340.19 33.86,340.27 33.93,340.23 34,340.13 34.08,340.09 34.15,340.1 34.22,340.1 34.29,340.18 34.36,340.32 34.44,340.41 34.51,340.5 34.58,340.65 34.65,340.69 34.72,340.96 34.8,340.97 34.87,341.23 34.94,341.35 35.01,341.44 35.09,341.48 35.16,341.6 35.23,341.74 35.3,341.9 35.37,341.96 35.45,342.14 35.52,342.09 35.59,342.08 35.66,342.15 35.73,342.17 35.81,342.18 35.88,342.12 35.95,342.07 36.02,341.96 36.09,341.8 36.17,341.8 36.24,341.66 36.31,341.49 36.38,341.46 36.46,341.24 36.53,341.12 36.6,340.93 36.67,340.81 36.74,340.82 36.82,340.64 36.89,340.58 36.96,340.35 37.03,340.27 37.1,340.21 37.18,340.12 37.25,340.07 37.32,340.17 37.39,340.07 37.46,340.17 37.54,340.13 37.61,340.37 37.68,340.43 37.75,340.42 37.82,340.63 37.9,340.64 37.97,340.88 38.04,340.87 38.11,341.07 38.19,341.31 38.26,341.4 38.33,341.49 38.4,341.58 38.47,341.78 38.55,341.81 38.62,341.91 38.69,341.95 38.76,342.11 38.83,342.22 38.91,342.22 38.98,342.11 39.05,342.17 39.12,342.12 39.19,342.12 39.27,341.96 39.34,342.03 39.41,341.74 39.48,341.68 39.55,341.67 39.63,341.44 39.7,341.4 39.77,341.25 39.84,341.05 39.92,340.92 39.99,340.73 40.06,340.63 40.13,340.65 40.2,340.51 40.28,340.45 40.35,340.23 40.42,340.18 40.49,340.23 40.56,340.3 40.64,340.29 40.71,340.28 40.78,340.36 40.85,340.32 40.92,340.28 41,340.32 41.07,340.3 41.14,340.39 41.21,340.33 41.28,340.33 41.36,340.27 41.43,340.26 41.5,340.25 41.57,340.27 41.65,340.31 41.72,340.28 41.79,340.31 41.86,340.32 41.93,340.33 42.01,340.25 42.08,340.35 42.15,340.38 42.22,340.39 42.29,340.35 42.37,340.39 42.44,340.27 42.51,340.37 42.58,340.35 42.65,340.28 42.73,340.25 42.8,340.26 42.87,340.29 42.94,340.27 43.01,340.34 43.09,340.23 43.16,340.32 43.23,340.28 43.3,340.31 43.38,340.32 43.45,340.36 43.52,340.23 43.59,340.28 43.66,340.26 43.74,340.3 43.81,340.34 43.88,340.3 43.95,340.29 44.02,340.33 44.1,340.39 44.17,340.25 44.24,340.34 44.31,340.23 44.38,340.25 44.46,340.24 44.53,340.38 44.6,340.29 44.67,340.26 44.74,340.37 44.82,340.29 44.89,340.25 44.96,340.26 45.03,340.22 45.11,340.25 45.18,340.37 45.25,340.3 45.32,340.32 45.39,340.28 45.47,340.26 45.54,340.27 45.61,340.22 45.68,340.3 45.75,340.25 45.83,340.29 45.9,340.28 45.97,340.37 46.04,340.27 46.11,340.26 46.19,340.34 46.26,340.29 46.33,340.29 46.4,340.38 46.47,340.33 46.55,340.27 46.62,340.37 46.69,340.31 46.76,340.28 46.84,340.28 46.91,340.35 46.98,340.32 47.05,340.27 47.12,340.29 47.2,340.26 47.27,340.29 47.34,340.27 47.41,340.34 47.48,340.28 47.56,340.26 47.63,340.32 47.7,340.37 47.77,340.26 47.84,340.28 47.92,340.3 47.99,340.35 48.06,340.28 48.13,340.36 48.2,340.25 48.28,340.38 48.35,340.24 48.42,340.39 48.49,340.25 48.57,340.36 48.64,340.38 48.71,340.36 48.78,340.26 48.85,340.27 48.93,340.38 49,340.33 49.07,340.35 49.14,340.27 49.21,340.29 49.29,340.24 49.36,340.28 49.43,340.3 49.5,340.23 49.57,340.36 49.65,340.38 49.72,340.33 49.79,340.28 49.86,340.35 49.93,340.25 50.01,340.35 50.08,340.37 50.15,340.24 50.22,340.36 50.3,340.37 50.37,340.27 50.44,340.26 50.51,340.3 50.58,340.33 50.66,340.23 50.73,340.39 50.8,340.29 50.87,340.36 50.94,340.32 51.02,340.33 51.09,340.33 51.16,340.35 51.23,340.27 51.3,340.3 51.38,340.24 51.45,340.27 51.52,340.32 51.59,340.3 51.66,340.25 51.74,340.37 51.81,340.39 51.88,340.31 51.95,340.32 52.03,340.29 52.1,340.3 52.17,340.36 52.24,340.24 52.31,340.23 52.39,340.35 52.46,340.33 52.53,340.24 52.6,340.3 52.67,340.29 52.75,340.25 52.82,340.36 52.89,340.37 52.96,340.28 53.03,340.32 53.11,340.35 53.18,340.36 53.25,340.36 53.32,340.24 53.39,340.33 53.47,340.37 53.54,340.34 53.61,340.37 53.68,340.24 53.76,340.35 53.83,340.33 53.9,340.33 53.97,340.39 54.04,340.29 54.12,340.34 54.19,340.25 54.26,340.33 54.33,340.34 54.4,340.36 54.48,340.32 54.55,340.24 54.62,340.23 54.69,340.31 54.76,340.26 54.84,340.36 54.91,340.24 54.98,340.29 55.05,340.34 55.12,340.27 55.2,340.3 55.27,340.32 55.34,340.3 55.41,340.22 55.49,340.34 55.56,340.35 55.63,340.29 55.7,340.29 55.77,340.36 55.85,340.34 55.92,340.33 55.99,340.34 56.06,340.39 56.13,340.39 56.21,340.34 56.28,340.24 56.35,340.3 56.42,340.24 56.49,340.31 56.57,340.3 56.64,340.33 56.71,340.27 56.78,340.28 56.85,340.38 56.93,340.33 57,340.3 57.07,340.31 57.14,340.39 57.22,340.34 57.29,340.27 57.36,340.32 57.43,340.26 57.5,340.35 57.58,340.28 57.65,340.39 57.72,340.26 57.79,340.3 57.86,340.23 57.94,340.3 58.01,340.3 58.08,340.37 58.15,340.24 58.22,340.36 58.3,340.32 58.37,340.23 58.44,340.38 58.51,340.25 58.58,340.28 58.66,340.37 58.73,340.28 58.8,340.29 58.87,340.23 58.95,340.24 59.02,340.37 59.09,340.23 59.16,340.37 59.23,340.26 59.31,343.36 59.38,343.36 59.45,343.36 59.52,343.36 59.59,343.36 59.67,343.36 59.74,343.36 59.81,343.36 59.88,343.36 59.95,343.36 60.03,343.36 60.1,343.36 60.17,343.36 60.24,343.36 60.32,343.36 60.39,343.36 60.46,343.36 60.53,343.36 60.6,343.36 60.68,343.36 60.75,343.36 60.82,341.36 60.89,341.26 60.96,341.3 61.04,341.2 61.11,341.24 61.18,341.4 61.25,341.35 61.32,341.5 61.4,341.47 61.47,341.54 61.54,341.74 61.61,341.87 61.68,342.13 61.76,342.26 61.83,342.44 61.9,342.41 61.97,342.54 62.05,342.69 62.12,342.88 62.19,342.99 62.26,343.11 62.33,343.13 62.41,343.22 62.48,343.34 62.55,343.37 62.62,343.31 62.69,343.43 62.77,343.29 62.84,343.29 62.91,343.15 62.98,343.13 63.05,343.05 63.13,342.79 63.2,342.73 63.27,342.55 63.34,342.43 63.41,342.21 63.49,342.09 63.56,341.89 63.63,341.82 63.7,341.67 63.78,341.53 63.85,341.48 63.92,341.32 63.99,341.45 64.06,341.4 64.14,341.28 64.21,341.22 64.28,341.25 64.35,341.22 64.42,341.34 64.5,341.48 64.57,341.6 64.64,341.53 64.71,341.73 64.78,342.02 64.86,342.08 64.93,342.19 65,342.35 65.07,342.37 65.14,342.68 65.22,342.82 65.29,343.02 65.36,342.98 65.43,343.15 65.51,343.33 65.58,343.27 65.65,343.42 65.72,343.47 65.79,343.33 65.87,343.51 65.94,343.26 66.01,343.23 66.08,343.32 66.15,343.23 66.23,343.07 66.3,343.06 66.37,342.75 66.44,342.69 66.51,342.47 66.59,342.32 66.66,342.22 66.73,342.06 66.8,341.85 66.87,341.89 66.95,341.78 67.02,341.62 67.09,341.6 67.16,341.41 67.24,341.29 67.31,341.33 67.38,341.38 67.45,341.32 67.52,341.34 67.6,341.53 67.67,341.42 67.74,341.62 67.81,341.71 67.88,341.87 67.96,341.83 68.03,341.98 68.1,342.25 68.17,342.35 68.24,342.42 68.32,342.63 68.39,342.73 68.46,342.91 68.53,342.95 68.6,343.06 68.68,343.17 68.75,343.4 68.82,343.37 68.89,343.39 68.97,343.53 69.04,343.4 69.11,343.34 69.18,343.35 69.25,343.21 69.33,343.29 69.4,343.09 69.47,342.98 69.54,342.85 69.61,342.79 69.69,342.62 69.76,342.43 69.83,342.24 69.9,342.25 69.97,342.12 70.05,342.02 70.12,341.88 70.19,341.76 70.26,341.65 70.33,341.58 70.41,341.55 70.48,341.41 70.55,341.38 70.62,341.44 70.7,341.37 70.77,341.51 70.84,341.52 70.91,341.68 70.98,341.78 71.06,341.77 71.13,341.83 71.2,341.92 71.27,342.27 71.34,342.43 71.42,342.49 71.49,342.57 71.56,342.65 71.63,342.91 71.7,343 71.78,343.24 71.85,343.29 71.92,343.22 71.99,343.43 72.06,343.34 72.14,343.53 72.21,343.53 72.28,343.49 72.35,343.45 72.43,343.39 72.5,343.31 72.57,343.19 72.64,343.17 72.71,342.99 72.79,342.86 72.86,342.68 72.93,342.49 73,342.45 73.07,342.24 73.15,342.09 73.22,342.03 73.29,341.81 73.36,341.9 73.43,341.76 73.51,341.56 73.58,341.65 73.65,341.59 73.72,341.57 73.79,341.37 73.87,341.49 73.94,341.56 74.01,341.47 74.08,341.57 74.16,341.76 74.23,341.87 74.3,341.86 74.37,341.93 74.44,342.24 74.52,342.43 74.59,342.36 74.66,342.56 74.73,342.82 74.8,342.95 74.88,343.05 74.95,343.19 75.02,343.15 75.09,343.2 75.16,343.41 75.24,343.51 75.31,343.53 75.38,343.4 75.45,343.45 75.52,343.37 75.6,343.37 75.67,343.42 75.74,343.35 75.81,343.12 75.89,342.99 75.96,343.06 76.03,342.89 76.1,342.74 76.17,342.52 76.25,342.49 76.32,342.29 76.39,342.15 76.46,341.94 76.53,342.02 76.61,341.81 76.68,341.71 76.75,341.67 76.82,341.68 76.89,341.57 76.97,341.48 77.04,341.41 77.11,341.44 77.18,341.49 77.25,341.56 77.33,341.83 77.4,341.72 77.47,341.99 77.54,341.97 77.62,342.12 77.69,342.23 77.76,342.45 77.83,342.61 77.9,342.71 77.98,342.78 78.05,342.96 78.12,343.12 78.19,343.3 78.26,343.31 78.34,343.28 78.41,343.52 78.48,343.44 78.55,343.45 78.62,343.42 78.7,343.44 78.77,343.45 78.84,343.43 78.91,343.37 78.98,343.24 79.06,343.23 79.13,343.09 79.2,342.84 79.27,342.9 79.35,342.56 79.42,342.47 79.49,342.5 79.56,342.26 79.63,342.14 79.71,341.98 79.78,341.92 79.85,341.69 79.92,341.74 79.99,341.78 80.07,341.67 80.14,341.65 80.21,341.68 80.28,341.71 80.35,341.55 80.43,341.79 80.5,341.86 80.57,341.94 80.64,341.91 80.71,342.06 80.79,342.2 80.86,342.24 80.93,342.45 81,342.6 81.08,342.67 81.15,342.9 81.22,343.05 81.29,343.02 81.36,343.33 81.44,343.29 81.51,343.51 81.58,343.56 81.65,343.58 81.72,343.61 81.8,343.54 81.87,343.53 81.94,343.42 82.01,343.41 82.08,343.53 82.16,343.36 82.23,343.18 82.3,343.02 82.37,343.03 82.45,343 82.52,342.85 82.59,342.56 82.66,342.42 82.73,342.34 82.81,342.19 82.88,342.03 82.95,341.99 83.02,341.95 83.09,341.78 83.17,341.84 83.24,341.65 83.31,341.69 83.38,341.67 83.45,341.63 83.53,341.63 83.6,341.76 83.67,341.69 83.74,341.76 83.81,341.85 83.89,341.96 83.96,342.18 84.03,342.37 84.1,342.36 84.18,342.57 84.25,342.76 84.32,342.85 84.39,343 84.46,343.11 84.54,343.11 84.61,343.32 84.68,343.44 84.75,343.42 84.82,343.45 84.9,343.52 84.97,343.69 85.04,343.63 85.11,343.47 85.18,343.51 85.26,343.58 85.33,343.36 85.4,343.27 85.47,343.27 85.54,343.05 85.62,343.05 85.69,342.75 85.76,342.69 85.83,342.67 85.91,342.44 85.98,342.24 86.05,342.29 86.12,342.01 86.19,341.9 86.27,342 86.34,341.75 86.41,341.89 86.48,341.71 86.55,341.7 86.63,341.61 86.7,341.71 86.77,341.78 86.84,341.9 86.91,341.84 86.99,341.89 87.06,342.12 87.13,342.08 87.2,342.24 87.27,342.46 87.35,342.64 87.42,342.74 87.49,342.83 87.56,343.07 87.64,342.99 87.71,343.24 87.78,343.38 87.85,343.38 87.92,343.43 88,343.63 88.07,343.62 88.14,343.64 88.21,343.54 88.28,343.67 88.36,343.62 88.43,343.61 88.5,343.47 88.57,343.41 88.64,343.25 88.72,343.22 88.79,343.15 88.86,343.03 88.93,342.77 89,342.77 89.08,342.64 89.15,342.38 89.22,342.25 89.29,342.3 89.37,342.18 89.44,342.05 89.51,341.96 89.58,341.86 89.65,341.89 89.73,341.68 89.8,341.86 89.87,341.69 89.94,341.87 90.01,341.84 90.09,341.94 90.16,342.08 90.23,342.19 90.3,342.22 90.37,342.34 90.45,342.55 90.52,342.6 90.59,342.82 90.66,342.94 90.73,342.91 90.81,342.99 90.88,343.28 90.95,343.33 91.02,343.31 91.1,343.54 91.17,343.64 91.24,343.56 91.31,343.7 91.38,343.66 91.46,343.7 91.53,343.65 91.6,343.66 91.67,343.64 91.74,343.48 91.82,343.28 91.89,343.22 91.96,343.07 92.03,343.08 92.1,343.03 92.18,342.85 92.25,342.71 92.32,342.44 92.39,342.31 92.46,342.35 92.54,342.24 92.61,342.11 92.68,342.06 92.75,341.86 92.83,341.84 92.9,341.75 92.97,341.86 93.04,341.73 93.11,341.89 93.19,341.97 93.26,341.88 93.33,341.99 93.4,342.13 93.47,342.19 93.55,342.44 93.62,342.43 93.69,342.69 93.76,342.69 93.83,342.75 93.91,343.06 93.98,343.13 94.05,343.24 94.12,343.41 94.19,343.4 94.27,343.42 94.34,343.54 94.41,343.72 94.48,343.73 94.56,343.69 94.63,343.63 94.7,343.7 94.77,343.52 94.84,343.59 94.92,343.4 94.99,343.37 95.06,343.42 95.13,343.15 95.2,343.14 95.28,342.9 95.35,342.91 95.42,342.69 95.49,342.57 95.56,342.56 95.64,342.49 95.71,342.36 95.78,342.21 95.85,342 95.92,342.02 96,341.87 96.07,341.85 96.14,341.81 96.21,341.89 96.29,341.88 96.36,341.91 96.43,341.89 96.5,341.98 96.57,342.12 96.65,342.21 96.72,342.32 96.79,342.41 96.86,342.49 96.93,342.81 97.01,342.8 97.08,342.91 97.15,343.17 97.22,343.28 97.29,343.26 97.37,343.45 97.44,343.44 97.51,343.46 97.58,343.58 97.65,343.67 97.73,343.81 97.8,343.64 97.87,343.66 97.94,343.75 98.02,343.56 98.09,343.5 98.16,343.43 98.23,343.44 98.3,343.26 98.38,343.19 98.45,343.15 98.52,343.04 98.59,342.9 98.66,342.84 98.74,342.7 98.81,342.44 98.88,342.28 98.95,342.18 99.02,342.1 99.1,342.15 99.17,342.11 99.24,342.03 99.31,341.94 99.38,341.87 99.46,341.98 99.53,341.9 99.6,341.95 99.67,342.12 99.75,342.26 99.82,342.22 99.89,342.38 99.96,342.37 100.03,342.58 100.11,342.69 100.18,342.8 100.25,343 100.32,343.14 100.39,343.18 100.47,343.4 100.54,343.39 100.61,343.49 100.68,343.48 100.75,343.76 100.83,343.76 100.9,343.79 100.97,343.65 101.04,343.75 101.11,343.62 101.19,343.68 101.26,343.71 101.33,343.68 101.4,343.46 101.48,343.3 101.55,343.3 101.62,343.08 101.69,343.09 101.76,343.06 101.84,342.72 101.91,342.71 101.98,342.62 102.05,342.35 102.12,342.38 102.2,342.36 102.27,342.23 102.34,342.12 102.41,341.98 102.48,341.97 102.56,342.05 102.63,341.93 102.7,342.02 102.77,342.14 102.84,342.21 102.92,342.3 102.99,342.35 103.06,342.45 103.13,342.55 103.21,342.66 103.28,342.73 103.35,342.94 103.42,343.01 103.49,343.05 103.57,343.19 103.64,343.28 103.71,343.37 103.78,343.45 103.85,343.67 103.93,343.61 104,343.64 104.07,343.7 104.14,343.77 104.21,343.87 104.29,343.83 104.36,343.75 104.43,343.73 104.5,343.66 104.57,343.62 104.65,343.48 104.72,343.3 104.79,343.36 104.86,343.04 104.94,343.12 105.01,342.83 105.08,342.86 105.15,342.74 105.22,342.48 105.3,342.36 105.37,342.36 105.44,342.23 105.51,342.27 105.58,342.26 105.66,342.16 105.73,342.14 105.8,342.13 105.87,342.07 105.94,342.2 106.02,342.2 106.09,342.22 106.16,342.19 106.23,342.38 106.31,342.44 106.38,342.6 106.45,342.64 106.52,342.94 106.59,342.97 106.67,343.14 106.74,343.22 106.81,343.35 106.88,343.36 106.95,343.48 107.03,343.56 107.1,343.68 107.17,343.8 107.24,343.84 107.31,343.79 107.39,343.87 107.46,343.82 107.53,343.68 107.6,343.79 107.67,343.79 107.75,343.51 107.82,343.47 107.89,343.54 107.96,343.26 108.04,343.22 108.11,343.2 108.18,342.95 108.25,342.91 108.32,342.67 108.4,342.55 108.47,342.66 108.54,342.38 108.61,342.48 108.68,342.21 108.76,342.24 108.83,342.29 108.9,342.19 108.97,342.2 109.04,342.11 109.12,342.13 109.19,342.25 109.26,342.22 109.33,342.45 109.4,342.48 109.48,342.6 109.55,342.69 109.62,342.77 109.69,342.91 109.77,342.95 109.84,342.96 109.91,343.09 109.98,343.24 110.05,343.33 110.13,343.59 110.2,343.7 110.27,343.64 110.34,343.76 110.41,343.86 110.49,343.92 110.56,343.89 110.63,343.85 110.7,343.94 110.77,343.82 110.85,343.83 110.92,343.6 110.99,343.56 111.06,343.59 111.13,343.52 111.21,343.26 111.28,343.15 111.35,342.99 111.42,343.07 111.5,342.86 111.57,342.68 111.64,342.66 111.71,342.61 111.78,342.55 111.86,342.44 111.93,342.36 112,342.24 112.07,342.34 112.14,342.16 112.22,342.31 112.29,342.29 112.36,342.27 112.43,342.42 112.5,342.41 112.58,342.34 112.65,342.42 112.72,342.55 112.79,342.78 112.86,342.83 112.94,342.88 113.01,343.19 113.08,343.21 113.15,343.29 113.23,343.38 113.3,343.57 113.37,343.64 113.44,343.56 113.51,343.85 113.59,343.73 113.66,343.82 113.73,343.75 113.8,343.86 113.87,343.89 113.95,343.73 114.02,343.78 114.09,343.72 114.16,343.6 114.23,343.63 114.31,343.48 114.38,343.34 114.45,343.37 114.52,343.25 114.59,343.01 114.67,342.88 114.74,342.8 114.81,342.71 114.88,342.73 114.96,342.47 115.03,342.36 115.1,342.32 115.17,342.35 115.24,342.4 115.32,342.3 115.39,342.18 115.46,342.25 115.53,342.39 115.6,342.24 115.68,342.37 115.75,342.41 115.82,342.64 115.89,342.62 115.96,342.67 116.04,342.93 116.11,343.01 116.18,342.99 116.25,343.18 116.32,343.23 116.4,343.34 116.47,343.5 116.54,343.62 116.61,343.63 116.69,343.79 116.76,343.78 116.83,343.96 116.9,343.83 116.97,343.84 117.05,343.82 117.12,343.88 117.19,343.78 117.26,343.87 117.33,343.85 117.41,343.57 117.48,343.67 117.55,343.55 117.62,343.44 117.69,343.39 117.77,343.23 117.84,343.08 117.91,343.02 117.98,342.74 118.05,342.84 118.13,342.7 118.2,342.63 118.27,342.48 118.34,342.53 118.42,342.38 118.49,342.44 118.56,342.28 118.63,342.37 118.7,342.39 118.78,342.31 118.85,342.52 118.92,342.5 118.99,342.52 119.06,342.67 119.14,342.64 119.21,342.74 119.28,343.07 119.35,342.97 119.42,343.1 119.5,343.39 119.57,343.35 119.64,343.55 119.71,343.66 119.78,343.69 119.86,343.87 119.93,343.76 120,343.77 120.07,343.96 120.15,343.82 120.22,343.83 120.29,343.94 120.36,343.91 120.43,343.82 120.51,343.9 120.58,343.8 120.65,343.64 120.72,343.6 120.79,343.46 120.87,343.44 120.94,343.15 121.01,343.16 121.08,343.1 121.15,343.04 121.23,342.81 121.3,342.76 121.37,342.61 121.44,342.53 121.51,342.62 121.59,342.56 121.66,342.44 121.73,342.43 121.8,342.42 121.88,342.41 121.95,342.46 122.02,342.4 122.09,342.52 122.16,342.65 122.24,342.71 122.31,342.84 122.38,342.86 122.45,342.89 122.52,343.05 122.6,343.09 122.67,343.24 122.74,343.39 122.81,343.44 122.88,343.57 122.96,343.81 123.03,343.74 123.1,343.78 123.17,343.83 123.24,343.99 123.32,344.04 123.39,344.09 123.46,344.03 123.53,344.02 123.61,343.96 123.68,343.95 123.75,343.87 123.82,343.81 123.89,343.7 123.97,343.57 124.04,343.37 124.11,343.24 124.18,343.21 124.25,343.12 124.33,343.02 124.4,342.82 124.47,342.73 124.54,342.71 124.61,342.7 124.69,342.52 124.76,342.44 124.83,342.5 124.9,342.55 124.97,342.47 125.05,342.51 125.12,342.59 125.19,342.49 125.26,342.55 125.34,342.62 125.41,342.81 125.48,342.76 125.55,342.91 125.62,343.03 125.7,343.13 125.77,343.21 125.84,343.3 125.91,343.34 125.98,343.49 126.06,343.72 126.13,343.72 126.2,343.73 126.27,343.88 126.34,344.02 126.42,343.85 126.49,343.98 126.56,344.07 126.63,343.89 126.7,344.09 126.78,344.06 126.85,344 126.92,343.93 126.99,343.76 127.07,343.6 127.14,343.65 127.21,343.42 127.28,343.48 127.35,343.36 127.43,343.21 127.5,343.03 127.57,342.97 127.64,342.94 127.71,342.88 127.79,342.79 127.86,342.59 127.93,342.67 128,342.66 128.07,342.6 128.15,342.56 128.22,342.42 128.29,342.55 128.36,342.48 128.44,342.52 128.51,342.65 128.58,342.69 128.65,342.91 128.72,342.93 128.8,343.1 128.87,343.2 128.94,343.21 129.01,343.23 129.08,343.51 129.16,343.63 129.23,343.54 129.3,343.72 129.37,343.88 129.44,343.77 129.52,343.91 129.59,343.91 129.66,343.91 129.73,344.11 129.8,344.11 129.88,343.92 129.95,344.04 130.02,343.94 130.09,343.9 130.17,343.92 130.24,343.82 130.31,343.78 130.38,343.6 130.45,343.47 130.53,343.52 130.6,343.23 130.67,343.26 130.74,343.09 130.81,343.11 130.89,342.96 130.96,342.93 131.03,342.74 131.1,342.75 131.17,342.56 131.25,342.71 131.32,342.59 131.39,342.49 131.46,342.65 131.53,342.54 131.61,342.54 131.68,342.81 131.75,342.76 131.82,342.86 131.9,342.93 131.97,342.94 132.04,343.04 132.11,343.27 132.18,343.3 132.26,343.31 132.33,343.59 132.4,343.69 132.47,343.7 132.54,343.82 132.62,343.92 132.69,343.87 132.76,343.88 132.83,344.09 132.9,344.14 132.98,344.07 133.05,344.05 133.12,343.95 133.19,343.9 133.26,343.96 133.34,343.87 133.41,343.83 133.48,343.88 133.55,343.66 133.63,343.54 133.7,343.52 133.77,343.36 133.84,343.31 133.91,343.09 133.99,343.1 134.06,342.99 134.13,343 134.2,342.79 134.27,342.79 134.35,342.82 134.42,342.69 134.49,342.74 134.56,342.69 134.63,342.71 134.71,342.67 134.78,342.69 134.85,342.68 134.92,342.8 134.99,342.78 135.07,342.87 135.14,343.15 135.21,343.17 135.28,343.32 135.36,343.24 135.43,343.54 135.5,343.59 135.57,343.6 135.64,343.81 135.72,343.7 135.79,343.93 135.86,344.04 135.93,344.09 136,344.07 136.08,344.08 136.15,344.07 136.22,344.19 136.29,344.16 136.36,344.1 136.44,344.12 136.51,344.07 136.58,343.94 136.65,343.86 136.72,343.69 136.8,343.55 136.87,343.65 136.94,343.41 137.01,343.48 137.09,343.35 137.16,343.29 137.23,343.2 137.3,343.09 137.37,342.92 137.45,342.8 137.52,342.72 137.59,342.67 137.66,342.78 137.73,342.64 137.81,342.7 137.88,342.69 137.95,342.71 138.02,342.85 138.09,342.74 138.17,342.94 138.24,343.07 138.31,343.06 138.38,343.13 138.45,343.22 138.53,343.32 138.6,343.32 138.67,343.52 138.74,343.57 138.82,343.67 138.89,343.8 138.96,343.87 139.03,343.86 139.1,344.08 139.18,344 139.25,344.12 139.32,344.08 139.39,344.01 139.46,344.14 139.54,344.02 139.61,344.09 139.68,344.08 139.75,344.05 139.82,343.81 139.9,343.71 139.97,343.68 140.04,343.68 140.11,343.45 140.18,343.46 140.26,343.36 140.33,343.18 140.4,343.3 140.47,343.04 140.55,343.04 140.62,342.88 140.69,342.93 140.76,342.92 140.83,342.79 140.91,342.76 140.98,342.81 141.05,342.82 141.12,342.7 141.19,342.92 141.27,342.84 141.34,342.97 141.41,342.89 141.48,342.97 141.55,343.1 141.63,343.25 141.7,343.35 141.77,343.53 141.84,343.52 141.91,343.55 141.99,343.66 142.06,343.85 142.13,343.97 142.2,343.97 142.28,344.14 142.35,344.06 142.42,344.07 142.49,344.26 142.56,344.09 142.64,344.19 142.71,344.12 142.78,344.08 142.85,343.99 142.92,343.91 143,343.92 143.07,343.9 143.14,343.75 143.21,343.67 143.28,343.67 143.36,343.45 143.43,343.54 143.5,343.47 143.57,343.34 143.64,343.15 143.72,342.99 143.79,343.06 143.86,343.06 143.93,342.85 144.01,342.77 144.08,342.96 144.15,342.81 144.22,342.84 144.29,342.83 144.37,342.92 144.44,342.98 144.51,342.9 144.58,343.14 144.65,343.07 144.73,343.2 144.8,343.26 144.87,343.26 144.94,343.4 145.01,343.5 145.09,343.65 145.16,343.7 145.23,343.84 145.3,343.92 145.37,343.89 145.45,344.02 145.52,344.03 145.59,344.12 145.66,344.17 145.74,344.13 145.81,344.23 145.88,344.1 145.95,344.13 146.02,344.18 146.1,344.04 146.17,343.94 146.24,344.02 146.31,343.91 146.38,343.79 146.46,343.78 146.53,343.58 146.6,343.46 146.67,343.45 146.74,343.46 146.82,343.31 146.89,343.14 146.96,343.09 147.03,343.05 147.1,342.94 147.18,342.85 147.25,342.93 147.32,342.97 147.39,342.85 147.47,342.99 147.54,343.02 147.61,342.93 147.68,343.07 147.75,343 147.83,343.19 147.9,343.22 147.97,343.33 148.04,343.45 148.11,343.53 148.19,343.53 148.26,343.72 148.33,343.69 148.4,343.83 148.47,343.96 148.55,343.9 148.62,344.11 148.69,344 148.76,344.13 148.83,344.12 148.91,344.09 148.98,344.22 149.05,344.16 149.12,344.29 149.2,344.1 149.27,344.22 149.34,344.12 149.41,343.93 149.48,343.89 149.56,343.89 149.63,343.86 149.7,343.77 149.77,343.52 149.84,343.55 149.92,343.47 149.99,343.44 150.06,343.22 150.13,343.11 150.2,343 150.28,342.93 150.35,343.06 150.42,343.06 150.49,342.95 150.56,342.96 150.64,343.02 150.71,342.86 150.78,343 150.85,342.94 150.93,343.1 151,343.18 151.07,343.23 151.14,343.23 151.21,343.38 151.29,343.36 151.36,343.54 151.43,343.57 151.5,343.74 151.57,343.74 151.65,343.88 151.72,343.84 151.79,344 151.86,344.1 151.93,344.1 152.01,344.21 152.08,344.17 152.15,344.28 152.22,344.1 152.3,344.12 152.37,344.25 152.44,344.2 152.51,344.08 152.58,344 152.66,344 152.73,343.8 152.8,343.9 152.87,343.7 152.94,343.64 153.02,343.43 153.09,343.39 153.16,343.26 153.23,343.2 153.3,343.27 153.38,343.16 153.45,343.1 153.52,343.11 153.59,342.89 153.66,342.86 153.74,342.86 153.81,343.04 153.88,342.82 153.95,342.87 154.03,343.08 154.1,343.09 154.17,343.06 154.24,343.17 154.31,343.31 154.39,343.26 154.46,343.35 154.53,343.57 154.6,343.59 154.67,343.58 154.75,343.84 154.82,343.94 154.89,343.86 154.96,343.89 155.03,344.06 155.11,344.23 155.18,344.27 155.25,344.23 155.32,344.09 155.39,344.23 155.47,344.12 155.54,344.09 155.61,344.18 155.68,344.04 155.76,344.02 155.83,343.97 155.9,343.97 155.97,343.77 156.04,343.71 156.12,343.69 156.19,343.62 156.26,343.56 156.33,343.5 156.4,343.32 156.48,343.19 156.55,343.14 156.62,343.06 156.69,343.08 156.76,342.95 156.84,343.05 156.91,342.99 156.98,343 157.05,342.98 157.12,342.88 157.2,342.98 157.27,342.97 157.34,343 157.41,343.15 157.49,343.25 157.56,343.39 157.63,343.37 157.7,343.37 157.77,343.45 157.85,343.6 157.92,343.72 157.99,343.72 158.06,343.94 158.13,344.02 158.21,343.93 158.28,344.03 158.35,344.03 158.42,344.13 158.49,344.31 158.57,344.19 158.64,344.24 158.71,344.24 158.78,344.12 158.85,344.04 158.93,344.01 159,343.93 159.07,344.01 159.14,343.88 159.22,343.75 159.29,343.81 159.36,343.59 159.43,343.62 159.5,343.44 159.58,343.38 159.65,343.22 159.72,343.19 159.79,343.17 159.86,343.14 159.94,342.92 160.01,343.07 160.08,342.92 160.15,342.92 160.22,343.02 160.3,342.97 160.37,342.87 160.44,342.91 160.51,343.15 160.58,343.01 160.66,343.2 160.73,343.23 160.8,343.42 160.87,343.41 160.95,343.47 161.02,343.64 161.09,343.71 161.16,343.73 161.23,343.92 161.31,343.97 161.38,343.99 161.45,343.97 161.52,344.08 161.59,344.22 161.67,344.09 161.74,344.26 161.81,344.21 161.88,344.26 161.95,344.22 162.03,344.07 162.1,344.16 162.17,343.94 162.24,343.9 162.31,343.79 162.39,343.75 162.46,343.74 162.53,343.61 162.6,343.57 162.68,343.45 162.75,343.34 162.82,343.39 162.89,343.2 162.96,343.13 163.04,343.03 163.11,343.02 163.18,343.09 163.25,342.89 163.32,342.85 163.4,342.91 163.47,342.84 163.54,342.84 163.61,343.09 163.68,342.92 163.76,343.11 163.83,343.13 163.9,343.11 163.97,343.39 164.04,343.5 164.12,343.49 164.19,343.55 164.26,343.54 164.33,343.65 164.41,343.79 164.48,343.9 164.55,343.92 164.62,344.09 164.69,344.09 164.77,344.12 164.84,344.28 164.91,344.25 164.98,344.32 165.05,344.24 165.13,344.18 165.2,344.25 165.27,344.19 165.34,344.14 165.41,343.89 165.49,344.03 165.56,343.96 165.63,343.79 165.7,343.7 165.77,343.52 165.85,343.56 165.92,343.5 165.99,343.37 166.06,343.16 166.14,343.2 166.21,343.07 166.28,343.04 166.35,342.9 166.42,343.07 166.5,342.92 166.57,342.86 166.64,342.86 166.71,342.88 166.78,343 166.86,342.94 166.93,343.04 167,343.04 167.07,343.1 167.14,343.26 167.22,343.46 167.29,343.33 167.36,343.6 167.43,343.6 167.5,343.83 167.58,343.91 167.65,343.8 167.72,343.85 167.79,344.08 167.87,344.09 167.94,344.25 168.01,344.29 168.08,344.3 168.15,344.12 168.23,344.29 168.3,344.3 168.37,344.17 168.44,344.21 168.51,343.98 168.59,343.95 168.66,343.9 168.73,343.93 168.8,343.77 168.87,343.68 168.95,343.73 169.02,343.47 169.09,343.32 169.16,343.4 169.23,343.18 169.31,343.26 169.38,343.23 169.45,343.08 169.52,342.99 169.6,342.98 169.67,343 169.74,343.03 169.81,342.94 169.88,343.03 169.96,343.03 170.03,342.91 170.1,342.97 170.17,343.01 170.24,343.18 170.32,343.23 170.39,343.21 170.46,343.34 170.53,343.59 170.6,343.52 170.68,343.74 170.75,343.74 170.82,343.97 170.89,343.96 170.96,344.03 171.04,344.05 171.11,344.14 171.18,344.24 171.25,344.1 171.33,344.23 171.4,344.31 171.47,344.15 171.54,344.12 171.61,344.25 171.69,344.2 171.76,344.17 171.83,343.97 171.9,343.89 171.97,343.71 172.05,343.79 172.12,343.74 172.19,343.46 172.26,343.55 172.33,343.36 172.41,343.4 172.48,343.15 172.55,343.24 172.62,343.18 172.69,343.1 172.77,342.89 172.84,342.95 172.91,342.91 172.98,342.99 173.06,342.83 173.13,342.85 173.2,343.01 173.27,342.96 173.34,342.97 173.42,343.13 173.49,343.21 173.56,343.26 173.63,343.49 173.7,343.56 173.78,343.55 173.85,343.67 173.92,343.79 173.99,343.82 174.06,343.91 174.14,344 174.21,343.95 174.28,344.19 174.35,344.05 174.43,344.11 174.5,344.26 174.57,344.19 174.64,344.15 174.71,344.18 174.79,344.24 174.86,344.16 174.93,344.06 175,343.97 175.07,343.95 175.15,343.83 175.22,343.72 175.29,343.62 175.36,343.54 175.43,343.52 175.51,343.33 175.58,343.41 175.65,343.23 175.72,343.25 175.79,343.19 175.87,343.04 175.94,342.98 176.01,342.87 176.08,342.87 176.16,342.86 176.23,342.93 176.3,342.96 176.37,342.9 176.44,342.92 176.52,343.11 176.59,343.2 176.66,343.23 176.73,343.28 176.8,343.23 176.88,343.36 176.95,343.45 177.02,343.5 177.09,343.61 177.16,343.86 177.24,343.93 177.31,343.88 177.38,343.92 177.45,344.11 177.52,344.01 177.6,344.25 177.67,344.3 177.74,344.11 177.81,344.25 177.89,344.3 177.96,344.08 178.03,344.19 178.1,344.01 178.17,343.93 178.25,343.99 178.32,343.93 178.39,343.76 178.46,343.79 178.53,343.53 178.61,343.43 178.68,343.56 178.75,343.29 178.82,343.33 178.89,343.22 178.97,343.2 179.04,342.99 179.11,342.99 179.18,342.94 179.25,342.89 179.33,342.96 179.4,342.84 179.47,343.04 179.54,342.95 179.62,342.99 179.69,343.04 179.76,343.07 179.83,343.11 179.9,343.28 179.98,343.3 180.05,343.43 180.12,343.37 180.19,343.49 180.26,343.78 180.34,343.86 180.41,343.89 180.48,343.87 180.55,343.87 180.62,343.96 180.7,344.23 180.77,344.23 180.84,344.07 180.91,344.21 180.98,344.19 181.06,344.21 181.13,344.18 181.2,344.25 181.27,344.03 181.35,344.08 181.42,343.98 181.49,343.96 181.56,343.91 181.63,343.82 181.71,343.68 181.78,343.66 181.85,343.44 181.92,343.45 181.99,343.21 182.07,343.14 182.14,343.05 182.21,343.06 182.28,343.01 182.35,343.02 182.43,343.06 182.5,342.86 182.57,342.89 182.64,342.97 182.71,342.92 182.79,342.88 182.86,343.09 182.93,343.16 183,343.14 183.08,343.26 183.15,343.17 183.22,343.28 183.29,343.54 183.36,343.58 183.44,343.58 183.51,343.72 183.58,343.7 183.65,343.79 183.72,344.08 183.8,343.93 183.87,344.18 183.94,344.21 184.01,344.12 184.08,344.16 184.16,344.29 184.23,344.1 184.3,344.2 184.37,344.14 184.44,344.21 184.52,343.99 184.59,343.94 184.66,343.99 184.73,343.87 184.81,343.9 184.88,343.62 184.95,343.69 185.02,343.45 185.09,343.51 185.17,343.35 185.24,343.16 185.31,343.26 185.38,343.18 185.45,343.07 185.53,342.97 185.6,343.08 185.67,342.96 185.74,342.98 185.81,342.99 185.89,343 185.96,342.93 186.03,342.95 186.1,343.12 186.17,343.17 186.25,343.1 186.32,343.14 186.39,343.32 186.46,343.31 186.54,343.48 186.61,343.65 186.68,343.58 186.75,343.85 186.82,343.77 186.9,343.84 186.97,344.04 187.04,344.18 187.11,344.03 187.18,344.16 187.26,344.23 187.33,344.19 187.4,344.11 187.47,344.14 187.54,344.15 187.62,344.07 187.69,344.08 187.76,344.06 187.83,343.89 187.9,343.91 187.98,343.79 188.05,343.78 188.12,343.6 188.19,343.46 188.27,343.49 188.34,343.3 188.41,343.18 188.48,343.19 188.55,343.16 188.63,343.11 188.7,343.13 188.77,343.01 188.84,342.99 188.91,342.97 188.99,342.95 189.06,342.99 189.13,342.88 189.2,342.98 189.27,342.96 189.35,343.17 189.42,343.05 189.49,343.28 189.56,343.34 189.63,343.34 189.71,343.4 189.78,343.52 189.85,343.64 189.92,343.8 190,343.92 190.07,343.96 190.14,344.05 190.21,344.04 190.28,344.05 190.36,344.11 190.43,344.24 190.5,344.19 190.57,344.12 190.64,344.19 190.72,344.26 190.79,344.09 190.86,344.17 190.93,343.97 191,343.95 191.08,344.01 191.15,343.95 191.22,343.82 191.29,343.58 191.36,343.48 191.44,343.49 191.51,343.49 191.58,343.32 191.65,343.16 191.73,343.15 191.8,343.2 191.87,343.03 191.94,342.88 192.01,343.06 192.09,342.99 192.16,342.85 192.23,342.87 192.3,342.84 192.37,343.05 192.45,343 192.52,343.04 192.59,343.1 192.66,343.27 192.73,343.22 192.81,343.24 192.88,343.48 192.95,343.42 193.02,343.61 193.09,343.64 193.17,343.74 193.24,343.8 193.31,343.86 193.38,344.02 193.46,344.15 193.53,344.18 193.6,344.25 193.67,344.31 193.74,344.1 193.82,344.17 193.89,344.25 193.96,344.21 194.03,344.21 194.1,343.98 194.18,343.93 194.25,343.99 194.32,343.78 194.39,343.89 194.46,343.67 194.54,343.68 194.61,343.44 194.68,343.54 194.75,343.38 194.82,343.21 194.9,343.27 194.97,343.08 195.04,343.01 195.11,342.92 195.19,342.86 195.26,343.02 195.33,343 195.4,342.96 195.47,342.92 195.55,342.88 195.62,342.9 195.69,342.93 195.76,343.15 195.83,343.16 195.91,343.12 195.98,343.3 196.05,343.34 196.12,343.42 196.19,343.65 196.27,343.64 196.34,343.8 196.41,343.84 196.48,343.81 196.55,344.04 196.63,343.97 196.7,344.08 196.77,344.27 196.84,344.27 196.92,344.21 196.99,344.17 197.06,344.12 197.13,344.21 197.2,344.17 197.28,344.01 197.35,344.15 197.42,343.97 197.49,343.85 197.56,343.88 197.64,343.66 197.71,343.62 197.78,343.63 197.85,343.43 197.92,343.36 198,343.41 198.07,343.28 198.14,343.24 198.21,343.16 198.29,342.97 198.36,343 198.43,343.03 198.5,342.9 198.57,343.02 198.65,342.99 198.72,342.89 198.79,343 198.86,343.12 198.93,343.14 199.01,343.14 199.08,343.21 199.15,343.23 199.22,343.32 199.29,343.48 199.37,343.44 199.44,343.67 199.51,343.78 199.58,343.92 199.65,343.89 199.73,343.94 199.8,343.98 199.87,344.05 199.94,344.08 200.02,344.08 200.09,344.18 200.16,344.1 200.23,344.14 200.3,344.28 200.38,344.19 200.45,344.08 200.52,344.14 200.59,343.92 200.66,343.87 200.74,343.84 200.81,343.84 200.88,343.66 200.95,343.52 201.02,343.47 201.1,343.48 201.17,343.22 201.24,343.25 201.31,343.1 201.38,343.05 201.46,342.96 201.53,343.05 201.6,343.07 201.67,342.85 201.75,342.89 201.82,342.97 201.89,342.98 201.96,342.96 202.03,342.9 202.11,343.12 202.18,343 202.25,343.2 202.32,343.17 202.39,343.39 202.47,343.38 202.54,343.49 202.61,343.51 202.68,343.58 202.75,343.74 202.83,343.8 202.9,343.98 202.97,344.08 203.04,344.03 203.11,344.2 203.19,344.23 203.26,344.17 203.33,344.3 203.4,344.3 203.48,344.16 203.55,344.18 203.62,344.23 203.69,344.08 203.76,343.98 203.84,343.98 203.91,343.99 203.98,343.89 204.05,343.66 204.12,343.72 204.2,343.44 204.27,343.36 204.34,343.43 204.41,343.34 204.48,343.09 204.56,343.05 204.63,342.96 204.7,342.97 204.77,342.97 204.84,342.99 204.92,343.01 204.99,342.88 205.06,342.87 205.13,342.89 205.21,343.02 205.28,342.97 205.35,343.03 205.42,343.17 205.49,343.32 205.57,343.19 205.64,343.35 205.71,343.45 205.78,343.67 205.85,343.63 205.93,343.74 206,343.86 206.07,343.87 206.14,343.89 206.21,343.95 206.29,344.2 206.36,344.24 206.43,344.22 206.5,344.15 206.57,344.3 206.65,344.28 206.72,344.24 206.79,344.15 206.86,344.01 206.94,344.03 207.01,343.99 207.08,343.92 207.15,343.82 207.22,343.7 207.3,343.69 207.37,343.55 207.44,343.42 207.51,343.44 207.58,343.35 207.66,343.33 207.73,343.23 207.8,343.07 207.87,342.95 207.94,343.01 208.02,342.94 208.09,342.89 208.16,342.93 208.23,342.87 208.3,343.02 208.38,343.05 208.45,342.9 208.52,343.02 208.59,343.24 208.67,343.19 208.74,343.18 208.81,343.27 208.88,343.33 208.95,343.54 209.03,343.72 209.1,343.62 209.17,343.69 209.24,343.98 209.31,344.01 209.39,344.07 209.46,344.13 209.53,344.05 209.6,344.21 209.67,344.31 209.75,344.15 209.82,344.21 209.89,344.12 209.96,344.13 210.03,344.02 210.11,344.09 210.18,344.02 210.25,343.85 210.32,343.95 210.4,343.82 210.47,343.6 210.54,343.5 210.61,343.45 210.68,343.39 210.76,343.27 210.83,343.17 210.9,343.16 210.97,343.12 211.04,343.05 211.12,343.05 211.19,343 211.26,342.88 211.33,343.03 211.4,342.83 211.48,342.99 211.55,342.94 211.62,343.07 211.69,342.97 211.76,343.04 211.84,343.24 211.91,343.24 211.98,343.32 212.05,343.39 212.13,343.61 212.2,343.52 212.27,343.63 212.34,343.74 212.41,343.89 212.49,343.9 212.56,343.98 212.63,344.12 212.7,344.14 212.77,344.05 212.85,344.24 212.92,344.21 212.99,344.25 213.06,344.16 213.13,344.21 213.21,344.05 213.28,344.19 213.35,344.1 213.42,343.87 213.49,343.87 213.57,343.77 213.64,343.75 213.71,343.76 213.78,343.67 213.86,343.41 213.93,343.27 214,343.3 214.07,343.17 214.14,343.18 214.22,343.02 214.29,343.08 214.36,343.01 214.43,342.88 214.5,342.93 214.58,342.92 214.65,343.04 214.72,342.99 214.79,343.03 214.86,343.04 214.94,343.15 215.01,343.04 215.08,343.13 215.15,343.22 215.22,343.4 215.3,343.43 215.37,343.59 215.44,343.7 215.51,343.64 215.59,343.75 215.66,343.81 215.73,343.94 215.8,344 215.87,343.98 215.95,344.13 216.02,344.23 216.09,344.27 216.16,344.11 216.23,344.28 216.31,344.3 216.38,344.15 216.45,344.22 216.52,344.08 216.59,344.05 216.67,343.98 216.74,343.8 216.81,343.82 216.88,343.59 216.95,343.52 217.03,343.43 217.1,343.47 217.17,343.37 217.24,343.3 217.32,343.19 217.39,343.15 217.46,343.07 217.53,342.97 217.6,342.94 217.68,342.87 217.75,342.84 217.82,342.95 217.89,342.84 217.96,342.99 218.04,343.07 218.11,343.08 218.18,343.16 218.25,343.24 218.32,343.35 218.4,343.25 218.47,343.49 218.54,343.42 218.61,343.51 218.68,343.58 218.76,343.82 218.83,343.98 218.9,343.88 218.97,343.95 219.05,343.98 219.12,344.12 219.19,344.08 219.26,344.24 219.33,344.31 219.41,344.28 219.48,344.11 219.55,344.12 219.62,344.22 219.69,344.13 219.77,344.04 219.84,343.87 219.91,343.82 219.98,343.87 220.05,343.78 220.13,343.54 220.2,343.48 220.27,343.39 220.34,343.39 220.42,343.18 220.49,343.28 220.56,343.24 220.63,342.96 220.7,343.11 220.78,343.09 220.85,342.87 220.92,342.93 220.99,342.82 221.06,342.94 221.14,342.92 221.21,343 221.28,343.02 221.35,343.15 221.42,343.25 221.5,343.23 221.57,343.32 221.64,343.36 221.71,343.58 221.78,343.63 221.86,343.76 221.93,343.87 222,343.9 222.07,344.01 222.15,344.06 222.22,344.04 222.29,344.1 222.36,344.21 222.43,344.3 222.51,344.1 222.58,344.1 222.65,344.24 222.72,344.16 222.79,344.24 222.87,344.08 222.94,344.13 223.01,343.99 223.08,343.82 223.15,343.78 223.23,343.81 223.3,343.58 223.37,343.63 223.44,343.44 223.51,343.46 223.59,343.22 223.66,343.32 223.73,343.22 223.8,343.06 223.88,343.14 223.95,342.93 224.02,342.99 224.09,342.85 224.16,342.97 224.24,342.89 224.31,342.94 224.38,342.9 224.45,343.06 224.52,343.18 224.6,343.03 224.67,343.25 224.74,343.19 224.81,343.4 224.88,343.49 224.96,343.59 225.03,343.56 225.1,343.8 225.17,343.76 225.24,343.89 225.32,343.95 225.39,343.95 225.46,344.21 225.53,344.1 225.61,344.15 225.68,344.26 225.75,344.33 225.82,344.11 225.89,344.17 225.97,344.05 226.04,344.11 226.11,344.1 226.18,343.99 226.25,343.84 226.33,343.95 226.4,343.68 226.47,343.74 226.54,343.62 226.61,343.51 226.69,343.52 226.76,343.4 226.83,343.3 226.9,343.23 226.97,343.23 227.05,343 227.12,342.91 227.19,343.02 227.26,343.05 227.34,342.9 227.41,342.93 227.48,343.03 227.55,342.87 227.62,342.97 227.7,342.97 227.77,343.19 227.84,343.19 227.91,343.21 227.98,343.35 228.06,343.34 228.13,343.4 228.2,343.53 228.27,343.72 228.31,342.85" fill="none" stroke="#e3142f" stroke-width="0.62" stroke-opacity="1" stroke-linejoin="round"/>
<polyline points="228.31,342.85 228.44,277.52 228.7,201.49 229,271.58 229.3,343.36 230.25,343.36 230.38,273.28 230.82,273.28 231.2,286.34 231.59,273.28 232.03,235.09 232.3,204.55 232.59,243.58 232.98,273.28 234.19,274.13 234.97,271.58 235.27,226.61 235.5,201.49 235.74,226.61 236.09,273.28 236.35,291.1 236.6,308.07 236.87,287.7 237.21,273.28 238.08,273.28 238.3,243.58 238.5,223.22 238.73,243.58 238.99,273.28 240.67,274.13 241.19,260.55 241.5,201.49 241.8,260.55 242.23,273.28 242.83,284.31 243.2,300.43 243.53,280.91 243.87,273.28 244.26,252.06 244.6,204.55 244.91,252.06 245.3,273.28 246.73,273.28 247.16,252.06 247.5,201.49 247.59,204.55" fill="none" stroke="#e3142f" stroke-width="0.5" stroke-opacity="1" stroke-linejoin="round"/>
<line x1="63.4" y1="342.85" x2="63.4" y2="307.22" stroke="#e3142f" stroke-width="0.4" stroke-opacity="1"/>
<line x1="222.5" y1="343.7" x2="222.5" y2="224.06" stroke="#e3142f" stroke-width="0.4" stroke-opacity="1"/>
<line x1="217.3" y1="343.7" x2="217.3" y2="340.31" stroke="#e3142f" stroke-width="0.4" stroke-opacity="1"/>
<rect x="23.2" y="197.1" width="36.4" height="21.6" rx="1.2" fill="#fff" fill-opacity="0.8" stroke="#d4d4d4" stroke-width="0.5"/>
<line x1="26" y1="202.6" x2="39.2" y2="202.6" stroke="#1eaaf0" stroke-width="0.5" stroke-opacity="0.8"/>
<line x1="26" y1="212.1" x2="39.2" y2="212.1" stroke="#e3142f" stroke-width="0.9" stroke-opacity="0.5"/>
<text transform="translate(43.8 205.2) scale(1.07 1)" class="g">train</text>
<text transform="translate(43.8 214.3) scale(1.07 1)" class="g">test</text>
<rect x="306.6" y="194.7" width="237.6" height="157.6" fill="#fff" stroke="#b4b4b4" stroke-width="1.05"/>
<line x1="317.4" y1="352" x2="317.4" y2="353.5" stroke="#444" stroke-width="0.5"/>
<text transform="translate(317.4 359.7) scale(0.93 1)" text-anchor="middle" class="t">0</text>
<line x1="360.6" y1="352" x2="360.6" y2="353.5" stroke="#444" stroke-width="0.5"/>
<text transform="translate(360.6 359.7) scale(0.93 1)" text-anchor="middle" class="t">10,000</text>
<line x1="403.8" y1="352" x2="403.8" y2="353.5" stroke="#444" stroke-width="0.5"/>
<text transform="translate(403.8 359.7) scale(0.93 1)" text-anchor="middle" class="t">20,000</text>
<line x1="447" y1="352" x2="447" y2="353.5" stroke="#444" stroke-width="0.5"/>
<text transform="translate(447 359.7) scale(0.93 1)" text-anchor="middle" class="t">30,000</text>
<line x1="490.2" y1="352" x2="490.2" y2="353.5" stroke="#444" stroke-width="0.5"/>
<text transform="translate(490.2 359.7) scale(0.93 1)" text-anchor="middle" class="t">40,000</text>
<line x1="533.4" y1="352" x2="533.4" y2="353.5" stroke="#444" stroke-width="0.5"/>
<text transform="translate(533.4 359.7) scale(0.93 1)" text-anchor="middle" class="t">50,000</text>
<line x1="305.4" y1="345.2" x2="306.9" y2="345.2" stroke="#444" stroke-width="0.5"/>
<text transform="translate(303.5 347.8) scale(0.93 1)" text-anchor="end" class="t">0.0</text>
<line x1="305.4" y1="324.8" x2="306.9" y2="324.8" stroke="#444" stroke-width="0.5"/>
<text transform="translate(303.5 327.4) scale(0.93 1)" text-anchor="end" class="t">2.5</text>
<line x1="305.4" y1="304.4" x2="306.9" y2="304.4" stroke="#444" stroke-width="0.5"/>
<text transform="translate(303.5 307) scale(0.93 1)" text-anchor="end" class="t">5.0</text>
<line x1="305.4" y1="284" x2="306.9" y2="284" stroke="#444" stroke-width="0.5"/>
<text transform="translate(303.5 286.6) scale(0.93 1)" text-anchor="end" class="t">7.5</text>
<line x1="305.4" y1="263.6" x2="306.9" y2="263.6" stroke="#444" stroke-width="0.5"/>
<text transform="translate(303.5 266.2) scale(0.93 1)" text-anchor="end" class="t">10.0</text>
<line x1="305.4" y1="243.2" x2="306.9" y2="243.2" stroke="#444" stroke-width="0.5"/>
<text transform="translate(303.5 245.8) scale(0.93 1)" text-anchor="end" class="t">12.5</text>
<line x1="305.4" y1="222.8" x2="306.9" y2="222.8" stroke="#444" stroke-width="0.5"/>
<text transform="translate(303.5 225.4) scale(0.93 1)" text-anchor="end" class="t">15.0</text>
<line x1="305.4" y1="202.4" x2="306.9" y2="202.4" stroke="#444" stroke-width="0.5"/>
<text transform="translate(303.5 205) scale(0.93 1)" text-anchor="end" class="t">17.5</text>
<text x="425.4" y="368.1" text-anchor="middle" class="l">sample</text>
<text x="425.4" y="374.3" text-anchor="middle" class="c">(d) prediction error of Task4</text>
<text transform="translate(289.2 273.5) rotate(-90)" text-anchor="middle" class="l">value</text>
<polyline points="317.4,345.01 317.49,342.93 317.58,345.06 317.67,344.39 317.76,344.99 317.85,343.9 317.94,344.94 318.03,342.95 318.12,345.05 318.21,343.26 318.3,345.11 318.39,343.03 318.48,344.96 318.57,344.09 318.66,345.02 318.75,342.84 318.84,345.15 318.93,342.58 319.02,345.14 319.11,343.27 319.2,344.95 319.29,344.46 319.38,345.2 319.47,344.17 319.56,344.92 319.65,343.19 319.74,345.02 319.83,343.57 319.92,344.96 320.01,343.35 320.1,345 320.19,340.72 320.28,345.09 320.37,343.32 320.46,345.19 320.55,343.44 320.64,345.14 320.73,343.29 320.82,345.03 320.91,343.46 321,345.05 321.09,342.88 321.18,345.03 321.27,342.91 321.36,345.06 321.45,342.95 321.54,345.19 321.63,343.83 321.72,345.04 321.81,342.93 321.9,344.91 321.99,344.14 322.08,345.04 322.17,343 322.26,345.1 322.35,343.25 322.44,345.08 322.53,343.06 322.62,344.9 322.71,343.34 322.8,345.19 322.89,341.23 322.98,345.07 323.07,341.37 323.16,345.01 323.25,343.81 323.34,344.9 323.43,342.86 323.52,344.98 323.61,343.62 323.7,345.15 323.79,343.99 323.88,345.17 323.97,342.97 324.06,345.18 324.15,343.35 324.24,345.04 324.33,343 324.42,344.97 324.51,344.4 324.6,344.96 324.69,342.55 324.78,344.99 324.87,342.87 324.96,345.09 325.05,342.88 325.14,345.03 325.23,342.87 325.32,345.17 325.41,344.36 325.5,345.17 325.59,344.4 325.68,345.19 325.77,342.77 325.86,345.18 325.95,344.19 326.04,344.94 326.13,342.97 326.22,345.11 326.31,344.05 326.4,344.94 326.49,343.15 326.58,345.01 326.67,344.09 326.76,345.16 326.85,343.78 326.94,345.19 327.03,343.31 327.12,345.2 327.21,342.93 327.3,344.89 327.39,342.98 327.48,345.08 327.57,343.94 327.66,345.1 327.75,343.72 327.84,344.98 327.93,343.77 328.02,345.06 328.11,342.81 328.2,344.97 328.29,343.37 328.38,345.1 328.47,342.96 328.56,345.05 328.65,343.75 328.74,344.92 328.83,343.95 328.92,345.14 329.01,343.94 329.1,345.13 329.19,343.02 329.28,345.15 329.37,343.2 329.47,345.17 329.56,341.52 329.65,344.89 329.74,344.4 329.83,344.99 329.92,342.61 330.01,345.18 330.1,343.49 330.19,345.14 330.28,342.94 330.37,345.04 330.46,343.2 330.55,345.06 330.64,343.69 330.73,344.93 330.82,342.77 330.91,345.19 331,342.84 331.09,345.15 331.18,343.19 331.27,345.05 331.36,343.08 331.45,345.15 331.54,342.95 331.63,345.15 331.72,343.43 331.81,345.09 331.9,343.61 331.99,345.16 332.08,342.82 332.17,345.15 332.26,343.36 332.35,345.19 332.44,342.94 332.53,345.18 332.62,343.69 332.71,345.05 332.8,342.99 332.89,345.12 332.98,344.07 333.07,344.96 333.16,343.84 333.25,345.01 333.34,341.35 333.43,344.94 333.52,342.85 333.61,344.97 333.7,343.73 333.79,344.92 333.88,344.03 333.97,345.13 334.06,342.92 334.15,345.11 334.24,343.58 334.33,344.96 334.42,343.95 334.51,345.04 334.6,343.94 334.69,345.15 334.78,344.09 334.87,345.2 334.96,343.41 335.05,345.13 335.14,344.16 335.23,344.96 335.32,344.11 335.41,344.98 335.5,344.44 335.59,344.97 335.68,344.41 335.77,345.16 335.86,343.84 335.95,345.02 336.04,343.11 336.13,345.18 336.22,343.42 336.31,344.91 336.4,343.6 336.49,344.94 336.58,343.19 336.67,344.98 336.76,344.35 336.85,345.17 336.94,343.37 337.03,345.08 337.12,344.42 337.21,345.08 337.3,343.44 337.39,345.18 337.48,342.57 337.57,345.08 337.66,343.93 337.75,344.96 337.84,344.06 337.93,345.05 338.02,343.99 338.11,344.88 338.2,343.63 338.29,344.98 338.38,343.9 338.47,345 338.56,344.35 338.65,345.13 338.74,344.11 338.83,344.96 338.92,343.31 339.01,345 339.1,343.91 339.19,345.02 339.28,342.61 339.37,344.88 339.46,343.23 339.55,345.02 339.64,343.93 339.73,344.9 339.82,343.11 339.91,345.16 340,343.21 340.09,345.1 340.18,340.86 340.27,344.99 340.36,344.29 340.45,344.97 340.54,342.79 340.63,344.91 340.72,344.34 340.81,344.98 340.9,344.4 340.99,345.19 341.08,343.43 341.17,344.92 341.26,344.34 341.35,344.9 341.44,344.12 341.53,345 341.62,344.43 341.71,345.02 341.8,342.85 341.89,345.06 341.98,344.37 342.07,345.14 342.16,343.37 342.25,344.99 342.34,344.38 342.43,344.89 342.52,343.52 342.61,345.08 342.7,344.27 342.79,344.97 342.88,343.25 342.97,345.18 343.06,344.13 343.15,345.17 343.24,344.2 343.33,345.18 343.42,343.42 343.51,345.04 343.6,343.6 343.69,345.13 343.78,341.37 343.87,345.14 343.96,344.18 344.05,345.06 344.14,342.55 344.23,345.08 344.32,342.75 344.41,345.01 344.5,344.24 344.59,345.08 344.68,343.84 344.77,345.18 344.86,341.23 344.95,344.95 345.04,342.12 345.13,345.15 345.22,343.28 345.31,344.9 345.4,343.54 345.49,345.08 345.58,343.78 345.67,344.97 345.76,343.75 345.85,345.01 345.94,341.26 346.03,345.17 346.12,343.95 346.21,344.98 346.3,343.23 346.39,344.96 346.48,343 346.57,344.99 346.66,343.73 346.75,344.92 346.84,343.61 346.93,344.91 347.02,342.82 347.11,344.9 347.2,342.76 347.29,345.11 347.38,343.4 347.47,345.03 347.56,343.6 347.65,344.88 347.74,344.39 347.83,344.95 347.92,343.84 348.01,345.06 348.1,343.95 348.19,344.94 348.28,342.89 348.37,345.04 348.46,344.22 348.55,344.96 348.64,342.8 348.73,344.94 348.82,344.21 348.91,344.97 349,343.51 349.09,345.1 349.18,344.01 349.27,345.08 349.36,344.26 349.45,345.04 349.54,343.31 349.63,344.91 349.72,341.35 349.81,344.97 349.9,344.23 349.99,344.89 350.08,343.39 350.17,345.19 350.26,344.19 350.35,344.92 350.44,344.26 350.53,345.19 350.62,343.17 350.71,344.99 350.8,341.55 350.89,344.95 350.98,343.99 351.07,344.93 351.16,343.71 351.25,344.88 351.34,343.72 351.43,345.09 351.52,344.38 351.61,345.18 351.7,340.89 351.79,345.07 351.88,341.48 351.97,345.03 352.06,342.81 352.15,345.19 352.24,343.21 352.33,344.9 352.42,344.33 352.51,344.91 352.6,342.84 352.69,345.08 352.78,344.02 352.87,345.05 352.96,343.52 353.05,345.02 353.14,343.17 353.23,345.03 353.32,343.17 353.42,344.9 353.51,343.63 353.6,345.02 353.69,343.9 353.78,345.18 353.87,344.24 353.96,345.13 354.05,343.19 354.14,345.09 354.23,344.35 354.32,345.08 354.41,344.3 354.5,344.99 354.59,343.54 354.68,345.08 354.77,340.93 354.86,345.15 354.95,344.32 355.04,344.99 355.13,343.79 355.22,345.16 355.31,341.21 355.4,345.01 355.49,344.42 355.58,345.1 355.67,343.25 355.76,344.91 355.85,342.56 355.94,344.9 356.03,344.18 356.12,345.08 356.21,343.58 356.3,345.14 356.39,340.97 356.48,344.94 356.57,343.87 356.66,344.89 356.75,343.55 356.84,344.96 356.93,343.24 357.02,344.91 357.11,343.21 357.2,345.03 357.29,343.32 357.38,344.9 357.47,344.16 357.56,344.89 357.65,342.56 357.74,345.08 357.83,343.75 357.92,345.17 358.01,342.46 358.1,345.14 358.19,341.91 358.28,345.09 358.37,344.17 358.46,344.95 358.55,343.74 358.64,344.96 358.73,343.02 358.82,345.05 358.91,343.71 359,345.06 359.09,340.77 359.18,345.08 359.27,343.88 359.36,344.9 359.45,343.42 359.54,345.09 359.63,344.15 359.72,344.96 359.81,343.13 359.9,344.99 359.99,344.45 360.08,345.15 360.17,342.79 360.26,344.96 360.35,343.08 360.44,345.19 360.53,343.03 360.62,345.08 360.71,341.89 360.8,345 360.89,342.8 360.98,345.01 361.07,342.78 361.16,344.98 361.25,342.81 361.34,344.94 361.43,343.04 361.52,345.19 361.61,343.41 361.7,344.95 361.79,340.93 361.88,345.08 361.97,344.02 362.06,345.1 362.15,342.2 362.24,345.09 362.33,343.5 362.42,345.16 362.51,343.76 362.6,345.12 362.69,343.85 362.78,345.15 362.87,341.34 362.96,345.07 363.05,343.1 363.14,345.02 363.23,344.22 363.32,345.14 363.41,343.27 363.5,344.89 363.59,341.68 363.68,345.04 363.77,344.43 363.86,344.95 363.95,343.13 364.04,344.99 364.13,344.02 364.22,345.13 364.31,344.22 364.4,344.89 364.49,344.19 364.58,345.06 364.67,344.37 364.76,345.06 364.85,344.04 364.94,344.91 365.03,342.24 365.12,344.89 365.21,341.02 365.3,345.16 365.39,344.33 365.48,345.18 365.57,344.13 365.66,344.9 365.75,344.11 365.84,345.1 365.93,343.16 366.02,345.18 366.11,344 366.2,345.17 366.29,343.2 366.38,345.03 366.47,344.16 366.56,344.97 366.65,343.98 366.74,344.98 366.83,343.66 366.92,344.89 367.01,343.56 367.1,344.96 367.19,344 367.28,345.09 367.37,343.29 367.46,345.06 367.55,344.26 367.64,345.04 367.73,343.95 367.82,344.88 367.91,342.85 368,344.98 368.09,341.49 368.18,345.09 368.27,343.88 368.36,345 368.45,342.11 368.54,344.98 368.63,343.51 368.72,345.15 368.81,341.52 368.9,345.08 368.99,341.36 369.08,345.08 369.17,341.92 369.26,345.12 369.35,341.07 369.44,345.04 369.53,343.3 369.62,344.92 369.71,343.66 369.8,345.13 369.89,343.63 369.98,344.93 370.07,344.08 370.16,345.19 370.25,343.03 370.34,345.18 370.43,344.1 370.52,344.91 370.61,344.2 370.7,345.14 370.79,343.97 370.88,345.16 370.97,343.53 371.06,345.03 371.15,342.96 371.24,345.02 371.33,341.97 371.42,345.17 371.51,343.68 371.6,345.2 371.69,344.25 371.78,344.89 371.87,342.95 371.96,345.11 372.05,344.31 372.14,345.05 372.23,343.37 372.32,345.09 372.41,344.28 372.5,345.14 372.59,343.09 372.68,345.02 372.77,344.37 372.86,345.16 372.95,343.02 373.04,345.05 373.13,341.38 373.22,344.88 373.31,342.56 373.4,345.17 373.49,343.55 373.58,345.06 373.67,343.65 373.76,344.99 373.85,342.94 373.94,345.14 374.03,344.34 374.12,344.94 374.21,343.12 374.3,344.93 374.39,342.87 374.48,345.2 374.57,344.38 374.66,345.19 374.75,343.66 374.84,345.16 374.93,344.05 375.02,345.01 375.11,343.21 375.2,345.16 375.29,341.31 375.38,345.02 375.47,344.13 375.56,344.97 375.65,342.86 375.74,345.04 375.83,341.34 375.92,345.01 376.01,343.48 376.1,345.13 376.19,342 376.28,345.14 376.37,343.81 376.46,345.1 376.55,344.23 376.64,345.08 376.73,343.55 376.82,344.99 376.91,344.21 377,345.16 377.09,342.49 377.18,345.06 377.27,342.89 377.36,345.02 377.46,344.42 377.55,345.11 377.64,344.33 377.73,344.91 377.82,340.88 377.91,344.94 378,343.25 378.09,345.14 378.18,342.86 378.27,345.05 378.36,343.55 378.45,345 378.54,343.56 378.63,345.12 378.72,344.35 378.81,345 378.9,342.87 378.99,345.16 379.08,341.51 379.17,345.06 379.26,344.44 379.35,344.93 379.44,343.35 379.53,344.93 379.62,342.8 379.71,345.07 379.8,343.35 379.89,345.11 379.98,342.77 380.07,344.99 380.16,343.63 380.25,344.96 380.34,343.9 380.43,345.05 380.52,342.79 380.61,345.17 380.7,343.96 380.79,345.09 380.88,342.54 380.97,344.96 381.06,343.7 381.15,344.88 381.24,344.26 381.33,344.95 381.42,342.77 381.51,345.1 381.6,342.91 381.69,344.97 381.78,343.25 381.87,344.93 381.96,343.44 382.05,345.09 382.14,344.2 382.23,345.1 382.32,343.89 382.41,344.98 382.5,343.54 382.59,345.11 382.68,344.28 382.77,344.9 382.86,342.82 382.95,344.98 383.04,343.95 383.13,345.13 383.22,343.5 383.31,345.13 383.4,343.36 383.49,345.12 383.58,344.16 383.67,344.95 383.76,344.34 383.85,345.2 383.94,342.98 384.03,345.08 384.12,344.43 384.21,345.01 384.3,344.18 384.39,344.96 384.48,342.82 384.57,345.09 384.66,343.3 384.75,345.03 384.84,344.01 384.93,344.91 385.02,342.87 385.11,345.18 385.2,343.4 385.29,345.19 385.38,344.46 385.47,345.02 385.56,344.32 385.65,345.03 385.74,342.95 385.83,344.88 385.92,342.87 386.01,344.98 386.1,343.9 386.19,344.96 386.28,343.18 386.37,345.07 386.46,342.61 386.55,345.01 386.64,343.78 386.73,345.02 386.82,343.11 386.91,344.96 387,342.84 387.09,345 387.18,343.64 387.27,345.13 387.36,341.12 387.45,345.13 387.54,343.41 387.63,344.98 387.72,341.41 387.81,345.15 387.9,344.23 387.99,345.01 388.08,344.37 388.17,344.93 388.26,343.66 388.35,345.17 388.44,343.41 388.53,344.91 388.62,343.7 388.71,345.13 388.8,344.45 388.89,345.15 388.98,343.64 389.07,345.19 389.16,344.02 389.25,344.9 389.34,344.32 389.43,345.11 389.52,341.9 389.61,345.08 389.7,343.17 389.79,345.04 389.88,344.21 389.97,345.1 390.06,343.24 390.15,344.99 390.24,342.93 390.33,344.88 390.42,344.07 390.51,345.05 390.6,343.47 390.69,345.13 390.78,343.87 390.87,345.03 390.96,342.91 391.05,345.14 391.14,342.16 391.23,345.08 391.32,344.09 391.41,345.05 391.5,343.54 391.59,345.19 391.68,342.9 391.77,344.95 391.86,342.86 391.95,345.03 392.04,341.97 392.13,344.95 392.22,342.92 392.31,345.07 392.4,342.35 392.49,344.88 392.58,344.02 392.67,345.05 392.76,343.76 392.85,345.05 392.94,343.99 393.03,345.18 393.12,344.08 393.21,345.03 393.3,343.9 393.39,345.06 393.48,343.99 393.57,345.06 393.66,343.76 393.75,345.12 393.84,344.14 393.93,345.14 394.02,344.07 394.11,345.08 394.2,344.08 394.29,345.12 394.38,343.31 394.47,345.06 394.56,341.58 394.65,345.15 394.74,344.04 394.83,344.91 394.92,343.03 395.01,345.15 395.1,343.77 395.19,345.01 395.28,342.96 395.37,344.98 395.46,343.46 395.55,345.15 395.64,342.85 395.73,345.15 395.82,343.82 395.91,344.9 396,343.64 396.09,345.04 396.18,344.37 396.27,345.18 396.36,343.21 396.45,345.14 396.54,343.67 396.63,344.9 396.72,343.94 396.81,345.13 396.9,343.13 396.99,345.04 397.08,343.08 397.17,344.91 397.26,343.59 397.35,345.15 397.44,343.95 397.53,345.18 397.62,343.87 397.71,344.99 397.8,343.11 397.89,345.04 397.98,343.87 398.07,344.95 398.16,341.48 398.25,345.19 398.34,344.22 398.43,345.08 398.52,343.43 398.61,344.94 398.7,343.37 398.79,345 398.88,343.26 398.97,344.89 399.06,343.09 399.15,344.89 399.24,344.28 399.33,344.9 399.42,341.38 399.51,344.99 399.6,342.94 399.69,345.17 399.78,340.72 399.87,345.13 399.96,344.09 400.05,344.93 400.14,343.4 400.23,345.03 400.32,343.75 400.41,344.95 400.5,344.21 400.59,345.04 400.68,342 400.77,345.06 400.86,343.12 400.95,345.03 401.04,344.26 401.13,345.1 401.22,342.78 401.31,344.97 401.41,343.53 401.5,345.17 401.59,344.42 401.68,344.95 401.77,340.87 401.86,345 401.95,343.6 402.04,344.98 402.13,342.09 402.22,344.89 402.31,343.14 402.4,344.96 402.49,342.82 402.58,345.19 402.67,343.65 402.76,345 402.85,342.63 402.94,345.08 403.03,343.62 403.12,344.93 403.21,344.39 403.3,345 403.39,342.86 403.48,344.96 403.57,341.84 403.66,344.95 403.75,343.49 403.84,345.13 403.93,343 404.02,345.05 404.11,343.46 404.2,344.89 404.29,341.66 404.38,344.98 404.47,340.8 404.56,344.98 404.65,344.11 404.74,345.2 404.83,344.42 404.92,345.13 405.01,344.46 405.1,345.07 405.19,344.26 405.28,344.89 405.37,343.16 405.46,345.19 405.55,344.29 405.64,345.03 405.73,344.19 405.82,345.07 405.91,344.21 406,345.07 406.09,341.31 406.18,345.06 406.27,344.32 406.36,345.1 406.45,344.24 406.54,345.01 406.63,343.41 406.72,345 406.81,344.39 406.9,345.16 406.99,343.85 407.08,345.18 407.17,343.98 407.26,345.13 407.35,342.87 407.44,345.01 407.53,344.14 407.62,344.96 407.71,343.58 407.8,345.04 407.89,342.99 407.98,345.15 408.07,343.13 408.16,345.07 408.25,342.95 408.34,345.2 408.43,344.37 408.52,345.15 408.61,343.39 408.7,344.97 408.79,343.89 408.88,344.99 408.97,343.01 409.06,344.96 409.15,342.82 409.24,344.96 409.33,343.01 409.42,345.11 409.51,343.41 409.6,345.13 409.69,344.45 409.78,345.1 409.87,341.74 409.96,345.13 410.05,343.58 410.14,344.95 410.23,342.89 410.32,345.16 410.41,343.37 410.5,345.09 410.59,342.06 410.68,345.2 410.77,341.43 410.86,345.12 410.95,343.29 411.04,345.19 411.13,343.49 411.22,345 411.31,342.06 411.4,344.97 411.49,344.11 411.58,344.95 411.67,344.05 411.76,344.88 411.85,344.26 411.94,344.88 412.03,342.54 412.12,344.88 412.21,342.98 412.3,345.05 412.39,343.19 412.48,345.1 412.57,342.93 412.66,345.14 412.75,343.9 412.84,345.03 412.93,343.03 413.02,345.04 413.11,343.17 413.2,344.88 413.29,343.49 413.38,344.97 413.47,343.81 413.56,345.1 413.65,343.22 413.74,344.91 413.83,343.76 413.92,345.04 414.01,343.02 414.1,345.18 414.19,344.3 414.28,344.96 414.37,343.99 414.46,344.91 414.55,343.48 414.64,345.07 414.73,341.29 414.82,345.08 414.91,343.11 415,345.05 415.09,343.55 415.18,345.2 415.27,344.2 415.36,344.97 415.45,343.82 415.54,344.87 415.63,344.19 415.72,344.99 415.81,341.66 415.9,345.02 415.99,343.18 416.08,344.95 416.17,343.13 416.26,345.12 416.35,343.25 416.44,344.99 416.53,342.84 416.62,345.13 416.71,343.76 416.8,345.09 416.89,343.69 416.98,345.1 417.07,343.4 417.16,344.92 417.25,343.86 417.34,345.11 417.43,342.13 417.52,344.9 417.61,343.61 417.7,345.18 417.79,342.79 417.88,345 417.97,342.81 418.06,344.93 418.15,343.87 418.24,345.19 418.33,343.34 418.42,344.95 418.51,342.83 418.6,345.14 418.69,343.86 418.78,345.03 418.87,344.08 418.96,345.15 419.05,343.48 419.14,345.1 419.23,342.78 419.32,345.11 419.41,344.46 419.5,345.05 419.59,343.69 419.68,344.93 419.77,343.63 419.86,345.16 419.95,343.25 420.04,345.04 420.13,343.7 420.22,345.02 420.31,343.18 420.4,345.16 420.49,341.99 420.58,345.01 420.67,342.9 420.76,344.92 420.85,342.77 420.94,345.03 421.03,343.68 421.12,345.18 421.21,344.36 421.3,345.02 421.39,343.48 421.48,345.06 421.57,343.64 421.66,344.97 421.75,343.21 421.84,344.98 421.93,342.37 422.02,345.07 422.11,343.33 422.2,344.89 422.29,343.87 422.38,345.1 422.47,342.94 422.56,344.96 422.65,343.1 422.74,345.04 422.83,344.07 422.92,345.01 423.01,343.53 423.1,345.14 423.19,342.59 423.28,345.05 423.37,343.4 423.46,345.1 423.55,341.59 423.64,345.01 423.73,344.25 423.82,344.99 423.91,341.62 424,345.1 424.09,344.36 424.18,344.95 424.27,343.89 424.36,344.87 424.45,343.1 424.54,345.17 424.63,343.97 424.72,344.91 424.81,344.36 424.9,345.02 424.99,344.19 425.08,345 425.17,344.18 425.26,345.01 425.35,344.39 425.45,344.88 425.54,342.97 425.63,345.14 425.72,343.37 425.81,345.01 425.9,341.51 425.99,344.89 426.08,342.85 426.17,344.88 426.26,343.44 426.35,345.06 426.44,344.25 426.53,344.96 426.62,342.86 426.71,344.92 426.8,343.09 426.89,344.94 426.98,343.63 427.07,344.95 427.16,343.49 427.25,345.07 427.34,343.64 427.43,345.14 427.52,343.64 427.61,345.06 427.7,343.06 427.79,344.91 427.88,344.39 427.97,344.96 428.06,344.24 428.15,344.9 428.24,343 428.33,345.01 428.42,343.82 428.51,344.92 428.6,342.91 428.69,344.98 428.78,343.2 428.87,344.99 428.96,344.33 429.05,344.96 429.14,343.31 429.23,345.12 429.32,341.2 429.41,344.94 429.5,343.29 429.59,344.95 429.68,341.43 429.77,344.94 429.86,344.32 429.95,345.11 430.04,344.42 430.13,345.16 430.22,342.83 430.31,344.99 430.4,343.13 430.49,344.97 430.58,344.23 430.67,345.13 430.76,343.44 430.85,344.88 430.94,343.59 431.03,345.15 431.12,343.16 431.21,345.08 431.3,343.88 431.39,345.08 431.48,343.97 431.57,345.15 431.66,343.64 431.75,345.06 431.84,340.92 431.93,344.94 432.02,344.35 432.11,344.93 432.2,342.81 432.29,345.15 432.38,343.7 432.47,344.89 432.56,342.84 432.65,344.89 432.74,344.3 432.83,345.11 432.92,343.29 433.01,345.08 433.1,343.57 433.19,344.9 433.28,344.38 433.37,344.92 433.46,342.92 433.55,344.97 433.64,343.54 433.73,345.15 433.82,341.8 433.91,344.93 434,344.05 434.09,344.95 434.18,343.49 434.27,345.17 434.36,343.06 434.45,345.05 434.54,342.82 434.63,345.01 434.72,343.66 434.81,345.07 434.9,344.35 434.99,344.94 435.08,344.15 435.17,344.88 435.26,341.93 435.35,345.13 435.44,343.03 435.53,345.14 435.62,343.63 435.71,345.05 435.8,343.43 435.89,344.91 435.98,341.47 436.07,344.95 436.16,344.01 436.25,345.02 436.34,343.1 436.43,345.02 436.52,342.99 436.61,344.91 436.7,342.88 436.79,344.91 436.88,343.68 436.97,344.94 437.06,344.16 437.15,344.92 437.24,343.01 437.33,345.1 437.42,344.35 437.51,345.02 437.6,341.13 437.69,345.04 437.78,343.91 437.87,344.95 437.96,342.91 438.05,345.09 438.14,344.33 438.23,344.94 438.32,344.13 438.41,345.09 438.5,342.98 438.59,345.09 438.68,341.87 438.77,345.13 438.86,343.15 438.95,344.97 439.04,342.7 439.13,345.16 439.22,344.15 439.31,345.08 439.4,342.91 439.49,344.97 439.58,343.27 439.67,345.07 439.76,344.13 439.85,345.01 439.94,343.6 440.03,344.94 440.12,343.3 440.21,345.02 440.3,343.6 440.39,345.02 440.48,344.39 440.57,345.06 440.66,344.12 440.75,344.94 440.84,343.13 440.93,345.06 441.02,343.39 441.11,345 441.2,344.15 441.29,345.12 441.38,342.92 441.47,345.16 441.56,344.35 441.65,344.95 441.74,343.69 441.83,345.1 441.92,343.26 442.01,344.98 442.1,343.76 442.19,345.08 442.28,344.24 442.37,344.94 442.46,343.29 442.55,344.92 442.64,343.2 442.73,345.05 442.82,343.52 442.91,344.95 443,342.34 443.09,344.96 443.18,344.09 443.27,344.89 443.36,343.61 443.45,344.97 443.54,343.03 443.63,345.05 443.72,343.84 443.81,345.18 443.9,343.73 443.99,345.17 444.08,344.36 444.17,344.92 444.26,344.25 444.35,345.07 444.44,344.09 444.53,345.03 444.62,342.9 444.71,345.19 444.8,341.99 444.89,345.14 444.98,343.67 445.07,344.88 445.16,343.16 445.25,344.9 445.34,342.97 445.43,345.16 445.52,343.27 445.61,344.93 445.7,343.94 445.79,345.06 445.88,344.25 445.97,345.11 446.06,342.74 446.15,345.18 446.24,343.84 446.33,345.08 446.42,344.27 446.51,344.97 446.6,343.8 446.69,345.04 446.78,342.88 446.87,345.11 446.96,344.41 447.05,345.06 447.14,343.32 447.23,345.16 447.32,342.91 447.41,344.97 447.5,343.86 447.59,345.14 447.68,342.17 447.77,345.09 447.86,341.68 447.95,345.01 448.04,344.03 448.13,345.05 448.22,342.65 448.31,344.91 448.4,343.85 448.49,345.06 448.58,343.95 448.67,345.11 448.76,343.68 448.85,344.88 448.94,344.39 449.03,345.04 449.12,343.28 449.21,345.17 449.3,344.03 449.39,345.17 449.49,344.01 449.58,344.99 449.67,343.74 449.76,344.92 449.85,341.1 449.94,345.16 450.03,343.2 450.12,344.98 450.21,344.43 450.3,345.11 450.39,343.73 450.48,344.99 450.57,343.12 450.66,345.1 450.75,343.06 450.84,344.91 450.93,343.36 451.02,345.05 451.11,343.95 451.2,345.2 451.29,341.95 451.38,345.01 451.47,344.33 451.56,345.03 451.65,343.68 451.74,345.08 451.83,343.87 451.92,345.19 452.01,344.14 452.1,344.92 452.19,343.14 452.28,344.94 452.37,341.35 452.46,345.1 452.55,344.3 452.64,344.96 452.73,343.25 452.82,345.12 452.91,343.22 453,344.98 453.09,343.61 453.18,344.9 453.27,343.51 453.36,345.18 453.45,343.11 453.54,345.02 453.63,344.14 453.72,345.12 453.81,341.42 453.9,344.95 453.99,344.33 454.08,345 454.17,343.31 454.26,344.94 454.35,342.78 454.44,345.11 454.53,343.35 454.62,345.16 454.71,344.35 454.8,345.02 454.89,343.46 454.98,344.91 455.07,342.9 455.16,344.97 455.25,343.87 455.34,344.99 455.43,344.44 455.52,344.98 455.61,344.24 455.7,345.07 455.79,343.41 455.88,345.2 455.97,341.72 456.06,345.19 456.15,343.92 456.24,344.88 456.33,343.08 456.42,345.1 456.51,342.86 456.6,344.97 456.69,343.37 456.78,345.14 456.87,344.41 456.96,345.08 457.05,343.44 457.14,345.08 457.23,343.25 457.32,345.06 457.41,344.44 457.5,345.17 457.59,342.81 457.68,345.09 457.77,343.64 457.86,345.05 457.95,343.02 458.04,345.06 458.13,343.29 458.22,345.04 458.31,343.58 458.4,345.05 458.49,343.64 458.58,345.11 458.67,343.11 458.76,344.93 458.85,343.44 458.94,345.04 459.03,343.51 459.12,345.15 459.21,343.86 459.3,344.96 459.39,341.99 459.48,344.92 459.57,343.11 459.66,344.98 459.75,343.19 459.84,345.14 459.93,341.93 460.02,345.19 460.11,342.89 460.2,345.12 460.29,343.59 460.38,345.11 460.47,342.85 460.56,345.11 460.65,343.47 460.74,345.11 460.83,344.41 460.92,344.98 461.01,344.27 461.1,345.12 461.19,344.33 461.28,345.05 461.37,342.93 461.46,344.93 461.55,343.96 461.64,345.1 461.73,344.19 461.82,345.19 461.91,343.37 462,345.03 462.09,343.45 462.18,344.99 462.27,340.97 462.36,345.05 462.45,343.02 462.54,345.18 462.63,342.89 462.72,344.89 462.81,343.84 462.9,345.15 462.99,341.56 463.08,345.05 463.17,343.76 463.26,345.13 463.35,343.8 463.44,345.01 463.53,344.28 463.62,345.1 463.71,343.2 463.8,344.9 463.89,342.85 463.98,345.1 464.07,341.42 464.16,345.09 464.25,342.86 464.34,345.03 464.43,343.25 464.52,345.11 464.61,342.25 464.7,345.14 464.79,343.92 464.88,345.09 464.97,343.42 465.06,345.01 465.15,341.73 465.24,344.87 465.33,343.5 465.42,344.95 465.51,344.04 465.6,344.91 465.69,344.17 465.78,344.88 465.87,343.05 465.96,345.18 466.05,342.83 466.14,345.01 466.23,342.92 466.32,345.01 466.41,344.03 466.5,344.98 466.59,343.15 466.68,344.9 466.77,342.75 466.86,345.08 466.95,344.19 467.04,344.9 467.13,344.05 467.22,345.15 467.31,343.51 467.4,344.98 467.49,342.9 467.58,345.2 467.67,343.58 467.76,344.95 467.85,344.45 467.94,344.93 468.03,344.25 468.12,344.98 468.21,343.25 468.3,344.93 468.39,342.89 468.48,345.18 468.57,341.61 468.66,344.89 468.75,344.29 468.84,345.09 468.93,343.49 469.02,345.1 469.11,343.17 469.2,345.2 469.29,342.08 469.38,344.92 469.47,343.85 469.56,345.15 469.65,344.46 469.74,345.08 469.83,342.83 469.92,345.07 470.01,343.98 470.1,345.15 470.19,343.5 470.28,344.95 470.37,343.14 470.46,345 470.55,344.06 470.64,344.99 470.73,344.26 470.82,345.08 470.91,343.8 471,345.03 471.09,344.05 471.18,345.12 471.27,344.29 471.36,344.98 471.45,343.68 471.54,345.06 471.63,344.27 471.72,345.04 471.81,344.21 471.9,345.02 471.99,342.92 472.08,345.1 472.17,342.86 472.26,344.91 472.35,343.44 472.44,345.06 472.53,343.4 472.62,345.04 472.71,341.01 472.8,344.92 472.89,344.1 472.98,345.14 473.07,341.11 473.16,344.88 473.25,343.67 473.34,344.94 473.44,343.67 473.53,345.17 473.62,343.8 473.71,345.04 473.8,343.09 473.89,344.91 473.98,342.46 474.07,345.01 474.16,344.09 474.25,344.98 474.34,343.93 474.43,344.99 474.52,343.41 474.61,345.01 474.7,344.32 474.79,345.03 474.88,344.31 474.97,345.08 475.06,341.3 475.15,345.06 475.24,344.04 475.33,345.18 475.42,344.12 475.51,344.97 475.6,342.94 475.69,345.07 475.78,344.28 475.87,344.91 475.96,342.01 476.05,344.9 476.14,341.36 476.23,345.06 476.32,342.55 476.41,345.1 476.5,343.83 476.59,345.14 476.68,343.16 476.77,344.95 476.86,343.87 476.95,345.05 477.04,343.11 477.13,345.05 477.22,343.37 477.31,344.96 477.4,342.73 477.49,345.19 477.58,342.57 477.67,344.88 477.76,344.23 477.85,344.91 477.94,344.2 478.03,344.91 478.12,343.42 478.21,344.9 478.3,343.18 478.39,344.98 478.48,342.76 478.57,345.14 478.66,343.56 478.75,344.95 478.84,344.16 478.93,345.04 479.02,342.88 479.11,344.88 479.2,343.81 479.29,344.94 479.38,343.92 479.47,344.97 479.56,341.45 479.65,345.12 479.74,344.02 479.83,345.09 479.92,343.16 480.01,345.17 480.1,343.43 480.19,344.93 480.28,343.59 480.37,344.92 480.46,343.41 480.55,345.01 480.64,343.6 480.73,344.87 480.82,341.97 480.91,344.96 481,344.42 481.09,345.18 481.18,341.24 481.27,344.91 481.36,341.65 481.45,345.17 481.54,342.87 481.63,345.05 481.72,344.41 481.81,345.08 481.9,344.12 481.99,345.06 482.08,343.4 482.17,345.13 482.26,343.56 482.35,345.07 482.44,343.79 482.53,345.16 482.62,344.39 482.71,345.07 482.8,343.39 482.89,345.04 482.98,343.39 483.07,344.97 483.16,343.01 483.25,344.92 483.34,343.26 483.43,345.12 483.52,342.02 483.61,344.97 483.7,340.78 483.79,344.91 483.88,343.78 483.97,344.92 484.06,344.03 484.15,345.14 484.24,343.53 484.33,345.19 484.42,343.68 484.51,345.12 484.6,342.96 484.69,345.08 484.78,343.15 484.87,345.19 484.96,343.92 485.05,344.95 485.14,343.7 485.23,345.09 485.32,344.3 485.41,345.09 485.5,343.61 485.59,344.89 485.68,343.04 485.77,345.14 485.86,344.38 485.95,345.15 486.04,343.84 486.13,344.99 486.22,343.8 486.31,345.15 486.4,341.04 486.49,344.98 486.58,343.64 486.67,345.13 486.76,342.89 486.85,345.08 486.94,342.67 487.03,344.92 487.12,343.16 487.21,345.18 487.3,341.19 487.39,345.08 487.48,344.1 487.57,345.12 487.66,343.49 487.75,345.05 487.84,343.25 487.93,344.89 488.02,343.3 488.11,345.14 488.2,343.04 488.29,345.01 488.38,343.99 488.47,344.91 488.56,343.76 488.65,345.09 488.74,344.02 488.83,345.01 488.92,344.43 489.01,344.88 489.1,342.93 489.19,344.95 489.28,343.09 489.37,345.06 489.46,343.01 489.55,345.03 489.64,343.34 489.73,345.02 489.82,343.2 489.91,345 490,343.75 490.09,344.92 490.18,343.77 490.27,344.95 490.36,343.57 490.45,345.01 490.54,341.99 490.63,345.09 490.72,341.28 490.81,344.89 490.9,343.94 490.99,344.92 491.08,343.36 491.17,345.04 491.26,342.79 491.35,345.16 491.44,344.09 491.53,344.88 491.62,343.59 491.71,344.96 491.8,343.71 491.89,344.9 491.98,343.12 492.07,345.02 492.16,341.41 492.25,344.99 492.34,343.37 492.43,345.06 492.52,343.93 492.61,345.16 492.7,343.43 492.79,345.19 492.88,342.62 492.97,345.18 493.06,342.64 493.15,345.03 493.24,344.15 493.33,344.96 493.42,343.29 493.51,344.9 493.6,343.34 493.69,344.99 493.78,342.09 493.87,345.09 493.96,342.18 494.05,345.15 494.14,343.73 494.23,345.13 494.32,344.03 494.41,345.19 494.5,343.79 494.59,344.96 494.68,343.88 494.77,345.05 494.86,343.32 494.95,345.13 495.04,343.32 495.13,344.88 495.22,342.92 495.31,345.11 495.4,343.07 495.49,345.01 495.58,342.04 495.67,345.15 495.76,344.27 495.85,344.91 495.94,343.73 496.03,344.91 496.12,343.2 496.21,344.99 496.3,343.22 496.39,345.1 496.48,344.04 496.57,345.06 496.66,341.24 496.75,344.96 496.84,343.9 496.93,345.12 497.02,342.96 497.11,344.92 497.2,344 497.29,344.88 497.38,343.8 497.48,345.08 497.57,343.17 497.66,345.02 497.75,342.8 497.84,344.95 497.93,344.2 498.02,345.13 498.11,343.14 498.2,344.98 498.29,343.74 498.38,344.92 498.47,344.44 498.56,344.91 498.65,344.43 498.74,344.9 498.83,343.29 498.92,344.91 499.01,343.55 499.1,345.2 499.19,343.83 499.28,344.92 499.37,341.63 499.46,344.93 499.55,343.11 499.64,345.14 499.73,343.5 499.82,344.96 499.91,344.01 500,345.14 500.09,344.15 500.18,345 500.27,341.62 500.36,345.14 500.45,343.95 500.54,345.07 500.63,343.89 500.72,344.91 500.81,344.3 500.9,344.94 500.99,342.77 501.08,345.01 501.17,342.57 501.26,345.02 501.35,344.14 501.44,344.87 501.53,343.98 501.62,345.19 501.71,344.05 501.8,345.05 501.89,344.38 501.98,344.93 502.07,343.94 502.16,345.18 502.25,343.95 502.34,345.19 502.43,343.66 502.52,344.89 502.61,344.22 502.7,344.88 502.79,344.06 502.88,344.89 502.97,341.01 503.06,345.16 503.15,341.92 503.24,345.09 503.33,343.23 503.42,345.09 503.51,343.59 503.6,345.04 503.69,343.96 503.78,344.88 503.87,343.62 503.96,345.12 504.05,343.36 504.14,345.09 504.23,343.05 504.32,344.99 504.41,342.85 504.5,344.93 504.59,342.9 504.68,345.14 504.77,344.16 504.86,344.89 504.95,342.89 505.04,344.89 505.13,343 505.22,344.99 505.31,343.15 505.4,345.12 505.49,343.13 505.58,344.98 505.67,343.2 505.76,344.93 505.85,344.24 505.94,345.09 506.03,342.96 506.12,345.15 506.21,344.12 506.3,345.15 506.39,341.52 506.48,345 506.57,343.27 506.66,344.96 506.75,342.99 506.84,345.18 506.93,341.4 507.02,345.14 507.11,342.94 507.2,345.14 507.29,343.18 507.38,345.13 507.47,341.9 507.56,344.99 507.65,343.62 507.74,345.08 507.83,340.87 507.92,345.19 508.01,343.81 508.1,345.19 508.19,344.29 508.28,345.01 508.37,343.69 508.46,344.98 508.55,343.73 508.64,344.93 508.73,341.19 508.82,345.16 508.91,344.08 509,344.92 509.09,343.98 509.18,344.88 509.27,343.3 509.36,345.05 509.45,343.45 509.54,345.11 509.63,343.12 509.72,345.06 509.81,342.97 509.9,345.17 509.99,344.19 510.08,344.94 510.17,343.14 510.26,345.18 510.35,343.54 510.44,344.98 510.53,342.79 510.62,345.01 510.71,344.36 510.8,344.91 510.89,343.7 510.98,345.04 511.07,344.32 511.16,345.06 511.25,343.11 511.34,344.88 511.43,342.94 511.52,345.03 511.61,343.94 511.7,345.13 511.79,343.8 511.88,344.92 511.97,341.06 512.06,345.08 512.15,343.68 512.24,345.07 512.33,343.02 512.42,345.03 512.51,343.61 512.6,345.11 512.69,344.03 512.78,344.98 512.87,342.94 512.96,344.96 513.05,344.01 513.14,345.08 513.23,343.84 513.32,345.05 513.41,343.11 513.5,344.94 513.59,343.53 513.68,345.17 513.77,342.94 513.86,344.92 513.95,343.82 514.04,345.17 514.13,343.3 514.22,344.89 514.31,343.25 514.4,345.07 514.49,343.49 514.58,344.9 514.67,343.42 514.76,344.92 514.85,343.94 514.94,345.11 515.03,342.99 515.12,345.11 515.21,342.62 515.3,344.92 515.39,341.71 515.48,345.08 515.57,343.89 515.66,345.06 515.75,342.98 515.84,345.11 515.93,343.61 516.02,344.89 516.11,344.26 516.2,344.99 516.29,342.91 516.38,345.17 516.47,342.93 516.56,345.16 516.65,343.93 516.74,345.19 516.83,342.9 516.92,345.13 517.01,344.45 517.1,344.88 517.19,343.86 517.28,345.1 517.37,343.48 517.46,345.08 517.55,344.38 517.64,345.15 517.73,342.98 517.82,345.01 517.91,343.11 518,345.04 518.09,341.8 518.18,345.05 518.27,341.58 518.36,344.97 518.45,343.36 518.54,345.15 518.63,343.66 518.72,344.91 518.81,343.96 518.9,345.05 518.99,344.2 519.08,344.92 519.17,344.01 519.26,344.9 519.35,343.12 519.44,344.95 519.53,343.32 519.62,345.19 519.71,343.06 519.8,344.91 519.89,343.69 519.98,344.93 520.07,343.03 520.16,344.93 520.25,342.84 520.34,345.14 520.43,343.65 520.52,344.91 520.61,344.18 520.7,345.07 520.79,343.43 520.88,345.16 520.97,342.88 521.06,345.11 521.15,344.26 521.24,345.08 521.33,343.03 521.43,344.93 521.52,343.42 521.61,345.19 521.7,343.12 521.79,345.11 521.88,343.2 521.97,345.12 522.06,343.71 522.15,344.89 522.24,343.79 522.33,345.12 522.42,343.79 522.51,345 522.6,344.42 522.69,344.99 522.78,342.89 522.87,345.05 522.96,343.79 523.05,344.88 523.14,343.24 523.23,344.98 523.32,342.49 523.41,345.16 523.5,343.1 523.59,344.95 523.68,340.85 523.77,344.96 523.86,343.36 523.95,345.14 524.04,343.92 524.13,345.09 524.22,343.87 524.31,344.88 524.4,342.89 524.49,345.16 524.58,343.9 524.67,345.03 524.76,343.69 524.85,345.11 524.94,342.83 525.03,344.88 525.12,341.18 525.21,344.95 525.3,342.82 525.39,345.14 525.48,344.42 525.57,345.03 525.66,343.38 525.75,344.9 525.84,343.06 525.93,345.04 526.02,343.16 526.11,345.14 526.2,343.75 526.29,344.93 526.38,342.07 526.47,344.99 526.56,344.28 526.65,345.16 526.74,342.85 526.83,345.06 526.92,343.48 527.01,344.93 527.1,343.32 527.19,345.03 527.28,344.39 527.37,344.88 527.46,344.23 527.55,344.92 527.64,343.11 527.73,345.1 527.82,344.21 527.91,344.99 528,344.02 528.09,345.14 528.18,343.3 528.27,345.1 528.36,344.35 528.45,345.09 528.54,343.49 528.63,344.9 528.72,343.73 528.81,345.17 528.9,343.22 528.99,344.96 529.08,342.86 529.17,345.05 529.26,343.89 529.35,345.19 529.44,343.15 529.53,344.97 529.62,343.74 529.71,345.18 529.8,342.08 529.89,344.94 529.98,343.31 530.07,345.04 530.16,342.96 530.25,345.12 530.34,341.85 530.43,344.95 530.52,343.88 530.61,345.08 530.7,343.44 530.79,345.08 530.88,342.79 530.97,345.02 531.06,344.08 531.15,345.12 531.24,344.43 531.33,345.09 531.42,344.23 531.51,344.88 531.6,342.95 531.69,345.12 531.78,341.39 531.87,345.03 531.96,343.72 532.05,344.97 532.14,344.38 532.23,345.15 532.32,344.19 532.41,345.09 532.5,341.18 532.59,345.08 532.68,341.79 532.77,345.05 532.86,344.32 532.95,345.07 533.04,342.99 533.13,345.03 533.22,343.82 533.31,345.19 533.4,343.31" fill="none" stroke="#1eaaf0" stroke-width="0.55" stroke-opacity="1" stroke-linejoin="round"/>
<polyline points="317.4,344.9 317.48,342.24 317.57,345.2 317.65,342.84 317.73,345 317.82,344.33 317.9,345.16 317.98,342.71 318.06,345.17 318.15,343.36 318.23,345.03 318.31,343.15 318.4,345.19 318.48,342.91 318.56,345.14 318.65,343.5 318.73,345.03 318.81,343 318.9,344.95 318.98,342.7 319.06,345.14 319.15,343.87 319.23,345 319.31,344.43 319.39,345 319.48,342.94 319.56,345.19 319.64,344.26 319.73,345.08 319.81,343.77 319.89,345.17 319.98,344.25 320.06,345.14 320.14,343.69 320.23,345.15 320.31,342.7 320.39,345.17 320.48,343.83 320.56,345.12 320.64,344.11 320.72,345.11 320.81,344.4 320.89,344.98 320.97,341.66 321.06,345.05 321.14,342.77 321.22,345.01 321.31,343.69 321.39,344.95 321.47,343.61 321.56,345.16 321.64,343.39 321.72,345.13 321.8,340.65 321.89,345.15 321.97,343.72 322.05,345.18 322.14,342.31 322.22,345.04 322.3,342.74 322.39,344.89 322.47,343.63 322.55,344.94 322.64,343.35 322.72,344.9 322.8,343.59 322.89,345.18 322.97,344.43 323.05,344.95 323.13,343.52 323.22,345.18 323.3,344.34 323.38,344.94 323.47,342.92 323.55,345.16 323.63,343.57 323.72,345.12 323.8,343.27 323.88,344.98 323.97,342.86 324.05,345.12 324.13,343.14 324.21,345.1 324.3,343.54 324.38,345.19 324.46,342.68 324.55,344.91 324.63,343.41 324.71,345.16 324.8,343.7 324.88,345 324.96,344.04 325.05,345 325.13,340.43 325.21,344.98 325.3,343.87 325.38,345.16 325.46,343.84 325.54,344.98 325.63,343.29 325.71,344.99 325.79,343.66 325.88,345.04 325.96,343.23 326.04,345.09 326.13,343.43 326.21,344.88 326.29,344.74 326.38,345.18 326.46,345.03 326.54,345.18 326.63,344.85 326.71,345.19 326.79,344.8 326.87,345.19 326.96,344.35 327.04,345.18 327.12,344.84 327.21,345.18 327.29,344.77 327.37,345.17 327.46,344.92 327.54,345.19 327.62,344.92 327.71,345.15 327.79,344.81 327.87,345.15 327.95,345.02 328.04,345.2 328.12,345.03 328.2,345.16 328.29,344.95 328.37,345.14 328.45,345.01 328.54,345.2 328.62,344.92 328.7,345.19 328.79,344.74 328.87,345.16 328.95,344.77 329.04,345.19 329.12,344.65 329.2,345.18 329.28,344.65 329.37,345.17 329.45,344.77 329.53,345.15 329.62,344.66 329.7,345.15 329.78,344.88 329.87,345.19 329.95,344.24 330.03,345.14 330.12,344.96 330.2,345.16 330.28,344.51 330.36,345.17 330.45,344.81 330.53,345.14 330.61,344.76 330.7,345.19 330.78,344.94 330.86,345.19 330.95,344.81 331.03,345.15 331.11,344.76 331.2,345.19 331.28,345.01 331.36,345.19 331.45,344.92 331.53,345.17 331.61,344.69 331.69,345.19 331.78,344.85 331.86,345.16 331.94,344.6 332.03,345.16 332.11,344.8 332.19,345.19 332.28,344.87 332.36,345.19 332.44,344.9 332.53,345.18 332.61,344.67 332.69,345.19 332.78,344.73 332.86,345.13 332.94,344.94 333.02,345.15 333.11,344.95 333.19,345.15 333.27,345 333.36,345.14 333.44,344.74 333.52,345.15 333.61,344.65 333.69,345.16 333.77,344.75 333.86,345.19 333.94,345 334.02,345.15 334.1,344.84 334.19,345.15 334.27,344.69 334.35,345.19 334.44,344.8 334.52,345.19 334.6,344.89 334.69,345.19 334.77,345 334.85,345.15 334.94,344.5 335.02,345.17 335.1,344.91 335.19,345.16 335.27,344.94 335.35,345.14 335.43,344.78 335.52,345.13 335.6,344.81 335.68,345.15 335.77,344.76 335.85,345.17 335.93,344.97 336.02,345.16 336.1,344.79 336.18,345.18 336.27,345.03 336.35,345.16 336.43,344.86 336.52,345.15 336.6,344.81 336.68,345.14 336.76,344.79 336.85,345.16 336.93,344.88 337.01,345.13 337.1,344.96 337.18,345.16 337.26,344.99 337.35,345.14 337.43,344.65 337.51,345.19 337.6,344.79 337.68,345.15 337.76,344.88 337.84,345.16 337.93,344.92 338.01,345.18 338.09,344.86 338.18,345.18 338.26,344.66 338.34,345.14 338.43,345.02 338.51,345.17 338.59,344.91 338.68,345.19 338.76,344.78 338.84,345.13 338.93,344.7 339.01,345.18 339.09,344.91 339.17,345.17 339.26,344.81 339.34,345.18 339.42,345 339.51,345.17 339.59,344.89 339.67,345.18 339.76,344.86 339.84,345.14 339.92,344.75 340.01,345.13 340.09,344.79 340.17,345.14 340.25,344.66 340.34,345.17 340.42,344.92 340.5,345.16 340.59,344.67 340.67,345.15 340.75,344.91 340.84,345.15 340.92,344.88 341,345.17 341.09,344.81 341.17,345.16 341.25,344.84 341.34,343.85 341.42,344.86 341.5,345.16 341.58,344.86 341.67,345.19 341.75,344.98 341.83,343.66 341.92,344.73 342,345.17 342.08,344.82 342.17,345.16 342.25,344.89 342.33,345.15 342.42,344.89 342.5,343.72 342.58,344.81 342.67,345.18 342.75,344.12 342.83,345.16 342.91,344.5 343,345.19 343.08,344.76 343.16,345.18 343.25,344.94 343.33,345.16 343.41,344.96 343.5,345.14 343.58,344.99 343.66,345.17 343.75,344.99 343.83,345.14 343.91,344.69 343.99,345.18 344.08,344.86 344.16,345.16 344.24,344.99 344.33,345.14 344.41,344.83 344.49,345.14 344.58,344.66 344.66,345.14 344.74,344.81 344.83,344.92 344.91,338.95 344.99,345.13 345.08,342.88 345.16,345.02 345.24,343 345.32,345.15 345.41,344.32 345.49,344.91 345.57,342.93 345.66,345.04 345.74,343.67 345.82,345.15 345.91,342.91 345.99,344.92 346.07,343.94 346.16,345.05 346.24,342.71 346.32,344.94 346.41,340.41 346.49,345.14 346.57,343.61 346.65,344.99 346.74,341.7 346.82,345.04 346.9,342.98 346.99,345 347.07,342.82 347.15,345.03 347.24,340.94 347.32,345.05 347.4,343.93 347.49,345.11 347.57,340.74 347.65,345.12 347.73,343.49 347.82,344.93 347.9,343.93 347.98,344.96 348.07,343.36 348.15,345.12 348.23,342.75 348.32,345.06 348.4,342.96 348.48,345 348.57,343.33 348.65,345.13 348.73,344.32 348.82,344.97 348.9,344.18 348.98,344.97 349.06,343.2 349.15,344.97 349.23,342.74 349.31,345.11 349.4,342.74 349.48,344.98 349.56,343.13 349.65,345.15 349.73,344.43 349.81,345.17 349.9,343.14 349.98,345.01 350.06,343.37 350.14,345.12 350.23,340.95 350.31,345.09 350.39,342.72 350.48,345.19 350.56,344.04 350.64,345.12 350.73,343.28 350.81,344.97 350.89,344.39 350.98,345.03 351.06,343.08 351.14,344.89 351.23,343.53 351.31,345.04 351.39,342.99 351.47,344.92 351.56,343.95 351.64,345.09 351.72,344.33 351.81,345.11 351.89,343.9 351.97,345.19 352.06,343.68 352.14,345.04 352.22,344.03 352.31,344.98 352.39,343.96 352.47,345.15 352.56,343.39 352.64,345.17 352.72,342.68 352.8,345.16 352.89,344.42 352.97,344.96 353.05,343.22 353.14,344.95 353.22,343.39 353.3,345.01 353.39,344.27 353.47,345.11 353.55,343.38 353.64,345.14 353.72,344.33 353.8,345.06 353.88,340.5 353.97,345 354.05,343.41 354.13,344.93 354.22,340.45 354.3,345.1 354.38,342.8 354.47,344.99 354.55,342.09 354.63,344.96 354.72,343.42 354.8,345 354.88,344.42 354.97,345.01 355.05,344.12 355.13,344.88 355.21,343 355.3,345.19 355.38,343.22 355.46,345.01 355.55,340.9 355.63,345.18 355.71,344.02 355.8,345.16 355.88,344.24 355.96,345.07 356.05,343.53 356.13,345.13 356.21,343.61 356.29,344.93 356.38,343.44 356.46,344.9 356.54,344.09 356.63,344.89 356.71,343.78 356.79,345.12 356.88,343.44 356.96,345.06 357.04,344.29 357.13,344.88 357.21,343.83 357.29,344.92 357.38,343.57 357.46,345.13 357.54,344.25 357.62,345.18 357.71,343.26 357.79,344.97 357.87,344.29 357.96,345.02 358.04,343 358.12,344.93 358.21,344.36 358.29,345.05 358.37,344.29 358.46,345.08 358.54,344.42 358.62,345.15 358.71,343.59 358.79,344.92 358.87,344.38 358.95,344.95 359.04,343 359.12,344.9 359.2,340.96 359.29,344.97 359.37,342.86 359.45,345.04 359.54,342.79 359.62,344.89 359.7,344 359.79,345.12 359.87,340.09 359.95,344.88 360.03,342.74 360.12,345.19 360.2,344.16 360.28,345.1 360.37,343.94 360.45,345.01 360.53,344.02 360.62,345.12 360.7,344.42 360.78,345.07 360.87,343.86 360.95,344.89 361.03,342.8 361.12,345.12 361.2,344.41 361.28,345.16 361.36,343.46 361.45,344.97 361.53,344.1 361.61,344.98 361.7,342.7 361.78,345.13 361.86,344 361.95,345.08 362.03,342.8 362.11,345.11 362.2,343.58 362.28,344.92 362.36,342.74 362.45,344.95 362.53,343.92 362.61,345.18 362.69,343.36 362.78,345.13 362.86,343.88 362.94,344.88 363.03,342.78 363.11,345.13 363.19,343.5 363.28,344.91 363.36,342.99 363.44,345.08 363.53,344.35 363.61,345.11 363.69,343.32 363.77,344.89 363.86,343.29 363.94,345.14 364.02,343.23 364.11,344.95 364.19,343.64 364.27,345.03 364.36,342.89 364.44,345.03 364.52,343.57 364.61,345.16 364.69,343.09 364.77,345.12 364.86,342.93 364.94,345.15 365.02,344.22 365.1,345.04 365.19,344.08 365.27,344.96 365.35,342.69 365.44,345 365.52,344.2 365.6,344.94 365.69,343.73 365.77,345.09 365.85,344.44 365.94,344.89 366.02,344.36 366.1,345.12 366.18,343.03 366.27,345.11 366.35,341.92 366.43,344.97 366.52,343.02 366.6,344.98 366.68,343.94 366.77,345.1 366.85,343.54 366.93,345.15 367.02,342.85 367.1,344.9 367.18,341.21 367.27,344.9 367.35,343.05 367.43,344.95 367.51,340.4 367.6,344.97 367.68,342.8 367.76,344.94 367.85,343.37 367.93,344.9 368.01,343.98 368.1,344.9 368.18,343.45 368.26,345.04 368.35,342.73 368.43,345.04 368.51,343.79 368.6,344.92 368.68,343.41 368.76,344.89 368.84,343.25 368.93,345.19 369.01,343.46 369.09,345.19 369.18,343.88 369.26,344.88 369.34,343.7 369.43,345.06 369.51,343.47 369.59,344.9 369.68,341.78 369.76,344.95 369.84,343.46 369.92,344.89 370.01,344.17 370.09,345.14 370.17,343.73 370.26,344.98 370.34,344.26 370.42,345.16 370.51,342.05 370.59,344.93 370.67,343.28 370.76,345.13 370.84,342.83 370.92,345.18 371.01,344.24 371.09,344.95 371.17,343.36 371.25,344.97 371.34,344.21 371.42,344.95 371.5,343.3 371.59,345.11 371.67,343.93 371.75,345.01 371.84,344.42 371.92,345.13 372,343.21 372.09,345.12 372.17,343.89 372.25,345.03 372.33,344.28 372.42,345.02 372.5,340.67 372.58,345.08 372.67,343.29 372.75,345.07 372.83,342.84 372.92,344.9 373,342.75 373.08,345.15 373.17,342.91 373.25,345 373.33,343.9 373.42,344.87 373.5,339.52 373.58,345.02 373.66,343.37 373.75,345.14 373.83,344.13 373.91,345.13 374,343.7 374.08,345.1 374.16,343 374.25,345.04 374.33,341.63 374.41,345.04 374.5,343.06 374.58,344.98 374.66,343.12 374.75,345.19 374.83,344.11 374.91,345.03 374.99,344.08 375.08,345.2 375.16,343.73 375.24,344.88 375.33,342.87 375.41,345.06 375.49,343.54 375.58,344.99 375.66,342.93 375.74,345.06 375.83,343.96 375.91,344.88 375.99,342.77 376.07,344.95 376.16,343.06 376.24,345.09 376.32,342.7 376.41,345.13 376.49,343.28 376.57,345.15 376.66,341.8 376.74,345.06 376.82,344.18 376.91,344.93 376.99,343.82 377.07,345.18 377.16,341.19 377.24,345.09 377.32,342.76 377.4,344.96 377.49,344.14 377.57,345.07 377.65,344.37 377.74,345 377.82,344.44 377.9,344.96 377.99,343.03 378.07,345.04 378.15,343.43 378.24,345.01 378.32,343.61 378.4,345.18 378.49,341.83 378.57,345.14 378.65,343.03 378.73,345.15 378.82,342.7 378.9,345.19 378.98,343.74 379.07,344.88 379.15,343.32 379.23,345.05 379.32,343.86 379.4,345.04 379.48,343.57 379.57,345.01 379.65,341.62 379.73,344.93 379.81,343.39 379.9,344.9 379.98,341.82 380.06,345.06 380.15,343.56 380.23,345.16 380.31,342.71 380.4,345.05 380.48,343.14 380.56,344.96 380.65,343.05 380.73,344.89 380.81,344.38 380.9,345.16 380.98,342.48 381.06,345.07 381.14,340.64 381.23,344.98 381.31,341.76 381.39,345.11 381.48,342.74 381.56,344.97 381.64,343.46 381.73,344.97 381.81,343.51 381.89,344.96 381.98,343.38 382.06,345.1 382.14,343.87 382.22,345.01 382.31,343.54 382.39,345.2 382.47,340.49 382.56,345.02 382.64,343.88 382.72,345.11 382.81,342.97 382.89,345 382.97,343.9 383.06,345.16 383.14,343.91 383.22,345 383.31,343.83 383.39,344.87 383.47,343.57 383.55,345.15 383.64,343.35 383.72,345.03 383.8,344.38 383.89,345.14 383.97,338.95 384.05,345 384.14,343.46 384.22,344.94 384.3,343.82 384.39,345.11 384.47,341.36 384.55,345.11 384.64,344.04 384.72,344.92 384.8,342.76 384.88,345.02 384.97,343.98 385.05,345.08 385.13,343.88 385.22,345.01 385.3,342.94 385.38,345.07 385.47,343.82 385.55,345 385.63,344.26 385.72,345.06 385.8,343.79 385.88,344.89 385.96,343.18 386.05,345.16 386.13,343.62 386.21,345.11 386.3,343.89 386.38,345.11 386.46,343.83 386.55,344.97 386.63,343.69 386.71,345.09 386.8,343.56 386.88,345.1 386.96,344.18 387.05,344.95 387.13,343.63 387.21,345.06 387.29,343.3 387.38,345.05 387.46,342.96 387.54,345.2 387.63,343.53 387.71,344.99 387.79,341.46 387.88,344.88 387.96,343.09 388.04,345.03 388.13,343.84 388.21,344.88 388.29,343.94 388.37,344.91 388.46,342.97 388.54,344.9 388.62,341.4 388.71,345.12 388.79,344.17 388.87,345.04 388.96,343.15 389.04,344.88 389.12,344.38 389.21,345.06 389.29,343.08 389.37,345.2 389.46,342.88 389.54,345.08 389.62,342.75 389.7,345.06 389.79,343.97 389.87,338.71 389.95,343.38 390.04,345.05 390.12,343.44 390.2,345.1 390.29,339.52 390.37,344.97 390.45,342.8 390.54,345.12 390.62,342.92 390.7,344.9 390.79,343.5 390.87,345.08 390.95,344.4 391.03,344.93 391.12,344.31 391.2,345.08 391.28,343.48 391.37,345.04 391.45,343.98 391.53,345.17 391.62,344.07 391.7,345.02 391.78,343.25 391.87,345.16 391.95,342.83 392.03,344.89 392.11,341.1 392.2,345.12 392.28,343.08 392.36,345.01 392.45,343.41 392.53,344.94 392.61,342.76 392.7,345.06 392.78,344.18 392.86,344.97 392.95,344.06 393.03,344.88 393.11,344.25 393.2,345.14 393.28,342.85 393.36,345.04 393.44,343.47 393.53,345.04 393.61,343.37 393.69,345.1 393.78,344.31 393.86,344.96 393.94,344.22 394.03,345.03 394.11,343.74 394.19,345.01 394.28,343.51 394.36,345.08 394.44,344.37 394.53,344.97 394.61,343.46 394.69,345.05 394.77,342.57 394.86,345.13 394.94,343.17 395.02,345.04 395.11,343.97 395.19,345.04 395.27,343.36 395.36,344.97 395.44,342.95 395.52,344.93 395.61,341.74 395.69,345.08 395.77,342.4 395.85,345.12 395.94,343.27 396.02,344.89 396.1,342.97 396.19,344.94 396.27,343.7 396.35,344.98 396.44,343.99 396.52,344.96 396.6,343.96 396.69,345.16 396.77,342.7 396.85,345.13 396.94,344.03 397.02,345.01 397.1,342.9 397.18,345.17 397.27,343.12 397.35,344.89 397.43,343.26 397.52,345.07 397.6,343.02 397.68,345.19 397.77,342.87 397.85,345.02 397.93,344.2 398.02,345.1 398.1,343.29 398.18,345.05 398.26,343.8 398.35,345.03 398.43,343.03 398.51,344.98 398.6,343.59 398.68,344.88 398.76,343.57 398.85,345.16 398.93,343.78 399.01,345.05 399.1,344.16 399.18,345.17 399.26,343.19 399.35,345.03 399.43,343.38 399.51,345.18 399.59,342.81 399.68,345.18 399.76,342.8 399.84,344.96 399.93,343.09 400.01,344.97 400.09,344.03 400.18,338.29 400.26,343.08 400.34,345.16 400.43,344.12 400.51,345.12 400.59,343.77 400.68,344.91 400.76,343.8 400.84,345.02 400.92,343.54 401.01,345.06 401.09,343.67 401.17,344.91 401.26,344.43 401.34,345.01 401.42,342.86 401.51,344.88 401.59,339.16 401.67,345.19 401.76,343.74 401.84,344.94 401.92,342.7 402,345.03 402.09,343.68 402.17,344.99 402.25,343.91 402.34,345.17 402.42,343.59 402.5,345.19 402.59,342.98 402.67,345.07 402.75,342.8 402.84,344.97 402.92,342.85 403,345.15 403.09,344.12 403.17,345.11 403.25,343.66 403.33,344.9 403.42,343.26 403.5,345.19 403.58,342.69 403.67,344.93 403.75,344.31 403.83,345.09 403.92,343.81 404,344.9 404.08,343.89 404.17,345.16 404.25,342.95 404.33,345.07 404.42,343.44 404.5,345.09 404.58,339.14 404.66,344.89 404.75,343.14 404.83,345.06 404.91,342.73 405,345.16 405.08,343.39 405.16,345.13 405.25,342.81 405.33,344.94 405.41,341.2 405.5,345.02 405.58,342.98 405.66,345.14 405.74,343.75 405.83,345.03 405.91,344.02 405.99,344.95 406.08,343.15 406.16,344.98 406.24,343.9 406.33,345.13 406.41,342.69 406.49,344.88 406.58,343.68 406.66,345.14 406.74,343.87 406.83,345.1 406.91,342.87 406.99,344.95 407.07,342.97 407.16,345.11 407.24,343.4 407.32,344.99 407.41,341.64 407.49,345.14 407.57,344.31 407.66,345.18 407.74,343.26 407.82,345.02 407.91,343.32 407.99,345.19 408.07,343.52 408.15,345.13 408.24,343.23 408.32,344.9 408.4,344.18 408.49,344.99 408.57,343.76 408.65,345.03 408.74,344.05 408.82,344.98 408.9,342.96 408.99,345.01 409.07,344.42 409.15,344.98 409.24,342.8 409.32,345.07 409.4,343.13 409.48,344.92 409.57,343.14 409.65,345.15 409.73,344.44 409.82,344.99 409.9,344.27 409.98,345.19 410.07,343.57 410.15,345.08 410.23,343.74 410.32,345.18 410.4,342.87 410.48,345.09 410.57,344.34 410.65,345.06 410.73,343.1 410.81,345.11 410.9,344.04 410.98,344.95 411.06,344.2 411.15,344.99 411.23,343.16 411.31,345.01 411.4,342.99 411.48,345.2 411.56,343.35 411.65,345.14 411.73,344.04 411.81,345.08 411.89,342.74 411.98,345.13 412.06,343.34 412.14,344.96 412.23,343.87 412.31,345.13 412.39,343.3 412.48,345.01 412.56,343.73 412.64,345.09 412.73,343.71 412.81,344.98 412.89,343.96 412.98,344.92 413.06,341.77 413.14,345.04 413.22,343.65 413.31,345.07 413.39,344 413.47,345.04 413.56,342.96 413.64,345.09 413.72,344.02 413.81,344.94 413.89,343.06 413.97,345.15 414.06,343.56 414.14,345.1 414.22,343.92 414.3,345.12 414.39,342.74 414.47,344.96 414.55,343.17 414.64,345.14 414.72,343.27 414.8,344.95 414.89,343.91 414.97,344.92 415.05,343.53 415.14,345.09 415.22,344.28 415.3,344.88 415.39,344.19 415.47,345.12 415.55,342.97 415.63,345 415.72,343.57 415.8,345.1 415.88,343.56 415.97,345.13 416.05,341.94 416.13,344.98 416.22,343.66 416.3,344.99 416.38,343.07 416.47,344.94 416.55,343.46 416.63,344.9 416.72,344.09 416.8,345.14 416.88,344.27 416.96,345.18 417.05,342.93 417.13,345.19 417.21,342.85 417.3,345.13 417.38,343.42 417.46,345.11 417.55,344.05 417.63,345 417.71,344.26 417.8,345.12 417.88,344.43 417.96,344.99 418.04,342.92 418.13,344.99 418.21,342.85 418.29,345.14 418.38,342.71 418.46,345.01 418.54,343.37 418.63,345.04 418.71,344.38 418.79,344.96 418.88,343.44 418.96,345.18 419.04,343.22 419.13,345.1 419.21,343.47 419.29,344.91 419.37,343.73 419.46,345.17 419.54,342.68 419.62,345.12 419.71,343.54 419.79,344.98 419.87,340.49 419.96,345.2 420.04,342.58 420.12,345.19 420.21,344.08 420.29,345.1 420.37,343.07 420.46,344.96 420.54,342.96 420.62,344.96 420.7,343.1 420.79,344.93 420.87,343.35 420.95,345.13 421.04,343.54 421.12,345 421.2,343.22 421.29,345.19 421.37,343.21 421.45,345.18 421.54,344.34 421.62,345.18 421.7,341.52 421.78,345.12 421.87,344.06 421.95,344.92 422.03,343.4 422.12,345.11 422.2,343.43 422.28,345.14 422.37,343.37 422.45,345.14 422.53,342.73 422.62,345.18 422.7,343.62 422.78,344.9 422.87,342.23 422.95,345.17 423.03,343.24 423.11,345.08 423.2,343.61 423.28,344.95 423.36,341.16 423.45,345.05 423.53,343.62 423.61,345 423.7,343.01 423.78,344.99 423.86,344.12 423.95,345.2 424.03,343 424.11,345.02 424.19,344.28 424.28,345.17 424.36,343.47 424.44,345.05 424.53,342.69 424.61,345.09 424.69,343.53 424.78,344.9 424.86,344.02 424.94,344.93 425.03,343.27 425.11,344.97 425.19,342.83 425.28,344.88 425.36,344.24 425.44,344.89 425.52,342.66 425.61,344.98 425.69,343.77 425.77,344.89 425.86,340.98 425.94,344.9 426.02,343.9 426.11,345.01 426.19,343.46 426.27,345.05 426.36,342.87 426.44,345.17 426.52,344.23 426.61,344.93 426.69,343.92 426.77,344.95 426.85,344.42 426.94,345 427.02,342.93 427.1,344.88 427.19,343.99 427.27,345.08 427.35,342.75 427.44,344.92 427.52,343.25 427.6,344.97 427.69,343.61 427.77,345.03 427.85,344.18 427.93,344.94 428.02,342.87 428.1,345.18 428.18,342.25 428.27,344.88 428.35,340.88 428.43,344.92 428.52,342.77 428.6,345.12 428.68,341.52 428.77,344.96 428.85,343.95 428.93,345.12 429.02,343.15 429.1,344.95 429.18,343.32 429.26,345.15 429.35,343.83 429.43,345.02 429.51,344.06 429.6,345.16 429.68,340.27 429.76,344.93 429.85,344.17 429.93,345.19 430.01,343.42 430.1,344.89 430.18,343.84 430.26,344.98 430.34,343.09 430.43,345.1 430.51,343.17 430.59,344.96 430.68,343.95 430.76,345.11 430.84,342.99 430.93,345.05 431.01,343.05 431.09,345.07 431.18,343.66 431.26,345.07 431.34,343.3 431.43,344.95 431.51,343.25 431.59,345.01 431.67,344.39 431.76,345.06 431.84,344.2 431.92,344.93 432.01,342.98 432.09,344.91 432.17,343.19 432.26,345.15 432.34,343.5 432.42,344.93 432.51,340.78 432.59,345 432.67,341.26 432.76,345.1 432.84,343.43 432.92,344.91 433,343.11 433.09,344.89 433.17,343.05 433.25,345 433.34,344.3 433.42,345.09 433.5,342.15 433.59,345.14 433.67,340.25 433.75,345.02 433.84,343.46 433.92,344.92 434,344.3 434.08,345.04 434.17,342.82 434.25,345.16 434.33,343.88 434.42,345.12 434.5,342.72 434.58,344.91 434.67,343.85 434.75,345.09 434.83,343.54 434.92,345.18 435,342.98 435.08,345.02 435.17,343.69 435.25,345.04 435.33,343.18 435.41,345.07 435.5,341.93 435.58,345.17 435.66,343.39 435.75,345.12 435.83,343.52 435.91,345.06 436,344.39 436.08,344.98 436.16,342.2 436.25,344.96 436.33,343.93 436.41,345.2 436.5,344.17 436.58,345.08 436.66,343.94 436.74,345.13 436.83,344.24 436.91,345.01 436.99,338.73 437.08,344.96 437.16,343.1 437.24,344.96 437.33,343.11 437.41,345.01 437.49,343.2 437.58,345.08 437.66,343.9 437.74,345.15 437.82,343.86 437.91,345.1 437.99,343.69 438.07,345.09 438.16,344.12 438.24,345.11 438.32,343.74 438.41,344.95 438.49,341.25 438.57,345.04 438.66,343.31 438.74,344.96 438.82,343.62 438.91,345.17 438.99,343.77 439.07,344.91 439.15,344.05 439.24,345.19 439.32,343.19 439.4,344.99 439.49,342.14 439.57,344.89 439.65,343.28 439.74,345.1 439.82,344.04 439.9,345.11 439.99,343.94 440.07,345.11 440.15,342.77 440.23,344.92 440.32,343.56 440.4,345 440.48,343.21 440.57,344.9 440.65,342.83 440.73,345.13 440.82,344.23 440.9,344.98 440.98,343.56 441.07,344.99 441.15,343.55 441.23,344.9 441.32,340.44 441.4,344.94 441.48,343.31 441.56,344.93 441.65,344.19 441.73,345.12 441.81,343.51 441.9,344.95 441.98,344.1 442.06,345.18 442.15,344.41 442.23,345.02 442.31,343.8 442.4,345.2 442.48,343.89 442.56,344.94 442.65,343.01 442.73,345.17 442.81,344.24 442.89,344.93 442.98,343.42 443.06,345.12 443.14,343.48 443.23,345 443.31,343.37 443.39,345.16 443.48,343.88 443.56,345.04 443.64,343.05 443.73,344.91 443.81,344.14 443.89,345.03 443.97,343.01 444.06,344.92 444.14,342.78 444.22,344.94 444.31,342.95 444.39,345.18 444.47,341.2 444.56,345.01 444.64,343.85 444.72,345.04 444.81,342.63 444.89,345.16 444.97,342.96 445.06,345.01 445.14,343.1 445.22,344.94 445.3,343.22 445.39,345.03 445.47,343.47 445.55,345.06 445.64,342.78 445.72,344.97 445.8,343.3 445.89,344.92 445.97,342.78 446.05,345.04 446.14,344.12 446.22,344.93 446.3,343.24 446.38,345.01 446.47,343.64 446.55,345.15 446.63,341.32 446.72,345.15 446.8,343.51 446.88,344.91 446.97,342.68 447.05,345.07 447.13,344.33 447.22,345.15 447.3,340.9 447.38,345.19 447.47,343.5 447.55,344.98 447.63,344.19 447.71,344.98 447.8,343.96 447.88,345.09 447.96,343.87 448.05,345.08 448.13,344.44 448.21,338.63 448.3,342.96 448.38,344.92 448.46,344.05 448.55,345.18 448.63,343.31 448.71,345.13 448.8,344.2 448.88,345.19 448.96,340.18 449.04,344.96 449.13,341.92 449.21,344.9 449.29,343.22 449.38,345.06 449.46,344.37 449.54,345.18 449.63,341.17 449.71,344.98 449.79,344.25 449.88,345.19 449.96,344.44 450.04,344.92 450.12,342.85 450.21,345 450.29,344.28 450.37,345.04 450.46,343.99 450.54,344.88 450.62,340.9 450.71,345.03 450.79,343.62 450.87,344.96 450.96,342.71 451.04,345.02 451.12,342.26 451.21,344.88 451.29,344.3 451.37,344.96 451.45,343.92 451.54,345.05 451.62,344.12 451.7,345.17 451.79,344.1 451.87,345.13 451.95,342.86 452.04,344.9 452.12,343.97 452.2,344.93 452.29,344.41 452.37,344.94 452.45,342.84 452.54,344.93 452.62,340.07 452.7,345 452.78,343.62 452.87,344.97 452.95,344.04 453.03,344.96 453.12,342.7 453.2,345.13 453.28,342.26 453.37,344.96 453.45,343.25 453.53,345.14 453.62,342.71 453.7,344.9 453.78,343.38 453.86,345.18 453.95,341.39 454.03,345.18 454.11,343.75 454.2,345.04 454.28,344.1 454.36,345.06 454.45,343.74 454.53,345.11 454.61,343.3 454.7,345.11 454.78,342.78 454.86,344.91 454.95,344.21 455.03,345.08 455.11,344.29 455.19,344.95 455.28,342.96 455.36,345.14 455.44,341.47 455.53,344.92 455.61,344.08 455.69,345.09 455.78,344.37 455.86,344.9 455.94,343.61 456.03,345.11 456.11,342.98 456.19,344.9 456.27,344.06 456.36,345.19 456.44,343.9 456.52,345.02 456.61,343.78 456.69,345.05 456.77,343.21 456.86,345.03 456.94,343.29 457.02,344.9 457.11,343.21 457.19,345 457.27,344.34 457.36,344.96 457.44,342.9 457.52,345.13 457.6,342.69 457.69,344.9 457.77,343.84 457.85,345.02 457.94,343.5 458.02,344.94 458.1,342.3 458.19,344.88 458.27,343.88 458.35,344.96 458.44,343.12 458.52,345.13 458.6,343.24 458.69,345.15 458.77,344.39 458.85,345.12 458.93,339.03 459.02,345.04 459.1,343.22 459.18,344.89 459.27,344.26 459.35,345.03 459.43,344 459.52,345.15 459.6,343.16 459.68,345.11 459.77,343.66 459.85,344.94 459.93,342.84 460.01,345.14 460.1,344.14 460.18,345.17 460.26,343.42 460.35,344.93 460.43,343.25 460.51,345.12 460.6,343.43 460.68,344.89 460.76,343.6 460.85,344.94 460.93,342.17 461.01,344.91 461.1,343.8 461.18,345.04 461.26,344.12 461.34,345.11 461.43,343.65 461.51,345.06 461.59,343.03 461.68,345 461.76,343.68 461.84,345.13 461.93,343.53 462.01,345.11 462.09,342.84 462.18,345.14 462.26,342.9 462.34,345.13 462.43,342.8 462.51,344.96 462.59,342.75 462.67,345.12 462.76,343.21 462.84,345.14 462.92,343.78 463.01,345.11 463.09,342.97 463.17,344.95 463.26,344.32 463.34,345.12 463.42,343.27 463.51,344.95 463.59,342.82 463.67,345.15 463.75,343.62 463.84,345.09 463.92,342.74 464,345.14 464.09,343.62 464.17,344.96 464.25,343.01 464.34,345.18 464.42,343.73 464.5,344.89 464.59,343.28 464.67,345.05 464.75,342.85 464.84,345.15 464.92,343.51 465,344.99 465.08,338.29 465.17,345.15 465.25,343.41 465.33,345.14 465.42,344.15 465.5,345.09 465.58,343.17 465.67,345.03 465.75,343.18 465.83,345.07 465.92,342.82 466,345.16 466.08,344 466.16,345.17 466.25,344.33 466.33,345.15 466.41,344.18 466.5,345.1 466.58,343.18 466.66,339.98 466.75,344.07 466.83,345.07 466.91,344.11 467,345.01 467.08,343.87 467.16,337.92 467.25,343.49 467.33,345.13 467.41,342.93 467.49,345.13 467.58,343.71 467.66,345.13 467.74,343.32 467.83,345.19 467.91,344 467.99,344.97 468.08,343.71 468.16,345.16 468.24,343.77 468.33,345 468.41,343.33 468.49,344.9 468.58,340.66 468.66,345.16 468.74,343.93 468.82,345.08 468.91,343.26 468.99,344.93 469.07,343.84 469.16,345.09 469.24,343.86 469.32,344.9 469.41,343.01 469.49,345.15 469.57,343.75 469.66,345.16 469.74,341.64 469.82,345.14 469.9,343.57 469.99,344.88 470.07,342.74 470.15,345.02 470.24,344.1 470.32,345.11 470.4,343.3 470.49,344.96 470.57,342.71 470.65,344.96 470.74,343.78 470.82,338.58 470.9,344.26 470.99,345.09 471.07,344 471.15,344.9 471.23,342.94 471.32,345.11 471.4,343.75 471.48,345.04 471.57,342.78 471.65,344.9 471.73,343.15 471.82,345.11 471.9,343.31 471.98,345.16 472.07,342.14 472.15,337.86 472.23,342.74 472.31,345.09 472.4,343.48 472.48,344.9 472.56,343.54 472.65,344.98 472.73,341.58 472.81,344.97 472.9,342.91 472.98,344.91 473.06,343.32 473.15,345.13 473.23,344.32 473.31,345.13 473.4,342.3 473.48,345.17 473.56,343.68 473.64,344.98 473.73,342.87 473.81,344.88 473.89,344.44 473.98,345.03 474.06,344.09 474.14,344.99 474.23,343.95 474.31,345.15 474.39,342.71 474.48,344.9 474.56,344.42 474.64,345.1 474.73,343.93 474.81,345.05 474.89,344.38 474.97,345.01 475.06,343.54 475.14,345.17 475.22,344.34 475.31,345.06 475.39,339.98 475.47,345.11 475.56,343.26 475.64,344.92 475.72,343.55 475.81,344.95 475.89,343.73 475.97,345 476.05,344.04 476.14,345.15 476.22,343.61 476.3,344.95 476.39,343.15 476.47,344.91 476.55,343.39 476.64,345.06 476.72,342.67 476.8,345.18 476.89,343.53 476.97,344.98 477.05,341.61 477.14,345.04 477.22,343.71 477.3,345.19 477.38,342.38 477.47,345.09 477.55,340.84 477.63,344.96 477.72,343.13 477.8,345.04 477.88,342.88 477.97,344.9 478.05,343.89 478.13,344.96 478.22,344.35 478.3,344.98 478.38,344.1 478.47,344.94 478.55,342.71 478.63,344.99 478.71,344.09 478.8,345.03 478.88,340.78 478.96,345.04 479.05,344.23 479.13,345.1 479.21,343.86 479.3,345 479.38,342.9 479.46,344.88 479.55,343.68 479.63,345.19 479.71,343.56 479.79,344.92 479.88,343 479.96,345.12 480.04,343.85 480.13,345.07 480.21,344.16 480.29,344.9 480.38,343.71 480.46,345.05 480.54,342.92 480.63,345.19 480.71,343.1 480.79,345.05 480.88,344.08 480.96,345.04 481.04,341.67 481.12,339.34 481.21,342.74 481.29,345.02 481.37,343 481.46,345.03 481.54,344.34 481.62,345.06 481.71,344.4 481.79,345.12 481.87,343.43 481.96,345 482.04,343.32 482.12,344.95 482.2,343.93 482.29,345 482.37,343.81 482.45,344.95 482.54,343.36 482.62,345.16 482.7,343.86 482.79,345.15 482.87,342.94 482.95,345.07 483.04,341.43 483.12,345.09 483.2,343.78 483.29,345.1 483.37,344.31 483.45,345.11 483.53,342.8 483.62,345.12 483.7,343.58 483.78,344.88 483.87,342.77 483.95,344.95 484.03,343.73 484.12,345.08 484.2,343.05 484.28,345.2 484.37,343.01 484.45,345.13 484.53,343.4 484.62,345.19 484.7,342.68 484.78,344.95 484.86,344.12 484.95,345.07 485.03,342.68 485.11,345.08 485.2,343.56 485.28,344.98 485.36,340.6 485.45,344.92 485.53,343.21 485.61,344.87 485.7,342.22 485.78,345.07 485.86,341.34 485.94,345.03 486.03,343.56 486.11,344.89 486.19,341.86 486.28,345.11 486.36,343.22 486.44,345.04 486.53,342.7 486.61,344.92 486.69,343.73 486.78,344.93 486.86,340.15 486.94,344.97 487.03,344.38 487.11,344.95 487.19,342.8 487.27,344.89 487.36,343.56 487.44,345.17 487.52,343.56 487.61,344.93 487.69,343.08 487.77,344.88 487.86,343.16 487.94,345.07 488.02,343.64 488.11,344.99 488.19,340.69 488.27,338.06 488.35,341.63 488.44,344.94 488.52,343.52 488.6,344.91 488.69,344.08 488.77,345.03 488.85,337.97 488.94,344.95 489.02,343.53 489.1,345.05 489.19,343.78 489.27,344.89 489.35,343.8 489.44,345.12 489.52,343.91 489.6,345.1 489.68,344.32 489.77,345.09 489.85,344.32 489.93,345.03 490.02,342.78 490.1,345.14 490.18,344.39 490.27,345.04 490.35,343.92 490.43,345.09 490.52,343.91 490.6,345.1 490.68,342.81 490.77,345.16 490.85,343.88 490.93,344.91 491.01,340.71 491.1,344.92 491.18,343.73 491.26,345.11 491.35,343.56 491.43,344.96 491.51,343.94 491.6,344.98 491.68,343.33 491.76,345.07 491.85,343.64 491.93,345.17 492.01,342.41 492.09,345.15 492.18,342.73 492.26,345.11 492.34,343.27 492.43,344.9 492.51,344.4 492.59,345.07 492.68,342.92 492.76,345.1 492.84,342.48 492.93,345.04 493.01,343.29 493.09,345.08 493.18,344.25 493.26,344.94 493.34,343.72 493.42,344.94 493.51,343.72 493.59,344.98 493.67,341.72 493.76,345.17 493.84,342.72 493.92,345.1 494.01,342.76 494.09,345.08 494.17,342.97 494.26,344.96 494.34,344.41 494.42,345.01 494.51,343.42 494.59,345.08 494.67,343.79 494.75,344.88 494.84,343.14 494.92,344.96 495,342.68 495.09,345 495.17,343.99 495.25,345.17 495.34,344.13 495.42,345.15 495.5,344.4 495.59,345 495.67,343.85 495.75,345 495.83,344.33 495.92,345.1 496,343.96 496.08,345.08 496.17,342.89 496.25,345.19 496.33,344.24 496.42,344.95 496.5,344.32 496.58,345.13 496.67,344 496.75,345.14 496.83,343.26 496.92,345.09 497,343.39 497.08,345.13 497.16,343.29 497.25,344.9 497.33,343.48 497.41,344.89 497.5,340.54 497.58,344.99 497.66,343.62 497.75,344.92 497.83,343.71 497.91,345.08 498,342.81 498.08,345.19 498.16,343.79 498.24,344.89 498.33,343.03 498.41,345.12 498.49,342.81 498.58,345.16 498.66,343.96 498.74,345.16 498.83,341.75 498.91,345.19 498.99,343.73 499.08,345.12 499.16,343.1 499.24,345.05 499.33,344.13 499.41,345.08 499.49,343.49 499.57,344.95 499.66,343.45 499.74,345.03 499.82,343.79 499.91,345.03 499.99,343.31 500.07,345.11 500.16,343.9 500.24,344.97 500.32,342.75 500.41,345.1 500.49,343.08 500.57,344.96 500.66,342.93 500.74,345.12 500.82,344.39 500.9,345.11 500.99,343.19 501.07,344.95 501.15,344.21 501.24,344.98 501.32,340.59 501.4,345.03 501.49,342.67 501.57,344.89 501.65,343.19 501.74,344.89 501.82,342.95 501.9,345.15 501.98,344.32 502.07,345.05 502.15,343.68 502.23,345.07 502.32,343.97 502.4,344.93 502.48,343.8 502.57,345.07 502.65,342.76 502.73,345.19 502.82,343.72 502.9,344.91 502.98,343.58 503.07,345.2 503.15,342.87 503.23,345.07 503.31,344.04 503.4,345.17 503.48,340.98 503.56,345.02 503.65,341.63 503.73,344.9 503.81,342.69 503.9,338.78 503.98,343.44 504.06,344.93 504.15,341.1 504.23,345.04 504.31,342.7 504.39,344.93 504.48,343.57 504.56,344.9 504.64,342.98 504.73,345.01 504.81,343.53 504.89,344.95 504.98,343.71 505.06,345.11 505.14,343.56 505.23,345.05 505.31,343.64 505.39,344.99 505.48,343.16 505.56,345.12 505.64,343.26 505.72,345 505.81,342.74 505.89,344.9 505.97,342.99 506.06,344.95 506.14,342.4 506.22,344.97 506.31,343.65 506.39,345.19 506.47,343.39 506.56,345.17 506.64,344.11 506.72,345.17 506.81,343.23 506.89,344.94 506.97,341.3 507.05,344.96 507.14,342.82 507.22,344.95 507.3,344.39 507.39,345.1 507.47,341.17 507.55,344.96 507.64,343.75 507.72,345.18 507.8,342.73 507.89,344.99 507.97,343.74 508.05,344.88 508.13,343.95 508.22,345.19 508.3,344.3 508.38,345.03 508.47,343.91 508.55,344.88 508.63,343.91 508.72,344.89 508.8,342.96 508.88,344.98 508.97,343.32 509.05,345.07 509.13,343.66 509.22,345.14 509.3,344.23 509.38,345.14 509.46,343.4 509.55,345.12 509.63,342.97 509.71,345.05 509.8,343.22 509.88,344.95 509.96,343.53 510.05,344.99 510.13,342.56 510.21,345.04 510.3,344.24 510.38,344.91 510.46,343.1 510.55,345.03 510.63,343.85 510.71,344.97 510.79,342.4 510.88,345.01 510.96,342.38 511.04,344.95 511.13,343.38 511.21,344.88 511.29,343.18 511.38,344.93 511.46,344.14 511.54,345.1 511.63,343.26 511.71,344.95 511.79,340.57 511.87,345.18 511.96,343.62 512.04,345.18 512.12,343.41 512.21,344.88 512.29,343.32 512.37,344.88 512.46,343.1 512.54,344.93 512.62,343.45 512.71,345.2 512.79,344.01 512.87,344.92 512.96,344.08 513.04,345 513.12,343.89 513.2,345.02 513.29,343.01 513.31,342.75 513.74,335.41 514.05,341.94 514.31,323.17 514.65,341.12 515,325.62 515.26,337.04 515.47,327.04 515.9,247.28 516.1,201.58 516.29,251.36 516.63,274.52 516.96,322.7 517.36,274.29 517.75,328.08 518.19,261.15 518.64,291.76 519.07,318.62 519.55,286.92 519.94,333.34 520.27,340.3 520.83,322.28 521.2,268.5 521.79,327.98 522.25,320.92 522.63,278.02 523.07,327.05 523.42,277.77 523.89,322.09 524.5,261.15 524.9,320.76 525.33,295.11 525.65,324.63 526.16,289.67 526.53,324.75 527.06,292.3 527.49,320.16 527.94,292.22 528.22,255.44 528.39,227.7 528.56,255.44 528.92,272.24 529.3,322.43 529.8,299.55 530.31,333.27 530.51,252.99 530.7,269.13 531.06,329.11 531.44,328.66 531.9,329.39 532.37,284.62 532.6,260.34 532.88,324.88 533.28,285.45 533.4,333.78" fill="none" stroke="#e3142f" stroke-width="0.48" stroke-opacity="1" stroke-linejoin="round"/>
<line x1="348.7" y1="345.2" x2="348.7" y2="213.01" stroke="#e3142f" stroke-width="0.4" stroke-opacity="1"/>
<line x1="507.95" y1="345.2" x2="507.95" y2="278.29" stroke="#e3142f" stroke-width="0.4" stroke-opacity="1"/>
<line x1="501.5" y1="345.2" x2="501.5" y2="333.78" stroke="#e3142f" stroke-width="0.4" stroke-opacity="1"/>
<rect x="309.2" y="197.1" width="36.4" height="21.6" rx="1.2" fill="#fff" fill-opacity="0.8" stroke="#d4d4d4" stroke-width="0.5"/>
<line x1="312" y1="202.6" x2="325.2" y2="202.6" stroke="#1eaaf0" stroke-width="0.5" stroke-opacity="0.8"/>
<line x1="312" y1="212.1" x2="325.2" y2="212.1" stroke="#e3142f" stroke-width="0.9" stroke-opacity="0.5"/>
<text transform="translate(329.8 205.2) scale(1.07 1)" class="g">train</text>
<text transform="translate(329.8 214.3) scale(1.07 1)" class="g">test</text>
</svg>
</body></html>
